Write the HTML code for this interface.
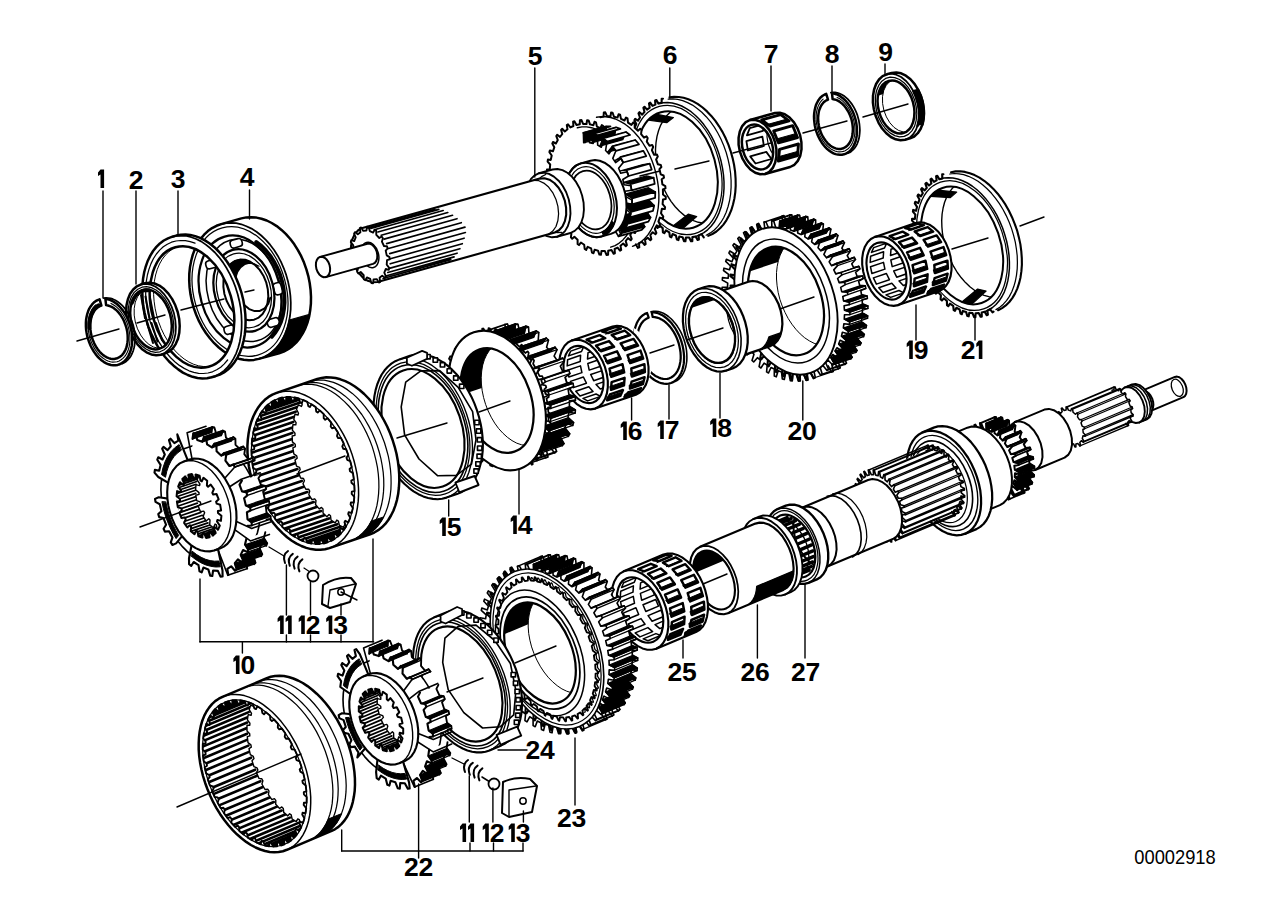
<!DOCTYPE html>
<html><head><meta charset="utf-8"><style>html,body{margin:0;padding:0;background:#fff;}svg{display:block;}</style></head>
<body><svg width="1288" height="910" viewBox="0 0 1288 910" stroke-linejoin="round" stroke-linecap="round">
<defs><clipPath id="c1"><path d="M903.3 133.0L907.4 130.9L910.7 127.2L913.1 122.1L914.3 115.9L914.2 109.2L912.9 102.3L910.4 95.7L907.0 89.9L902.8 85.3L898.2 82.1L893.4 80.7L888.7 81.0L884.6 83.1L881.3 86.8L878.9 91.9L877.7 98.1L877.8 104.8L879.1 111.7L881.6 118.3L885.0 124.1L889.2 128.7L893.8 131.9L898.6 133.3L903.3 133.0Z"/></clipPath><clipPath id="c2"><path d="M763.7 169.1L767.8 166.8L770.9 162.5L772.8 156.8L773.1 150.0L771.9 143.0L769.3 136.3L765.5 130.8L761.0 126.8L756.1 124.7L751.3 124.9L747.2 127.2L744.1 131.5L742.2 137.2L741.9 144.0L743.1 151.0L745.7 157.7L749.5 163.2L754.0 167.2L758.9 169.3L763.7 169.1Z"/></clipPath><clipPath id="c3"><path d="M693.1 227.7L697.4 226.0L701.4 223.6L705.1 220.4L708.4 216.5L711.3 212.0L713.7 206.8L715.5 201.2L716.8 195.1L717.6 188.7L717.8 182.0L717.4 175.1L716.4 168.2L714.9 161.2L712.9 154.5L710.4 147.9L707.3 141.6L703.9 135.8L700.1 130.4L696.0 125.5L691.6 121.3L686.9 117.8L682.2 115.0L677.4 113.0L672.5 111.8L667.8 111.4L663.2 111.8L658.7 113.1L654.5 115.1L650.7 117.9L647.2 121.5L644.1 125.7L641.5 130.5L639.3 135.9L637.8 141.8L636.7 148.1L636.2 154.7L636.3 161.4L637.0 168.4L638.2 175.3L640.0 182.2L642.3 188.9L645.1 195.3L648.3 201.4L652.0 207.0L655.9 212.1L660.2 216.6L664.7 220.5L669.4 223.7L674.2 226.1L679.0 227.7L683.8 228.5L688.6 228.5L693.1 227.7Z"/></clipPath><clipPath id="c4"><path d="M255.3 346.4L259.9 344.7L264.2 342.1L268.2 338.8L271.7 334.8L274.7 330.1L277.2 324.8L279.2 319.1L280.5 312.9L281.2 306.4L281.3 299.6L280.8 292.8L279.7 285.9L277.9 279.1L275.6 272.5L272.8 266.2L269.4 260.2L265.6 254.8L261.4 249.9L256.9 245.6L252.2 242.0L247.2 239.2L242.1 237.1L237.0 235.9L232.0 235.6L227.1 236.0L222.3 237.4L217.9 239.5L213.7 242.4L210.0 246.1L206.7 250.5L204.0 255.5L201.7 261.0L200.1 267.0L199.1 273.3L198.6 280.0L198.8 286.8L199.7 293.7L201.1 300.5L203.1 307.2L205.7 313.7L208.8 319.9L212.4 325.6L216.4 330.8L220.8 335.4L225.4 339.3L230.3 342.5L235.3 344.9L240.4 346.6L245.5 347.4L250.5 347.3L255.3 346.4Z"/></clipPath><clipPath id="c5"><path d="M208.7 366.7L213.0 365.1L217.0 362.7L220.7 359.6L224.1 355.8L227.0 351.4L229.5 346.4L231.5 340.8L232.9 334.9L233.8 328.6L234.2 321.9L234.1 315.1L233.4 308.2L232.1 301.3L230.3 294.5L228.0 287.8L225.3 281.3L222.1 275.2L218.5 269.5L214.6 264.3L210.4 259.7L206.0 255.7L201.3 252.3L196.6 249.7L191.8 247.8L186.9 246.6L182.2 246.3L177.6 246.8L173.1 248.0L169.0 250.0L165.1 252.8L161.5 256.2L158.4 260.3L155.7 265.1L153.5 270.3L151.7 276.1L150.5 282.2L149.9 288.7L149.8 295.4L150.2 302.3L151.2 309.2L152.7 316.1L154.8 322.9L157.3 329.5L160.2 335.8L163.6 341.7L167.4 347.1L171.4 352.0L175.8 356.4L180.3 360.1L185.0 363.1L189.8 365.4L194.7 366.9L199.4 367.6L204.1 367.6L208.7 366.7Z"/></clipPath><clipPath id="c6"><path d="M159.2 348.9L163.4 346.9L166.9 343.4L169.6 338.6L171.2 332.8L171.8 326.2L171.2 319.4L169.6 312.5L166.9 306.0L163.4 300.2L159.3 295.5L154.6 292.0L149.8 290.1L145.1 289.7L140.6 290.9L136.8 293.7L133.7 297.9L131.5 303.2L130.4 309.4L130.4 316.2L131.5 323.1L133.6 329.9L136.7 336.0L140.6 341.3L145.0 345.4L149.8 348.1L154.6 349.3L159.2 348.9Z"/></clipPath><clipPath id="c7"><path d="M981.6 302.9L985.6 301.1L989.4 298.6L992.8 295.3L995.7 291.3L998.2 286.7L1000.2 281.6L1001.7 276.0L1002.7 269.9L1003.1 263.6L1003.0 256.9L1002.3 250.2L1001.0 243.3L999.3 236.5L997.0 229.9L994.2 223.4L991.1 217.2L987.5 211.4L983.6 206.1L979.4 201.3L974.9 197.1L970.3 193.6L965.5 190.7L960.8 188.6L956.0 187.3L951.3 186.8L946.8 187.0L942.4 188.1L938.4 189.9L934.6 192.4L931.2 195.7L928.3 199.7L925.8 204.3L923.8 209.4L922.3 215.0L921.3 221.1L920.9 227.4L921.0 234.1L921.7 240.8L923.0 247.7L924.7 254.5L927.0 261.1L929.8 267.6L932.9 273.8L936.5 279.6L940.4 284.9L944.6 289.7L949.1 293.9L953.7 297.4L958.5 300.3L963.2 302.4L968.0 303.7L972.7 304.2L977.2 304.0L981.6 302.9Z"/></clipPath><clipPath id="c8"><path d="M896.0 298.9L900.0 296.7L903.1 293.0L905.3 287.9L906.4 281.9L906.3 275.3L905.1 268.4L902.8 261.7L899.6 255.5L895.6 250.2L891.1 246.1L886.3 243.5L881.5 242.4L877.0 243.1L873.0 245.3L869.9 249.0L867.7 254.1L866.6 260.1L866.7 266.7L867.9 273.6L870.2 280.3L873.4 286.5L877.4 291.8L881.9 295.9L886.7 298.5L891.5 299.6L896.0 298.9Z"/></clipPath><clipPath id="c9"><path d="M804.0 354.0L808.1 352.2L811.8 349.5L815.1 346.1L817.9 342.0L820.2 337.2L822.0 331.9L823.2 326.0L823.9 319.8L823.9 313.3L823.3 306.6L822.2 299.8L820.5 293.0L818.2 286.3L815.4 279.9L812.2 273.8L808.5 268.1L804.5 263.0L800.2 258.4L795.7 254.6L791.0 251.4L786.3 249.1L781.5 247.5L776.8 246.8L772.3 247.0L768.0 248.0L763.9 249.8L760.2 252.5L756.9 255.9L754.1 260.0L751.8 264.8L750.0 270.1L748.8 276.0L748.1 282.2L748.1 288.7L748.7 295.4L749.8 302.2L751.5 309.0L753.8 315.7L756.6 322.1L759.8 328.2L763.5 333.9L767.5 339.0L771.8 343.6L776.3 347.4L781.0 350.6L785.7 352.9L790.5 354.5L795.2 355.2L799.7 355.0L804.0 354.0Z"/></clipPath><clipPath id="c10"><path d="M723.0 362.2L726.9 360.0L730.3 356.6L732.8 352.0L734.4 346.4L735.0 340.1L734.7 333.4L733.3 326.5L731.0 319.8L727.9 313.5L724.1 307.9L719.7 303.3L715.1 299.9L710.2 297.8L705.5 297.1L701.0 297.8L697.1 300.0L693.7 303.4L691.2 308.0L689.6 313.6L689.0 319.9L689.3 326.6L690.7 333.5L693.0 340.2L696.1 346.5L699.9 352.1L704.3 356.7L708.9 360.1L713.8 362.2L718.5 362.9L723.0 362.2Z"/></clipPath><clipPath id="c11"><path d="M723.0 362.2L726.9 360.0L730.3 356.6L732.8 352.0L734.4 346.4L735.0 340.1L734.7 333.4L733.3 326.5L731.0 319.8L727.9 313.5L724.1 307.9L719.7 303.3L715.1 299.9L710.2 297.8L705.5 297.1L701.0 297.8L697.1 300.0L693.7 303.4L691.2 308.0L689.6 313.6L689.0 319.9L689.3 326.6L690.7 333.5L693.0 340.2L696.1 346.5L699.9 352.1L704.3 356.7L708.9 360.1L713.8 362.2L718.5 362.9L723.0 362.2Z"/></clipPath><clipPath id="c12"><path d="M593.0 402.4L597.0 400.2L600.1 396.5L602.3 391.4L603.4 385.4L603.3 378.8L602.1 371.9L599.8 365.2L596.6 359.0L592.6 353.7L588.1 349.6L583.3 347.0L578.5 345.9L574.0 346.6L570.0 348.8L566.9 352.5L564.7 357.6L563.6 363.6L563.7 370.2L564.9 377.1L567.2 383.8L570.4 390.0L574.4 395.3L578.9 399.4L583.7 402.0L588.5 403.1L593.0 402.4Z"/></clipPath><clipPath id="c13"><path d="M514.4 451.6L518.5 449.8L522.1 447.0L525.4 443.5L528.2 439.3L530.4 434.4L532.1 428.9L533.1 422.9L533.6 416.6L533.4 409.9L532.6 403.1L531.2 396.3L529.2 389.5L526.7 383.0L523.6 376.7L520.1 370.8L516.2 365.4L512.0 360.7L507.5 356.6L502.8 353.3L498.0 350.7L493.2 349.1L488.5 348.3L484.0 348.4L479.6 349.4L475.5 351.2L471.9 354.0L468.6 357.5L465.8 361.7L463.6 366.6L461.9 372.1L460.9 378.1L460.4 384.4L460.6 391.1L461.4 397.9L462.8 404.7L464.8 411.5L467.3 418.0L470.4 424.3L473.9 430.2L477.8 435.6L482.0 440.3L486.5 444.4L491.2 447.7L496.0 450.3L500.8 451.9L505.5 452.7L510.0 452.6L514.4 451.6Z"/></clipPath><clipPath id="c14"><path d="M327.5 542.4L331.6 540.7L335.4 538.4L339.0 535.5L342.2 532.0L345.1 528.0L347.7 523.5L349.9 518.6L351.6 513.3L353.0 507.6L353.9 501.5L354.4 495.3L354.5 488.8L354.1 482.1L353.3 475.3L352.1 468.6L350.4 461.8L348.3 455.1L345.9 448.5L343.1 442.1L339.9 436.0L336.4 430.1L332.7 424.6L328.6 419.5L324.4 414.8L320.0 410.6L315.4 406.9L310.8 403.8L306.0 401.2L301.3 399.2L296.5 397.8L291.8 397.1L287.3 396.9L282.8 397.4L278.5 398.6L274.4 400.3L270.6 402.6L267.0 405.5L263.8 409.0L260.9 413.0L258.3 417.5L256.1 422.4L254.4 427.7L253.0 433.4L252.1 439.5L251.6 445.7L251.5 452.2L251.9 458.9L252.7 465.7L253.9 472.4L255.6 479.2L257.7 485.9L260.1 492.5L262.9 498.9L266.1 505.0L269.6 510.9L273.3 516.4L277.4 521.5L281.6 526.2L286.0 530.4L290.6 534.1L295.2 537.2L300.0 539.8L304.7 541.8L309.5 543.2L314.2 543.9L318.7 544.1L323.2 543.6L327.5 542.4Z"/></clipPath><clipPath id="c15"><path d="M209.6 537.2L213.6 535.1L216.9 531.5L219.4 526.8L220.9 521.1L221.4 514.7L220.8 507.9L219.2 501.0L216.7 494.3L213.3 488.2L209.3 482.9L204.8 478.7L200.0 475.8L195.2 474.3L190.6 474.2L186.3 475.7L182.6 478.5L179.7 482.7L177.7 487.9L176.7 494.0L176.8 500.7L177.9 507.6L179.9 514.4L182.9 520.8L186.6 526.6L190.9 531.3L195.6 534.9L200.4 537.2L205.2 537.9L209.6 537.2Z"/></clipPath><clipPath id="c16"><path d="M805.8 576.4L809.4 574.1L812.3 570.4L814.2 565.6L815.2 559.8L815.1 553.5L814.0 546.7L811.9 540.0L808.9 533.5L805.2 527.6L800.9 522.6L796.3 518.6L791.5 516.0L786.7 514.7L782.3 514.9L778.3 516.6L775.1 519.6L772.6 523.9L771.2 529.2L770.7 535.3L771.3 541.9L772.9 548.7L775.5 555.3L778.8 561.5L782.9 567.0L787.4 571.5L792.1 574.9L796.9 576.8L801.6 577.4L805.8 576.4Z"/></clipPath><clipPath id="c17"><path d="M726.0 608.6L729.6 606.1L732.4 602.3L734.2 597.3L734.9 591.3L734.5 584.7L733.0 577.9L730.4 571.1L727.0 564.9L722.8 559.5L718.2 555.1L713.4 552.2L708.6 550.7L704.1 550.8L700.1 552.5L696.8 555.6L694.5 560.1L693.3 565.6L693.1 572.0L694.1 578.7L696.2 585.5L699.2 592.1L703.0 597.9L707.4 602.8L712.2 606.5L717.0 608.8L721.7 609.5L726.0 608.6Z"/></clipPath><clipPath id="c18"><path d="M653.3 641.7L657.0 639.4L659.9 635.7L662.0 631.0L663.1 625.3L663.2 618.9L662.2 612.2L660.3 605.4L657.5 598.7L654.0 592.6L649.8 587.2L645.2 582.8L640.4 579.6L635.6 577.7L630.9 577.3L626.7 578.3L623.0 580.6L620.1 584.3L618.0 589.0L616.9 594.7L616.8 601.1L617.8 607.8L619.7 614.6L622.5 621.3L626.0 627.4L630.2 632.8L634.8 637.2L639.6 640.4L644.4 642.3L649.1 642.7L653.3 641.7Z"/></clipPath><clipPath id="c19"><path d="M560.5 701.9L564.3 699.8L567.6 696.9L570.4 693.2L572.6 688.8L574.3 683.7L575.4 678.1L575.8 672.1L575.6 665.7L574.7 659.1L573.3 652.3L571.2 645.6L568.6 639.1L565.5 632.7L561.9 626.8L557.9 621.3L553.7 616.3L549.1 612.0L544.4 608.5L539.7 605.7L534.9 603.8L530.2 602.8L525.7 602.7L521.5 603.4L517.5 605.1L514.0 607.6L511.0 610.9L508.4 615.0L506.5 619.7L505.1 625.0L504.4 630.9L504.2 637.1L504.8 643.6L505.9 650.3L507.7 657.0L510.0 663.7L512.9 670.2L516.2 676.3L520.0 682.1L524.2 687.3L528.6 691.9L533.2 695.8L538.0 699.0L542.7 701.3L547.5 702.8L552.1 703.4L556.4 703.1L560.5 701.9Z"/></clipPath><clipPath id="c20"><path d="M393.8 750.4L397.4 748.1L400.3 744.4L402.2 739.6L403.2 733.8L403.1 727.5L402.0 720.7L399.9 714.0L396.9 707.5L393.2 701.6L388.9 696.6L384.3 692.6L379.5 690.0L374.7 688.7L370.3 688.9L366.3 690.6L363.1 693.6L360.6 697.9L359.2 703.2L358.7 709.3L359.3 715.9L360.9 722.7L363.5 729.3L366.8 735.5L370.9 741.0L375.4 745.5L380.1 748.9L384.9 750.8L389.6 751.4L393.8 750.4Z"/></clipPath><clipPath id="c21"><path d="M284.5 844.3L288.3 842.4L291.8 839.9L294.9 836.8L297.8 833.2L300.2 829.2L302.3 824.6L304.0 819.7L305.3 814.3L306.2 808.7L306.6 802.7L306.7 796.5L306.2 790.1L305.4 783.5L304.1 776.9L302.5 770.2L300.4 763.6L298.0 757.0L295.2 750.6L292.0 744.4L288.6 738.4L284.8 732.7L280.9 727.3L276.7 722.3L272.3 717.7L267.8 713.6L263.1 710.0L258.4 706.9L253.7 704.4L249.0 702.4L244.3 701.1L239.7 700.3L235.2 700.1L230.9 700.5L226.8 701.6L223.0 703.2L219.3 705.4L216.0 708.2L213.0 711.5L210.4 715.3L208.1 719.6L206.2 724.4L204.7 729.5L203.6 735.1L202.9 740.9L202.7 747.0L202.9 753.3L203.5 759.8L204.6 766.4L206.0 773.1L207.9 779.7L210.2 786.3L212.8 792.8L215.8 799.1L219.1 805.3L222.7 811.1L226.5 816.7L230.6 821.9L234.9 826.6L239.4 831.0L243.9 834.8L248.6 838.2L253.3 841.0L258.1 843.3L262.8 844.9L267.4 846.0L271.9 846.5L276.3 846.4L280.5 845.6L284.5 844.3Z"/></clipPath></defs>
<rect width="1288" height="910" fill="#fff"/>
<path d="M886.9 74.3L882.6 76.2L879.0 79.5L876.1 84.0L874.1 89.5L873.0 95.8L872.9 102.5L873.9 109.5L875.8 116.3L878.6 122.8L882.1 128.5L886.3 133.3L890.9 137.0L895.7 139.3L900.5 140.3L905.1 139.7L910.0 138.4L914.2 136.5L917.8 133.2L920.7 128.7L922.8 123.2L923.8 116.9L923.9 110.1L922.9 103.2L921.0 96.3L918.2 89.9L914.7 84.1L910.5 79.3L905.9 75.7L901.1 73.3L896.3 72.4L891.7 72.9ZM903.3 133.0L907.4 130.9L910.7 127.2L913.1 122.1L914.3 115.9L914.2 109.2L912.9 102.3L910.4 95.7L907.0 89.9L902.8 85.3L898.2 82.1L893.4 80.7L888.7 81.0L884.6 83.1L881.3 86.8L878.9 91.9L877.7 98.1L877.8 104.8L879.1 111.7L881.6 118.3L885.0 124.1L889.2 128.7L893.8 131.9L898.6 133.3L903.3 133.0Z" fill="#fff" stroke="none" fill-rule="evenodd"/>
<path d="M886.9 74.3L882.6 76.2L879.0 79.5L876.1 84.0L874.1 89.5L873.0 95.8L872.9 102.5L873.9 109.5L875.8 116.3L878.6 122.8L882.1 128.5L886.3 133.3L890.9 137.0L895.7 139.3L900.5 140.3L905.1 139.7L910.0 138.4L914.2 136.5L917.8 133.2L920.7 128.7L922.8 123.2L923.8 116.9L923.9 110.1L922.9 103.2L921.0 96.3L918.2 89.9L914.7 84.1L910.5 79.3L905.9 75.7L901.1 73.3L896.3 72.4L891.7 72.9Z" fill="none" stroke="#000" stroke-width="2.5" />
<path d="M905.1 139.7L909.4 137.8L913.0 134.5L915.9 130.0L917.9 124.5L919.0 118.2L919.1 111.5L918.1 104.5L916.2 97.7L913.4 91.2L909.9 85.5L905.7 80.7L901.1 77.0L896.3 74.7L891.5 73.7L886.9 74.3" fill="none" stroke="#000" stroke-width="1.75" />
<path d="M904.2 136.4L908.4 134.4L911.9 130.9L914.6 126.1L916.2 120.3L916.8 113.7L916.2 106.9L914.6 100.0L911.9 93.5L908.4 87.7L904.3 83.0L899.6 79.5L894.8 77.6L890.1 77.2L885.6 78.4L881.8 81.2L878.7 85.4L876.5 90.7L875.4 96.9L875.4 103.7L876.5 110.6L878.6 117.4L881.7 123.5L885.6 128.8L890.0 132.9L894.8 135.6L899.6 136.8L904.2 136.4" fill="none" stroke="#000" stroke-width="1.25" />
<g clip-path="url(#c1)"><path d="M903.3 133.0L907.4 130.9L910.7 127.2L913.1 122.1L914.3 115.9L914.2 109.2L912.9 102.3L910.4 95.7L907.0 89.9L902.8 85.3L898.2 82.1L893.4 80.7L888.7 81.0L884.6 83.1L881.3 86.8L878.9 91.9L877.7 98.1L877.8 104.8L879.1 111.7L881.6 118.3L885.0 124.1L889.2 128.7L893.8 131.9L898.6 133.3L903.3 133.0ZM908.1 131.7L912.2 129.6L915.6 125.8L917.9 120.7L919.1 114.6L919.0 107.8L917.7 100.9L915.3 94.4L911.8 88.6L907.6 83.9L903.0 80.8L898.2 79.3L893.6 79.7L889.4 81.8L886.1 85.5L883.7 90.6L882.5 96.7L882.6 103.5L883.9 110.4L886.4 116.9L889.8 122.7L894.0 127.4L898.7 130.5L903.5 132.0L908.1 131.7Z" fill="#fff" fill-rule="evenodd"/><path d="M897.2 81.7L892.9 80.6L888.7 81.0L885.0 82.8L881.9 86.0L879.5 90.3L878.1 95.5L882.9 94.2L884.3 88.9L886.7 84.6L889.8 81.5L893.6 79.7L897.7 79.3L902.0 80.3Z" fill="#000"/><path d="M908.1 131.7L912.2 129.6L915.6 125.8L917.9 120.7L919.1 114.6L919.0 107.8L917.7 100.9L915.3 94.4L911.8 88.6L907.6 83.9L903.0 80.8L898.2 79.3L893.6 79.7L889.4 81.8L886.1 85.5L883.7 90.6L882.5 96.7L882.6 103.5L883.9 110.4L886.4 116.9L889.8 122.7L894.0 127.4L898.7 130.5L903.5 132.0L908.1 131.7Z" fill="none" stroke="#000" stroke-width="1.0"/></g>
<ellipse cx="896.0" cy="107.0" rx="17.6" ry="27.0" transform="rotate(-15.6 896.0 107.0)" fill="none" stroke="#000" stroke-width="2.5" />
<path d="M917.5 126.0L918.7 120.7L919.2 114.9L918.8 108.9L917.7 102.8L915.9 96.8L913.4 91.2L918.2 89.9L920.7 95.5L922.6 101.4L923.6 107.5L924.0 113.5L923.5 119.3L922.3 124.6" fill="#000" stroke="#000" stroke-width="2.5" />
<path d="M826.2 93.9L824.4 94.7L822.6 95.8L820.9 97.2L819.4 98.9L818.1 100.8L816.9 103.0L815.9 105.3L815.2 107.9L814.6 110.6L814.2 113.4L814.0 116.4L814.1 119.4L814.4 122.4L814.8 125.5L815.5 128.6L816.4 131.6L817.5 134.6L818.8 137.4L820.2 140.1L821.8 142.7L823.5 145.0L825.3 147.2L827.2 149.1L829.3 150.7L831.4 152.1L833.5 153.3L835.6 154.1L837.8 154.6L839.9 154.8L842.0 154.7L844.0 154.3L845.9 153.6L847.7 152.6L849.4 151.4L851.0 149.8L852.4 148.0L853.6 145.9L854.7 143.6L855.6 141.2L856.2 138.5L856.7 135.7L856.9 132.8L856.9 129.8L856.8 126.8L856.4 123.7L855.8 120.6L855.0 117.6L854.0 114.6L852.8 111.7L851.4 109.0L849.9 106.3L848.2 103.9L846.4 101.7L844.5 99.7L842.5 97.9L840.5 96.4L838.4 95.1L836.2 94.2L834.1 93.6L832.0 93.2L832.6 99.1L834.4 99.4L836.1 99.9L837.8 100.6L839.5 101.6L841.2 102.9L842.8 104.3L844.4 105.9L845.8 107.7L847.1 109.7L848.4 111.8L849.5 114.1L850.4 116.4L851.3 118.8L851.9 121.3L852.4 123.8L852.7 126.3L852.9 128.7L852.8 131.2L852.6 133.5L852.3 135.8L851.7 137.9L851.0 139.9L850.2 141.7L849.2 143.4L848.0 144.9L846.8 146.1L845.4 147.2L843.9 148.0L842.4 148.6L840.7 148.9L839.0 149.0L837.3 148.8L835.6 148.4L833.9 147.7L832.1 146.8L830.5 145.7L828.8 144.3L827.3 142.8L825.8 141.0L824.4 139.1L823.1 137.0L821.9 134.9L820.9 132.6L820.1 130.2L819.3 127.7L818.8 125.2L818.4 122.7L818.2 120.3L818.1 117.8L818.3 115.4L818.6 113.1L819.0 110.9L819.7 108.9L820.5 107.0L821.4 105.2L822.5 103.7L823.7 102.3L825.0 101.2L826.5 100.3L828.0 99.6Z" fill="#fff" stroke="#000" stroke-width="2.5" />
<path d="M847.8 153.2L849.7 152.4L851.5 151.2L853.2 149.7L854.7 148.0L856.0 146.0L857.2 143.8L858.1 141.4L858.9 138.8L859.4 136.0L859.7 133.1L859.9 130.1L859.7 127.0L859.4 123.9L858.9 120.8L858.1 117.7L857.2 114.6L856.0 111.7L854.7 108.9L853.2 106.2L851.5 103.6L849.7 101.3L847.8 99.2L845.8 97.4L843.8 95.8L841.6 94.5L839.5 93.5L837.3 92.8L835.1 92.4L833.0 92.4L830.9 92.6" fill="none" stroke="#000" stroke-width="1.75" />
<path d="M823.1 99.1L821.5 100.7L820.1 102.5L818.9 104.6L817.9 106.9L817.1 109.4L816.5 112.1L816.2 114.9L816.1 117.9L816.2 120.9L816.6 124.0L817.2 127.0L818.0 130.1L819.0 133.0L820.2 135.9L821.6 138.6L823.2 141.1L824.9 143.4L826.8 145.5L828.8 147.3L830.8 148.9L832.9 150.1L835.0 151.0L837.2 151.6L839.3 151.9L841.3 151.8L843.3 151.4L845.2 150.7L847.0 149.6L848.7 148.2L850.2 146.5L851.5 144.6L852.6 142.4L853.5 140.0L854.2 137.4L854.7 134.6L854.9 131.7L854.9 128.7L854.7 125.7L854.2 122.6L853.5 119.6L852.6 116.6L851.5 113.7L850.1 110.9L848.7 108.2L847.0 105.8L845.2 103.6L843.3 101.6L841.3 99.9L839.3 98.5L837.1 97.4" fill="none" stroke="#000" stroke-width="1.12" />
<path d="M750.0 120.0L745.7 122.2L742.2 126.1L739.8 131.4L738.6 137.8L738.6 144.7L740.0 151.9L742.5 158.7L746.1 164.7L750.4 169.5L755.3 172.8L760.2 174.3L765.0 174.0L790.1 167.0L794.4 164.8L797.8 160.9L800.3 155.6L801.5 149.3L801.4 142.3L800.1 135.1L797.5 128.3L794.0 122.3L789.6 117.5L784.8 114.2L779.8 112.7L775.0 113.0ZM763.7 169.1L767.8 166.8L770.9 162.5L772.8 156.8L773.1 150.0L771.9 143.0L769.3 136.3L765.5 130.8L761.0 126.8L756.1 124.7L751.3 124.9L747.2 127.2L744.1 131.5L742.2 137.2L741.9 144.0L743.1 151.0L745.7 157.7L749.5 163.2L754.0 167.2L758.9 169.3L763.7 169.1Z" fill="#fff" stroke="none" fill-rule="evenodd"/>
<path d="M750.0 120.0L745.7 122.2L742.2 126.1L739.8 131.4L738.6 137.8L738.6 144.7L740.0 151.9L742.5 158.7L746.1 164.7L750.4 169.5L755.3 172.8L760.2 174.3L765.0 174.0L790.1 167.0L794.4 164.8L797.8 160.9L800.3 155.6L801.5 149.3L801.4 142.3L800.1 135.1L797.5 128.3L794.0 122.3L789.6 117.5L784.8 114.2L779.8 112.7L775.0 113.0Z" fill="none" stroke="#000" stroke-width="2.5" />
<path d="M765.0 174.0L769.3 171.8L772.8 167.9L775.2 162.6L776.4 156.2L776.4 149.3L775.0 142.1L772.5 135.3L768.9 129.3L764.6 124.5L759.7 121.2L754.8 119.7L750.0 120.0" fill="none" stroke="#000" stroke-width="2.5" />
<path d="M778.4 161.1L797.5 155.7L798.5 144.0L779.5 149.3ZM778.4 142.8L797.5 137.5L792.7 125.7L773.7 131.0ZM770.0 126.1L789.1 120.8L780.7 114.6L761.7 119.9Z" fill="#fff" stroke="#000" stroke-width="2.88" />
<path d="M778.4 161.1L797.5 155.7L797.3 151.5L778.3 156.8ZM778.4 142.8L797.5 137.5L795.4 133.7L776.4 139.0ZM770.0 126.1L789.1 120.8L786.1 119.3L767.0 124.6Z" fill="#000" stroke="#000" stroke-width="1.0" />
<g clip-path="url(#c2)"><path d="M763.7 169.1L767.8 166.8L770.9 162.5L772.8 156.8L773.1 150.0L771.9 143.0L769.3 136.3L765.5 130.8L761.0 126.8L756.1 124.7L751.3 124.9L747.2 127.2L744.1 131.5L742.2 137.2L741.9 144.0L743.1 151.0L745.7 157.7L749.5 163.2L754.0 167.2L758.9 169.3L763.7 169.1ZM788.7 162.1L792.9 159.8L796.0 155.5L797.8 149.8L798.1 143.0L796.9 136.0L794.3 129.4L790.5 123.8L786.0 119.8L781.1 117.7L776.4 117.9L772.2 120.2L769.1 124.5L767.3 130.3L767.0 137.0L768.2 144.0L770.8 150.7L774.5 156.3L779.1 160.3L784.0 162.3L788.7 162.1Z" fill="#fff" fill-rule="evenodd"/><path d="M749.8 128.1L765.8 123.6L762.9 130.8L746.9 135.3ZM746.4 141.2L762.4 136.7L763.9 146.0L747.9 150.5ZM750.2 156.4L766.3 151.9L771.5 159.0L755.5 163.5Z" fill="#fff" stroke="#000" stroke-width="1.8"/><path d="M776.4 117.9L772.2 120.2L769.1 124.5L767.3 130.3L767.0 137.0L768.2 144.0L770.8 150.7L774.5 156.3L779.1 160.3L784.0 162.3L788.7 162.1" fill="none" stroke="#000" stroke-width="1.2"/></g>
<ellipse cx="757.5" cy="147.0" rx="14.9" ry="23.0" transform="rotate(-15.6 757.5 147.0)" fill="none" stroke="#000" stroke-width="2.5" />
<path d="M658.4 103.5L656.4 100.0L655.1 100.4L655.4 104.6L652.5 105.9L650.2 102.7L649.0 103.4L649.7 107.6L647.0 109.6L644.5 106.8L643.4 107.8L644.5 111.9L642.2 114.6L639.5 112.2L638.5 113.5L640.0 117.5L638.0 120.6L635.2 118.8L634.4 120.3L636.3 124.0L634.7 127.7L631.8 126.4L631.2 128.1L633.3 131.5L632.2 135.6L629.3 134.9L628.9 136.7L631.3 139.8L630.6 144.2L627.8 144.1L627.6 146.1L630.2 148.7L630.0 153.4L627.3 153.9L627.3 155.9L630.0 158.1L630.3 162.8L627.8 164.0L628.0 166.0L630.8 167.7L631.6 172.5L629.3 174.2L629.7 176.2L632.6 177.3L633.8 182.1L631.7 184.3L632.3 186.3L635.2 186.8L636.9 191.4L635.1 194.1L635.9 196.0L638.7 195.9L640.8 200.3L639.4 203.4L640.3 205.2L643.0 204.5L645.4 208.6L644.4 212.1L645.5 213.7L648.0 212.4L650.7 216.1L650.1 219.9L651.3 221.3L653.5 219.5L656.5 222.6L656.3 226.6L657.6 227.9L659.6 225.5L662.7 228.1L662.9 232.3L664.3 233.2L666.0 230.4L669.3 232.4L669.9 236.6L671.3 237.3L672.6 234.1L675.9 235.5L676.9 239.6L678.4 240.1L679.3 236.5L682.6 237.2L684.0 241.2L685.4 241.3L685.9 237.5L689.2 237.5L691.0 241.3L692.3 241.2L692.4 237.1L695.6 236.5L706.0 236.7L710.3 235.1L714.4 232.9L718.2 230.0L721.8 226.6L725.0 222.5L727.8 218.0L730.2 212.9L732.2 207.4L733.8 201.6L734.9 195.4L735.5 188.9L735.7 182.2L735.4 175.4L734.6 168.5L733.4 161.6L731.7 154.7L729.6 148.0L727.1 141.4L724.1 135.1L720.9 129.1L717.3 123.5L713.4 118.3L709.2 113.6L704.8 109.4L700.3 105.7L695.6 102.7L690.8 100.2L686.0 98.4L681.2 97.3L676.4 96.8L671.8 97.1L667.3 98.0ZM693.1 227.7L697.4 226.0L701.4 223.6L705.1 220.4L708.4 216.5L711.3 212.0L713.7 206.8L715.5 201.2L716.8 195.1L717.6 188.7L717.8 182.0L717.4 175.1L716.4 168.2L714.9 161.2L712.9 154.5L710.4 147.9L707.3 141.6L703.9 135.8L700.1 130.4L696.0 125.5L691.6 121.3L686.9 117.8L682.2 115.0L677.4 113.0L672.5 111.8L667.8 111.4L663.2 111.8L658.7 113.1L654.5 115.1L650.7 117.9L647.2 121.5L644.1 125.7L641.5 130.5L639.3 135.9L637.8 141.8L636.7 148.1L636.2 154.7L636.3 161.4L637.0 168.4L638.2 175.3L640.0 182.2L642.3 188.9L645.1 195.3L648.3 201.4L652.0 207.0L655.9 212.1L660.2 216.6L664.7 220.5L669.4 223.7L674.2 226.1L679.0 227.7L683.8 228.5L688.6 228.5L693.1 227.7Z" fill="#fff" stroke="none" fill-rule="evenodd"/>
<path d="M658.4 103.5L656.4 100.0L655.1 100.4L655.4 104.6L652.5 105.9L650.2 102.7L649.0 103.4L649.7 107.6L647.0 109.6L644.5 106.8L643.4 107.8L644.5 111.9L642.2 114.6L639.5 112.2L638.5 113.5L640.0 117.5L638.0 120.6L635.2 118.8L634.4 120.3L636.3 124.0L634.7 127.7L631.8 126.4L631.2 128.1L633.3 131.5L632.2 135.6L629.3 134.9L628.9 136.7L631.3 139.8L630.6 144.2L627.8 144.1L627.6 146.1L630.2 148.7L630.0 153.4L627.3 153.9L627.3 155.9L630.0 158.1L630.3 162.8L627.8 164.0L628.0 166.0L630.8 167.7L631.6 172.5L629.3 174.2L629.7 176.2L632.6 177.3L633.8 182.1L631.7 184.3L632.3 186.3L635.2 186.8L636.9 191.4L635.1 194.1L635.9 196.0L638.7 195.9L640.8 200.3L639.4 203.4L640.3 205.2L643.0 204.5L645.4 208.6L644.4 212.1L645.5 213.7L648.0 212.4L650.7 216.1L650.1 219.9L651.3 221.3L653.5 219.5L656.5 222.6L656.3 226.6L657.6 227.9L659.6 225.5L662.7 228.1L662.9 232.3L664.3 233.2L666.0 230.4L669.3 232.4L669.9 236.6L671.3 237.3L672.6 234.1L675.9 235.5L676.9 239.6L678.4 240.1L679.3 236.5L682.6 237.2L684.0 241.2L685.4 241.3L685.9 237.5L689.2 237.5L691.0 241.3L692.3 241.2L692.4 237.1L695.6 236.5L706.0 236.7L710.3 235.1L714.4 232.9L718.2 230.0L721.8 226.6L725.0 222.5L727.8 218.0L730.2 212.9L732.2 207.4L733.8 201.6L734.9 195.4L735.5 188.9L735.7 182.2L735.4 175.4L734.6 168.5L733.4 161.6L731.7 154.7L729.6 148.0L727.1 141.4L724.1 135.1L720.9 129.1L717.3 123.5L713.4 118.3L709.2 113.6L704.8 109.4L700.3 105.7L695.6 102.7L690.8 100.2L686.0 98.4L681.2 97.3L676.4 96.8L671.8 97.1L667.3 98.0Z" fill="none" stroke="none" />
<path d="M663.0 98.7L661.7 98.8L661.6 102.9L658.4 103.5L656.4 100.0L655.1 100.4L655.4 104.6L652.5 105.9L650.2 102.7L649.0 103.4L649.7 107.6L647.0 109.6L644.5 106.8L643.4 107.8L644.5 111.9L642.2 114.6L639.5 112.2L638.5 113.5L640.0 117.5L638.0 120.6L635.2 118.8L634.4 120.3L636.3 124.0L634.7 127.7L631.8 126.4L631.2 128.1L633.3 131.5L632.2 135.6L629.3 134.9L628.9 136.7L631.3 139.8L630.6 144.2L627.8 144.1L627.6 146.1L630.2 148.7L630.0 153.4L627.3 153.9L627.3 155.9L630.0 158.1L630.3 162.8L627.8 164.0L628.0 166.0L630.8 167.7L631.6 172.5L629.3 174.2L629.7 176.2L632.6 177.3L633.8 182.1L631.7 184.3L632.3 186.3L635.2 186.8L636.9 191.4L635.1 194.1L635.9 196.0L638.7 195.9L640.8 200.3L639.4 203.4L640.3 205.2L643.0 204.5L645.4 208.6L644.4 212.1L645.5 213.7L648.0 212.4L650.7 216.1L650.1 219.9L651.3 221.3L653.5 219.5L656.5 222.6L656.3 226.6L657.6 227.9L659.6 225.5L662.7 228.1L662.9 232.3L664.3 233.2L666.0 230.4L669.3 232.4L669.9 236.6L671.3 237.3L672.6 234.1L675.9 235.5L676.9 239.6L678.4 240.1L679.3 236.5L682.6 237.2L684.0 241.2L685.4 241.3L685.9 237.5L689.2 237.5L691.0 241.3L692.3 241.2L692.4 237.1L695.6 236.5L697.6 240.0L698.9 239.6L698.6 235.4L701.5 234.1L703.8 237.3" fill="none" stroke="#000" stroke-width="2.12" />
<path d="M708.2 235.9L712.4 234.0L716.4 231.5L720.1 228.3L723.4 224.6L726.4 220.3L729.0 215.5L731.3 210.2L733.0 204.5L734.4 198.5L735.3 192.1L735.7 185.6L735.6 178.8L735.1 171.9L734.1 165.0L732.6 158.1L730.7 151.3L728.4 144.7L725.7 138.3L722.6 132.1L719.1 126.3L715.4 120.9L711.3 115.9L707.0 111.4L702.6 107.5L698.0 104.1L693.2 101.4L688.4 99.3L683.6 97.8L678.8 97.0L674.1 96.9L669.5 97.4" fill="none" stroke="#000" stroke-width="2.12" />
<path d="M706.2 235.2L710.4 232.9L714.3 230.0L717.8 226.4L721.0 222.2L723.8 217.5L726.2 212.2L728.1 206.5L729.6 200.5L730.6 194.1L731.1 187.4L731.1 180.5L730.6 173.5L729.6 166.5L728.1 159.5L726.2 152.5L723.8 145.8L721.0 139.2L717.8 133.0L714.3 127.1L710.4 121.7L706.2 116.7L701.8 112.2L697.2 108.4L692.5 105.1L687.6 102.6L682.7 100.6L677.8 99.4L673.0 98.9L668.2 99.1" fill="none" stroke="#000" stroke-width="1.25" />
<path d="M695.6 236.5L699.8 234.9L703.9 232.7L707.6 229.8L711.1 226.3L714.2 222.3L716.9 217.7L719.2 212.6L721.1 207.0L722.5 201.1L723.5 194.9L724.0 188.4L724.0 181.8L723.5 175.0L722.5 168.1L721.1 161.3L719.2 154.6L716.9 148.0L714.2 141.7L711.1 135.6L707.6 129.9L703.8 124.6L699.8 119.8L695.5 115.5L691.1 111.7L686.4 108.6L681.7 106.0L677.0 104.2L672.2 103.0L667.5 102.5L662.9 102.7L658.4 103.5" fill="none" stroke="#000" stroke-width="1.5" />
<ellipse cx="677.0" cy="170.0" rx="42.9" ry="66.0" transform="rotate(-15.6 677.0 170.0)" fill="none" stroke="#000" stroke-width="1.25" />
<g clip-path="url(#c3)"><path d="M693.1 227.7L697.4 226.0L701.4 223.6L705.1 220.4L708.4 216.5L711.3 212.0L713.7 206.8L715.5 201.2L716.8 195.1L717.6 188.7L717.8 182.0L717.4 175.1L716.4 168.2L714.9 161.2L712.9 154.5L710.4 147.9L707.3 141.6L703.9 135.8L700.1 130.4L696.0 125.5L691.6 121.3L686.9 117.8L682.2 115.0L677.4 113.0L672.5 111.8L667.8 111.4L663.2 111.8L658.7 113.1L654.5 115.1L650.7 117.9L647.2 121.5L644.1 125.7L641.5 130.5L639.3 135.9L637.8 141.8L636.7 148.1L636.2 154.7L636.3 161.4L637.0 168.4L638.2 175.3L640.0 182.2L642.3 188.9L645.1 195.3L648.3 201.4L652.0 207.0L655.9 212.1L660.2 216.6L664.7 220.5L669.4 223.7L674.2 226.1L679.0 227.7L683.8 228.5L688.6 228.5L693.1 227.7ZM712.4 222.3L716.7 220.6L720.7 218.2L724.4 215.0L727.7 211.1L730.6 206.6L732.9 201.5L734.8 195.8L736.1 189.7L736.9 183.3L737.0 176.6L736.7 169.7L735.7 162.8L734.2 155.9L732.2 149.1L729.6 142.5L726.6 136.2L723.2 130.4L719.4 125.0L715.2 120.2L710.8 116.0L706.2 112.4L701.5 109.7L696.6 107.6L691.8 106.4L687.0 106.0L682.4 106.4L678.0 107.7L673.8 109.7L669.9 112.5L666.4 116.1L663.3 120.3L660.7 125.1L658.6 130.5L657.0 136.4L656.0 142.7L655.5 149.3L655.6 156.1L656.3 163.0L657.5 169.9L659.3 176.8L661.6 183.5L664.4 189.9L667.6 196.0L671.2 201.6L675.2 206.7L679.5 211.3L684.0 215.1L688.7 218.3L693.5 220.7L698.3 222.3L703.1 223.1L707.8 223.1L712.4 222.3Z" fill="#fff" fill-rule="evenodd"/><path d="M712.4 222.3L716.7 220.6L720.7 218.2L724.4 215.0L727.7 211.1L730.6 206.6L732.9 201.5L734.8 195.8L736.1 189.7L736.9 183.3L737.0 176.6L736.7 169.7L735.7 162.8L734.2 155.9L732.2 149.1L729.6 142.5L726.6 136.2L723.2 130.4L719.4 125.0L715.2 120.2L710.8 116.0L706.2 112.4L701.5 109.7L696.6 107.6L691.8 106.4L687.0 106.0L682.4 106.4L678.0 107.7L673.8 109.7L669.9 112.5L666.4 116.1L663.3 120.3L660.7 125.1L658.6 130.5L657.0 136.4L656.0 142.7L655.5 149.3L655.6 156.1L656.3 163.0L657.5 169.9L659.3 176.8L661.6 183.5L664.4 189.9L667.6 196.0L671.2 201.6L675.2 206.7L679.5 211.3L684.0 215.1L688.7 218.3L693.5 220.7L698.3 222.3L703.1 223.1L707.8 223.1L712.4 222.3Z" fill="none" stroke="#000" stroke-width="1.4"/></g>
<ellipse cx="677.0" cy="170.0" rx="38.9" ry="59.9" transform="rotate(-15.6 677.0 170.0)" fill="none" stroke="#000" stroke-width="2.0" />
<path d="M656.1 114.2L648.4 120.1L666.7 122.7L673.4 117.6Z" fill="#000" stroke="#000" stroke-width="1.25" />
<path d="M673.3 225.7L683.0 228.4L696.7 216.6L688.2 214.2Z" fill="#000" stroke="#000" stroke-width="1.25" />
<path d="M576.5 124.9L574.4 121.3L573.1 121.8L573.4 126.0L570.4 127.4L568.0 124.3L566.8 125.1L567.5 129.3L564.8 131.5L562.2 128.8L561.1 129.9L562.3 134.0L560.0 136.9L557.2 134.7L556.3 136.1L557.8 140.1L555.9 143.5L553.0 142.0L552.3 143.6L554.3 147.3L552.9 151.3L549.9 150.4L549.4 152.1L551.7 155.5L550.8 159.9L547.9 159.6L547.6 161.6L550.2 164.5L549.8 169.2L547.0 169.6L547.0 171.7L549.7 174.0L549.9 179.0L547.3 180.0L547.5 182.1L550.4 183.9L551.1 188.9L548.7 190.6L549.1 192.7L552.1 193.9L553.3 198.9L551.3 201.1L551.9 203.2L554.8 203.7L556.5 208.5L554.8 211.3L555.7 213.3L558.5 213.2L560.7 217.7L559.4 220.9L560.4 222.7L563.1 222.0L565.7 226.0L564.8 229.7L566.0 231.3L568.4 229.9L571.4 233.5L570.9 237.4L572.2 238.8L574.4 236.8L577.6 239.8L577.6 243.9L579.0 245.1L580.9 242.5L584.2 244.8L584.7 249.0L586.2 249.9L587.6 246.8L591.1 248.4L592.0 252.6L593.5 253.2L594.6 249.7L598.0 250.6L599.4 254.6L600.9 254.8L601.5 251.0L604.9 251.1L606.6 255.0L608.1 254.8L608.2 250.8L611.5 250.1L635.8 244.3L637.9 247.9L639.3 247.4L639.0 243.2L642.1 241.8L644.5 244.9L645.7 244.1L645.0 239.9L647.7 237.7L650.4 240.3L651.4 239.2L650.3 235.1L652.7 232.2L655.5 234.3L656.4 232.9L654.8 229.0L656.7 225.4L659.6 226.9L660.3 225.3L658.4 221.6L659.8 217.6L662.8 218.5L663.3 216.6L661.0 213.3L661.9 208.8L664.8 209.0L665.1 207.1L662.6 204.2L663.0 199.4L665.7 198.9L665.8 196.8L663.0 194.4L662.9 189.4L665.5 188.4L665.3 186.2L662.4 184.4L661.7 179.3L664.0 177.6L663.6 175.5L660.7 174.3L659.4 169.2L661.4 167.0L660.8 164.9L657.9 164.3L656.1 159.4L657.8 156.6L657.0 154.6L654.1 154.7L651.9 150.2L653.2 146.9L652.2 145.0L649.5 145.8L646.8 141.6L647.7 138.0L646.5 136.3L644.0 137.7L641.1 134.1L641.5 130.1L640.2 128.7L638.0 130.7L634.7 127.7L634.7 123.5L633.3 122.4L631.4 124.9L628.0 122.6L627.5 118.4L626.0 117.5L624.5 120.5L621.0 118.9L620.1 114.7L618.6 114.2L617.5 117.6L614.0 116.8L612.6 112.7L611.1 112.5L610.5 116.3L607.0 116.2L605.3 112.3L603.8 112.5L603.6 116.5L600.3 117.2Z" fill="#fff" stroke="none" />
<path d="M635.8 244.3L637.9 247.9L639.3 247.4L639.0 243.2L642.1 241.8L644.5 244.9L645.7 244.1L645.0 239.9L647.7 237.7L650.4 240.3L651.4 239.2L650.3 235.1L652.7 232.2L655.5 234.3L656.4 232.9L654.8 229.0L656.7 225.4L659.6 226.9L660.3 225.3L658.4 221.6L659.8 217.6L662.8 218.5L663.3 216.6L661.0 213.3L661.9 208.8L664.8 209.0L665.1 207.1L662.6 204.2L663.0 199.4L665.7 198.9L665.8 196.8L663.0 194.4L662.9 189.4L665.5 188.4L665.3 186.2L662.4 184.4L661.7 179.3L664.0 177.6L663.6 175.5L660.7 174.3L659.4 169.2L661.4 167.0L660.8 164.9L657.9 164.3L656.1 159.4L657.8 156.6L657.0 154.6L654.1 154.7L651.9 150.2L653.2 146.9L652.2 145.0L649.5 145.8L646.8 141.6L647.7 138.0L646.5 136.3L644.0 137.7L641.1 134.1L641.5 130.1L640.2 128.7L638.0 130.7L634.7 127.7L634.7 123.5L633.3 122.4L631.4 124.9L628.0 122.6L627.5 118.4L626.0 117.5L624.5 120.5L621.0 118.9L620.1 114.7L618.6 114.2L617.5 117.6L614.0 116.8L612.6 112.7L611.1 112.5L610.5 116.3L607.0 116.2L605.3 112.3L603.8 112.5L603.6 116.5L600.3 117.2" fill="none" stroke="#000" stroke-width="2.0" />
<path d="M632.5 246.3L636.8 244.5L640.8 242.0L644.5 238.8L647.9 234.9L650.8 230.5L653.4 225.5L655.5 220.1L657.1 214.2L658.2 208.0L658.8 201.4L658.9 194.7L658.5 187.8L657.5 180.8L656.1 173.9L654.2 167.0L651.8 160.3L649.0 153.9L645.8 147.8L642.2 142.0L638.3 136.7L634.1 132.0L629.7 127.8L625.1 124.2L620.3 121.3L615.5 119.0L610.7 117.5L605.8 116.7L601.1 116.6L596.5 117.3" fill="none" stroke="#000" stroke-width="1.38" />
<path d="M611.5 250.1L613.6 253.7L614.9 253.2L614.6 249.0L617.6 247.6L620.0 250.7L621.2 249.9L620.5 245.7L623.2 243.5L625.8 246.2L626.9 245.1L625.7 241.0L628.0 238.1L630.8 240.3L631.7 238.9L630.2 234.9L632.1 231.5L635.0 233.0L635.7 231.4L633.7 227.7L635.1 223.7L638.1 224.6L638.6 222.9L636.3 219.5L637.2 215.1L640.1 215.4L640.4 213.4L637.8 210.5L638.2 205.8L641.0 205.4L641.0 203.3L638.3 201.0L638.1 196.0L640.7 195.0L640.5 192.9L637.6 191.1L636.9 186.1L639.3 184.4L638.9 182.3L635.9 181.1L634.7 176.1L636.7 173.9L636.1 171.8L633.2 171.3L631.5 166.5L633.2 163.7L632.3 161.7L629.5 161.8L627.3 157.3L628.6 154.1L627.6 152.3L624.9 153.0L622.3 149.0L623.2 145.3L622.0 143.7L619.6 145.1L616.6 141.5L617.1 137.6L615.8 136.2L613.6 138.2L610.4 135.2L610.4 131.1L609.0 129.9L607.1 132.5L603.8 130.2L603.3 126.0L601.8 125.1L600.4 128.2L596.9 126.6L596.0 122.4L594.5 121.8L593.4 125.3L590.0 124.4L588.6 120.4L587.1 120.2L586.5 124.0L583.1 123.9L581.4 120.0L579.9 120.2L579.8 124.2L576.5 124.9L574.4 121.3L573.1 121.8L573.4 126.0L570.4 127.4L568.0 124.3L566.8 125.1L567.5 129.3L564.8 131.5L562.2 128.8L561.1 129.9L562.3 134.0L560.0 136.9L557.2 134.7L556.3 136.1L557.8 140.1L555.9 143.5L553.0 142.0L552.3 143.6L554.3 147.3L552.9 151.3L549.9 150.4L549.4 152.1L551.7 155.5L550.8 159.9L547.9 159.6L547.6 161.6L550.2 164.5L549.8 169.2L547.0 169.6L547.0 171.7L549.7 174.0L549.9 179.0L547.3 180.0L547.5 182.1L550.4 183.9L551.1 188.9L548.7 190.6L549.1 192.7L552.1 193.9L553.3 198.9L551.3 201.1L551.9 203.2L554.8 203.7L556.5 208.5L554.8 211.3L555.7 213.3L558.5 213.2L560.7 217.7L559.4 220.9L560.4 222.7L563.1 222.0L565.7 226.0L564.8 229.7L566.0 231.3L568.4 229.9L571.4 233.5L570.9 237.4L572.2 238.8L574.4 236.8L577.6 239.8L577.6 243.9L579.0 245.1L580.9 242.5L584.2 244.8L584.7 249.0L586.2 249.9L587.6 246.8L591.1 248.4L592.0 252.6L593.5 253.2L594.6 249.7L598.0 250.6L599.4 254.6L600.9 254.8L601.5 251.0L604.9 251.1L606.6 255.0L608.1 254.8L608.2 250.8L611.5 250.1Z" fill="#fff" stroke="#000" stroke-width="2.0" />
<path d="M610.7 247.2L615.1 245.6L619.2 243.1L622.9 239.9L626.3 236.0L629.3 231.4L631.7 226.3L633.7 220.6L635.1 214.5L636.0 208.0L636.2 201.2L636.0 194.2L635.1 187.2L633.7 180.2L631.8 173.2L629.3 166.5L626.4 160.0L623.0 153.9L619.3 148.3L615.2 143.1L610.8 138.6L606.2 134.8L601.4 131.7L596.5 129.3L591.6 127.7L586.7 126.9L581.9 126.9L577.3 127.8" fill="none" stroke="#000" stroke-width="1.38" />
<path d="M611.8 242.6L616.0 240.6L619.8 237.7L623.3 234.1L626.3 229.8L628.8 224.9L630.8 219.4L632.3 213.5L633.2 207.1L633.5 200.5L633.3 193.7L632.4 186.8L631.0 179.9L629.0 173.1L626.5 166.5L623.5 160.3L620.1 154.4L616.3 149.1L612.2 144.3L607.8 140.1L603.2 136.7L598.5 134.0L593.7 132.1L588.9 131.0L584.1 130.7L579.6 131.3L606.7 140.4L611.3 139.9L616.1 140.7L620.9 142.6L625.7 145.6L630.1 149.6L634.2 154.5L637.9 160.1L640.9 166.4L643.2 173.1L644.8 180.0L645.6 186.9L645.6 193.7L644.8 200.1L643.2 206.0L640.8 211.1L637.8 215.4L634.2 218.7L630.0 221.0Z" fill="#fff" stroke="none" />
<path d="M621.7 233.2L644.8 226.7L640.9 217.2L617.8 223.7ZM627.5 223.8L650.6 217.3L645.4 209.1L622.3 215.5ZM631.1 211.9L654.2 205.5L647.9 199.0L624.8 205.4ZM632.1 198.4L655.3 191.9L648.4 187.7L625.2 194.1ZM630.6 184.1L653.7 177.7L646.7 175.9L623.5 182.4ZM626.5 170.1L649.7 163.6L642.9 164.5L619.8 171.0ZM620.3 157.2L643.4 150.8L637.5 154.2L614.4 160.7ZM612.2 146.4L635.3 140.0L630.6 145.8L607.5 152.2ZM602.9 138.4L626.0 132.0L622.8 139.7L599.7 146.2ZM593.0 133.8L616.1 127.3L614.7 136.5L591.5 143.0ZM583.2 132.8L606.3 126.3L606.7 136.3L583.5 142.8Z" fill="#000" stroke="#000" stroke-width="1.25" />
<path d="M618.5 236.3L641.7 229.9L644.8 226.7L621.7 233.2ZM625.3 228.2L648.4 221.7L650.6 217.3L627.5 223.8ZM629.9 217.3L653.0 210.8L654.2 205.5L631.1 211.9ZM632.0 204.4L655.1 197.9L655.3 191.9L632.1 198.4ZM631.6 190.3L654.7 183.8L653.7 177.7L630.6 184.1ZM628.6 176.0L651.7 169.6L649.7 163.6L626.5 170.1ZM623.2 162.5L646.3 156.1L643.4 150.8L620.3 157.2ZM615.9 150.8L639.0 144.3L635.3 140.0L612.2 146.4ZM607.0 141.5L630.1 135.0L626.0 132.0L602.9 138.4ZM597.3 135.3L620.4 128.9L616.1 127.3L593.0 133.8ZM587.3 132.8L610.5 126.3L606.3 126.3L583.2 132.8Z" fill="#fff" stroke="#000" stroke-width="1.75" />
<path d="M610.4 230.2L613.4 228.2L618.5 236.3L620.8 234.1L616.7 225.0L619.1 221.8L625.3 228.2L626.9 225.1L621.5 217.3L623.1 213.1L629.9 217.3L630.8 213.5L624.5 207.6L625.1 202.7L632.0 204.4L632.2 200.1L625.3 196.4L625.0 191.2L631.6 190.3L630.9 185.8L624.1 184.7L622.8 179.5L628.6 176.0L627.1 171.7L620.7 173.2L618.6 168.3L623.2 162.5L621.1 158.7L615.6 162.6L612.8 158.4L615.9 150.8L613.3 147.6L609.0 153.8L605.6 150.5L607.0 141.5L604.1 139.2L601.3 147.2L597.7 145.1L597.3 135.3L594.2 134.1L593.2 143.4L589.5 142.6L587.3 132.8L584.3 132.7L585.1 142.6" fill="none" stroke="#000" stroke-width="1.62" />
<path d="M580.8 163.4L576.6 165.2L572.9 168.3L569.8 172.4L567.4 177.4L565.9 183.2L565.1 189.6L565.3 196.4L566.4 203.2L568.3 210.0L570.9 216.4L574.3 222.3L578.2 227.4L582.5 231.5L587.2 234.6L591.9 236.5L596.7 237.2L601.2 236.6L610.9 233.9L615.0 232.1L618.8 229.0L621.8 224.9L624.2 219.9L625.8 214.1L626.5 207.7L626.3 200.9L625.3 194.1L623.4 187.3L620.7 180.9L617.4 175.1L613.5 170.0L609.1 165.8L604.5 162.7L599.7 160.8L595.0 160.1L590.4 160.7Z" fill="#fff" stroke="#000" stroke-width="2.0" />
<ellipse cx="591.0" cy="200.0" rx="24.7" ry="38.0" transform="rotate(-15.6 591.0 200.0)" fill="none" stroke="#000" stroke-width="2.0" />
<ellipse cx="591.0" cy="200.0" rx="22.1" ry="34.0" transform="rotate(-15.6 591.0 200.0)" fill="none" stroke="#000" stroke-width="1.25" />
<ellipse cx="591.0" cy="200.0" rx="19.5" ry="30.0" transform="rotate(-15.6 591.0 200.0)" fill="none" stroke="#000" stroke-width="1.75" />
<path d="M603.5 235.8L605.7 234.6L607.8 233.0L609.7 231.1L611.4 228.9L612.9 226.5L614.1 223.7L611.7 221.2L610.6 223.7L609.2 225.9L607.7 227.8L606.0 229.5L604.2 230.9L602.2 232.0Z" fill="#000" stroke="#000" stroke-width="1.25" />
<path d="M539.1 173.2L534.8 175.3L531.0 178.9L528.2 183.7L526.3 189.7L525.5 196.4L525.9 203.6L527.3 210.8L529.8 217.7L533.2 224.0L537.4 229.3L542.1 233.4L547.0 236.1L552.1 237.3L556.9 236.8L570.4 233.0L574.7 230.9L578.4 227.4L581.3 222.5L583.2 216.5L583.9 209.8L583.6 202.7L582.1 195.5L579.7 188.5L576.2 182.2L572.1 176.9L567.4 172.8L562.5 170.1L557.4 169.0L552.6 169.5Z" fill="#fff" stroke="#000" stroke-width="1.88" />
<path d="M556.9 236.8L561.2 234.7L565.0 231.1L567.8 226.3L569.7 220.3L570.5 213.6L570.1 206.4L568.7 199.2L566.2 192.3L562.8 186.0L558.6 180.7L553.9 176.6L549.0 173.9L543.9 172.7L539.1 173.2" fill="none" stroke="#000" stroke-width="1.88" />
<path d="M545.7 174.5L541.5 176.6L537.9 180.2L535.3 185.2L533.7 191.3L533.4 198.0L534.2 205.1L536.1 212.1L539.1 218.5L542.9 224.1L547.4 228.5L552.2 231.4L557.1 232.7L561.8 232.3" fill="none" stroke="#000" stroke-width="1.25" />
<path d="M362.5 228.0L358.2 230.2L354.7 234.1L352.3 239.4L351.1 245.8L351.1 252.7L352.5 259.9L355.0 266.7L358.6 272.7L362.9 277.5L367.8 280.8L372.7 282.3L377.5 282.0L554.8 232.5L559.0 230.3L562.5 226.4L564.9 221.1L566.2 214.8L566.1 207.8L564.8 200.6L562.2 193.8L558.6 187.8L554.3 183.0L549.5 179.7L544.5 178.2L539.7 178.6Z" fill="#fff" stroke="#000" stroke-width="2.12" />
<path d="M548.8 234.0L552.8 231.1L556.0 226.5L557.9 220.5L558.6 213.7L557.9 206.4L555.9 199.2L552.7 192.6L548.6 187.1L543.8 183.1L538.8 180.7L533.8 180.3" fill="none" stroke="#000" stroke-width="1.25" />
<path d="M376.7 279.1L378.9 282.6L380.2 282.0L379.6 277.8L382.2 275.6L384.9 277.9L385.9 276.5L384.3 272.6L385.8 268.9L388.8 269.8L389.2 267.8L386.7 264.7L387.0 260.2L389.7 259.4L389.5 257.1L386.7 255.4L385.7 250.6L387.7 248.3L386.9 246.2L384.0 246.0L381.9 241.7L382.9 238.2L381.7 236.5L379.3 238.0L376.3 234.9L376.2 230.8L374.7 229.7L373.1 232.6L369.8 231.1L368.6 226.9L367.0 226.7L366.5 230.5L363.3 230.9L361.1 227.4L359.8 228.0L360.4 232.2L357.8 234.4L355.1 232.1L354.1 233.5L355.7 237.4L354.2 241.1L351.2 240.2L350.8 242.2L353.3 245.3L353.0 249.8L350.3 250.6L350.5 252.9L353.3 254.6L354.3 259.4L352.3 261.7L353.1 263.8L356.0 264.0L358.1 268.3L357.1 271.8L358.3 273.5L360.7 272.0L363.7 275.1L363.8 279.2L365.3 280.3L366.9 277.4L370.2 278.9L371.4 283.1L373.0 283.3L373.5 279.5L376.7 279.1Z" fill="#fff" stroke="#000" stroke-width="1.88" />
<ellipse cx="370.0" cy="255.0" rx="8.5" ry="13.0" transform="rotate(-15.6 370.0 255.0)" fill="#fff" stroke="#000" stroke-width="1.5" />
<path d="M383.1 278.5L450.8 259.6M385.7 276.0L454.1 256.9M387.8 272.5L457.1 253.2M389.3 268.4L459.9 248.7M390.2 263.8L462.3 243.7M390.3 258.8L464.1 238.2M389.7 253.6L465.4 232.5M388.5 248.5L465.0 227.1M386.6 243.6L461.3 222.7M384.1 239.1L457.0 218.7M381.2 235.2L452.5 215.3M377.9 232.0L447.8 212.5M374.4 229.7L443.2 210.5M370.8 228.4L438.8 209.4M367.2 228.0L434.7 209.2" fill="none" stroke="#000" stroke-width="1.62" />
<path d="M320.2 256.9L318.3 257.9L316.9 259.9L316.0 262.5L315.9 265.6L316.4 268.8L317.6 271.9L319.3 274.4L321.4 276.3L323.7 277.2L325.8 277.1L373.0 263.9L374.9 262.9L376.3 260.9L377.2 258.3L377.3 255.2L376.8 252.0L375.6 249.0L373.9 246.4L371.8 244.6L369.5 243.6L367.4 243.7Z" fill="#fff" stroke="#000" stroke-width="2.0" />
<path d="M325.8 277.1L327.7 276.1L329.1 274.1L330.0 271.5L330.1 268.4L329.6 265.2L328.4 262.1L326.7 259.6L324.6 257.7L322.3 256.8L320.2 256.9" fill="none" stroke="#000" stroke-width="2.0" />
<path d="M221.2 224.1L216.5 225.8L212.1 228.1L207.9 231.1L204.1 234.7L200.6 238.9L197.6 243.7L195.0 248.9L192.8 254.6L191.2 260.7L190.0 267.0L189.3 273.6L189.2 280.4L189.6 287.4L190.5 294.3L191.9 301.2L193.8 308.1L196.2 314.7L199.0 321.2L202.3 327.3L205.9 333.0L209.9 338.3L214.2 343.2L218.8 347.5L223.5 351.2L228.5 354.4L233.6 356.8L238.7 358.7L243.8 359.8L248.9 360.2L254.0 359.9L258.8 358.9L279.1 353.3L283.7 351.6L288.2 349.2L292.3 346.2L296.1 342.6L299.6 338.4L302.6 333.7L305.3 328.4L307.4 322.8L309.1 316.7L310.2 310.3L310.9 303.7L311.0 296.9L310.6 290.0L309.7 283.0L308.3 276.1L306.4 269.3L304.0 262.6L301.2 256.2L297.9 250.1L294.3 244.3L290.3 239.0L286.0 234.2L281.5 229.9L276.7 226.1L271.7 223.0L266.7 220.5L261.5 218.7L256.4 217.6L251.3 217.2L246.3 217.4L241.4 218.4ZM255.3 346.4L259.9 344.7L264.2 342.1L268.2 338.8L271.7 334.8L274.7 330.1L277.2 324.8L279.2 319.1L280.5 312.9L281.2 306.4L281.3 299.6L280.8 292.8L279.7 285.9L277.9 279.1L275.6 272.5L272.8 266.2L269.4 260.2L265.6 254.8L261.4 249.9L256.9 245.6L252.2 242.0L247.2 239.2L242.1 237.1L237.0 235.9L232.0 235.6L227.1 236.0L222.3 237.4L217.9 239.5L213.7 242.4L210.0 246.1L206.7 250.5L204.0 255.5L201.7 261.0L200.1 267.0L199.1 273.3L198.6 280.0L198.8 286.8L199.7 293.7L201.1 300.5L203.1 307.2L205.7 313.7L208.8 319.9L212.4 325.6L216.4 330.8L220.8 335.4L225.4 339.3L230.3 342.5L235.3 344.9L240.4 346.6L245.5 347.4L250.5 347.3L255.3 346.4Z" fill="#fff" stroke="none" fill-rule="evenodd"/>
<path d="M221.2 224.1L216.5 225.8L212.1 228.1L207.9 231.1L204.1 234.7L200.6 238.9L197.6 243.7L195.0 248.9L192.8 254.6L191.2 260.7L190.0 267.0L189.3 273.6L189.2 280.4L189.6 287.4L190.5 294.3L191.9 301.2L193.8 308.1L196.2 314.7L199.0 321.2L202.3 327.3L205.9 333.0L209.9 338.3L214.2 343.2L218.8 347.5L223.5 351.2L228.5 354.4L233.6 356.8L238.7 358.7L243.8 359.8L248.9 360.2L254.0 359.9L258.8 358.9L279.1 353.3L283.7 351.6L288.2 349.2L292.3 346.2L296.1 342.6L299.6 338.4L302.6 333.7L305.3 328.4L307.4 322.8L309.1 316.7L310.2 310.3L310.9 303.7L311.0 296.9L310.6 290.0L309.7 283.0L308.3 276.1L306.4 269.3L304.0 262.6L301.2 256.2L297.9 250.1L294.3 244.3L290.3 239.0L286.0 234.2L281.5 229.9L276.7 226.1L271.7 223.0L266.7 220.5L261.5 218.7L256.4 217.6L251.3 217.2L246.3 217.4L241.4 218.4Z" fill="none" stroke="#000" stroke-width="2.5" />
<path d="M258.8 358.9L263.5 357.2L267.9 354.9L272.1 351.9L275.9 348.3L279.4 344.1L282.4 339.3L285.0 334.1L287.2 328.4L288.8 322.3L290.0 316.0L290.7 309.4L290.8 302.6L290.4 295.6L289.5 288.7L288.1 281.8L286.2 274.9L283.8 268.3L281.0 261.8L277.7 255.7L274.1 250.0L270.1 244.7L265.8 239.8L261.2 235.5L256.5 231.8L251.5 228.6L246.4 226.2L241.3 224.3L236.2 223.2L231.1 222.8L226.0 223.1L221.2 224.1" fill="none" stroke="#000" stroke-width="1.75" />
<path d="M265.7 356.2L269.9 353.6L273.9 350.3L277.5 346.5L280.7 342.1L283.5 337.2L285.9 331.8L287.9 326.1L289.3 320.0L309.6 314.4L308.1 320.4L306.2 326.2L303.8 331.6L300.9 336.4L297.7 340.8L294.1 344.7L290.1 347.9L285.9 350.5Z" fill="#000" stroke="#000" stroke-width="1.25" />
<ellipse cx="240.0" cy="291.5" rx="46.2" ry="66.0" transform="rotate(-15.6 240.0 291.5)" fill="none" stroke="#000" stroke-width="1.25" />
<g clip-path="url(#c4)"><path d="M255.3 346.4L259.9 344.7L264.2 342.1L268.2 338.8L271.7 334.8L274.7 330.1L277.2 324.8L279.2 319.1L280.5 312.9L281.2 306.4L281.3 299.6L280.8 292.8L279.7 285.9L277.9 279.1L275.6 272.5L272.8 266.2L269.4 260.2L265.6 254.8L261.4 249.9L256.9 245.6L252.2 242.0L247.2 239.2L242.1 237.1L237.0 235.9L232.0 235.6L227.1 236.0L222.3 237.4L217.9 239.5L213.7 242.4L210.0 246.1L206.7 250.5L204.0 255.5L201.7 261.0L200.1 267.0L199.1 273.3L198.6 280.0L198.8 286.8L199.7 293.7L201.1 300.5L203.1 307.2L205.7 313.7L208.8 319.9L212.4 325.6L216.4 330.8L220.8 335.4L225.4 339.3L230.3 342.5L235.3 344.9L240.4 346.6L245.5 347.4L250.5 347.3L255.3 346.4ZM265.0 343.7L269.6 342.0L273.9 339.4L277.8 336.1L281.3 332.1L284.3 327.4L286.8 322.2L288.8 316.4L290.1 310.2L290.9 303.7L291.0 296.9L290.5 290.1L289.3 283.2L287.6 276.4L285.3 269.8L282.4 263.5L279.0 257.5L275.2 252.1L271.1 247.2L266.6 242.9L261.8 239.3L256.8 236.5L251.8 234.5L246.7 233.2L241.6 232.9L236.7 233.4L232.0 234.7L227.5 236.8L223.4 239.7L219.6 243.4L216.4 247.8L213.6 252.8L211.4 258.3L209.7 264.3L208.7 270.7L208.3 277.3L208.5 284.1L209.3 291.0L210.7 297.8L212.8 304.6L215.4 311.0L218.5 317.2L222.1 322.9L226.1 328.1L230.4 332.7L235.1 336.6L239.9 339.8L245.0 342.3L250.0 343.9L255.1 344.7L260.1 344.6L265.0 343.7Z" fill="#fff" fill-rule="evenodd"/></g>
<ellipse cx="240.0" cy="291.5" rx="39.9" ry="57.0" transform="rotate(-15.6 240.0 291.5)" fill="none" stroke="#000" stroke-width="2.25" />
<ellipse cx="243.9" cy="290.4" rx="36.4" ry="52.0" transform="rotate(-15.6 243.9 290.4)" fill="none" stroke="#000" stroke-width="1.5" />
<rect x="230.2" y="239.3" width="12" height="8" rx="3" transform="rotate(-15.6 236.2 243.3)" fill="#fff" stroke="#000" stroke-width="1.6"/>
<rect x="205.8" y="260.1" width="12" height="8" rx="3" transform="rotate(-15.6 211.8 264.1)" fill="#fff" stroke="#000" stroke-width="1.6"/>
<rect x="267.3" y="318.5" width="12" height="8" rx="3" transform="rotate(-15.6 273.3 322.5)" fill="#fff" stroke="#000" stroke-width="1.6"/>
<rect x="271.8" y="284.7" width="12" height="8" rx="3" transform="rotate(74.4 277.8 288.7)" fill="#fff" stroke="#000" stroke-width="1.6"/>
<rect x="224.1" y="325.5" width="12" height="8" rx="3" transform="rotate(-15.6 230.1 329.5)" fill="#fff" stroke="#000" stroke-width="1.6"/>
<ellipse cx="243.9" cy="290.4" rx="29.4" ry="42.0" transform="rotate(-15.6 243.9 290.4)" fill="#fff" stroke="#000" stroke-width="2.25" />
<ellipse cx="243.9" cy="290.4" rx="26.6" ry="38.0" transform="rotate(-15.6 243.9 290.4)" fill="none" stroke="#000" stroke-width="1.25" />
<path d="M254.1 319.7L258.7 317.6L262.6 313.9L265.6 309.0L267.5 303.0L268.3 296.4L267.8 289.3L266.2 282.3L263.4 275.7L259.7 269.9L255.3 265.2L250.3 261.7L245.1 259.8L239.9 259.6L235.1 260.9L230.8 263.8L227.3 268.1L224.9 273.6L223.5 280.0L223.4 286.9L224.4 294.0L226.6 300.8L229.9 307.1L234.0 312.4L238.7 316.5L243.8 319.2L249.1 320.3L254.1 319.7Z" fill="#fff" stroke="#000" stroke-width="2.0" />
<path d="M252.7 263.2L247.5 260.5L242.3 259.5L237.3 260.1L232.7 262.3L228.8 266.0L225.8 271.0L224.0 277.1L235.9 277.4L237.7 271.8L240.8 267.4L244.7 264.4L249.3 263.2L254.2 263.8L259.0 266.2Z" fill="#000" stroke="#000" stroke-width="1.25" />
<path d="M240.1 299.2L244.2 305.0L249.2 309.1L254.6 311.1L259.9 310.9L264.6 308.3L268.2 303.8L270.4 297.7" fill="none" stroke="#000" stroke-width="2.0" />
<path d="M271.8 336.7L275.3 332.5L278.4 327.5L280.9 322.0L282.7 315.9L283.9 309.4L284.5 302.6L284.3 295.6L283.5 288.5L282.0 281.4L279.9 274.4L277.1 267.8L273.8 261.5L270.1 255.7L265.8 250.5L261.2 245.9L256.3 242.1" fill="none" stroke="#000" stroke-width="4.0" />
<path d="M172.4 236.7L168.0 238.3L163.8 240.5L159.9 243.4L156.4 246.9L153.1 251.0L150.3 255.6L147.8 260.7L145.8 266.3L144.2 272.3L143.1 278.5L142.4 285.1L142.3 291.9L142.6 298.8L143.3 305.8L144.6 312.8L146.3 319.8L148.4 326.6L151.0 333.2L154.0 339.6L157.3 345.7L160.9 351.4L164.9 356.7L169.1 361.5L173.6 365.7L178.2 369.4L182.9 372.6L187.8 375.0L192.6 376.8L197.5 378.0L202.3 378.4L207.1 378.2L211.6 377.3L215.5 376.2L219.9 374.6L224.0 372.4L227.9 369.5L231.5 366.0L234.7 361.9L237.6 357.3L240.0 352.2L242.1 346.6L243.6 340.7L244.8 334.4L245.4 327.8L245.6 321.0L245.3 314.1L244.5 307.1L243.3 300.1L241.6 293.2L239.4 286.3L236.8 279.7L233.9 273.3L230.6 267.2L226.9 261.5L222.9 256.3L218.7 251.5L214.3 247.2L209.7 243.5L204.9 240.4L200.1 237.9L195.2 236.1L190.3 234.9L185.5 234.5L180.8 234.7L176.2 235.6ZM208.7 366.7L213.0 365.1L217.0 362.7L220.7 359.6L224.1 355.8L227.0 351.4L229.5 346.4L231.5 340.8L232.9 334.9L233.8 328.6L234.2 321.9L234.1 315.1L233.4 308.2L232.1 301.3L230.3 294.5L228.0 287.8L225.3 281.3L222.1 275.2L218.5 269.5L214.6 264.3L210.4 259.7L206.0 255.7L201.3 252.3L196.6 249.7L191.8 247.8L186.9 246.6L182.2 246.3L177.6 246.8L173.1 248.0L169.0 250.0L165.1 252.8L161.5 256.2L158.4 260.3L155.7 265.1L153.5 270.3L151.7 276.1L150.5 282.2L149.9 288.7L149.8 295.4L150.2 302.3L151.2 309.2L152.7 316.1L154.8 322.9L157.3 329.5L160.2 335.8L163.6 341.7L167.4 347.1L171.4 352.0L175.8 356.4L180.3 360.1L185.0 363.1L189.8 365.4L194.7 366.9L199.4 367.6L204.1 367.6L208.7 366.7Z" fill="#fff" stroke="none" fill-rule="evenodd"/>
<path d="M172.4 236.7L168.0 238.3L163.8 240.5L159.9 243.4L156.4 246.9L153.1 251.0L150.3 255.6L147.8 260.7L145.8 266.3L144.2 272.3L143.1 278.5L142.4 285.1L142.3 291.9L142.6 298.8L143.3 305.8L144.6 312.8L146.3 319.8L148.4 326.6L151.0 333.2L154.0 339.6L157.3 345.7L160.9 351.4L164.9 356.7L169.1 361.5L173.6 365.7L178.2 369.4L182.9 372.6L187.8 375.0L192.6 376.8L197.5 378.0L202.3 378.4L207.1 378.2L211.6 377.3L215.5 376.2L219.9 374.6L224.0 372.4L227.9 369.5L231.5 366.0L234.7 361.9L237.6 357.3L240.0 352.2L242.1 346.6L243.6 340.7L244.8 334.4L245.4 327.8L245.6 321.0L245.3 314.1L244.5 307.1L243.3 300.1L241.6 293.2L239.4 286.3L236.8 279.7L233.9 273.3L230.6 267.2L226.9 261.5L222.9 256.3L218.7 251.5L214.3 247.2L209.7 243.5L204.9 240.4L200.1 237.9L195.2 236.1L190.3 234.9L185.5 234.5L180.8 234.7L176.2 235.6Z" fill="none" stroke="#000" stroke-width="2.5" />
<path d="M211.6 377.3L216.0 375.7L220.2 373.5L224.1 370.6L227.6 367.1L230.9 363.0L233.7 358.4L236.2 353.3L238.2 347.7L239.8 341.7L240.9 335.5L241.6 328.9L241.7 322.1L241.4 315.2L240.7 308.2L239.4 301.2L237.7 294.2L235.6 287.4L233.0 280.8L230.0 274.4L226.7 268.3L223.1 262.6L219.1 257.3L214.9 252.5L210.4 248.3L205.8 244.6L201.1 241.4L196.2 239.0L191.4 237.2L186.5 236.0L181.7 235.6L176.9 235.8L172.4 236.7" fill="none" stroke="#000" stroke-width="1.75" />
<path d="M195.0 243.2L190.2 241.6L185.4 240.7L180.6 240.5L176.0 241.0L171.5 242.2L167.3 244.2L163.3 246.8L159.7 250.1L156.4 254.0L153.5 258.5L151.0 263.6L149.0 269.1L147.4 275.0L146.3 281.3L145.8 287.9L145.7 294.6L146.1 301.5L147.1 308.5L148.5 315.4L150.4 322.3L152.8 329.0L155.6 335.4L158.8 341.6L162.4 347.3L166.3 352.6L170.4 357.5L174.8 361.7L179.4 365.4L184.2 368.4L189.0 370.8L193.8 372.4L198.6 373.3L203.4 373.5L208.0 373.0L212.5 371.8L216.7 369.8L220.7 367.2L224.3 363.9L227.6 360.0" fill="none" stroke="#000" stroke-width="1.25" />
<g clip-path="url(#c5)"><path d="M208.7 366.7L213.0 365.1L217.0 362.7L220.7 359.6L224.1 355.8L227.0 351.4L229.5 346.4L231.5 340.8L232.9 334.9L233.8 328.6L234.2 321.9L234.1 315.1L233.4 308.2L232.1 301.3L230.3 294.5L228.0 287.8L225.3 281.3L222.1 275.2L218.5 269.5L214.6 264.3L210.4 259.7L206.0 255.7L201.3 252.3L196.6 249.7L191.8 247.8L186.9 246.6L182.2 246.3L177.6 246.8L173.1 248.0L169.0 250.0L165.1 252.8L161.5 256.2L158.4 260.3L155.7 265.1L153.5 270.3L151.7 276.1L150.5 282.2L149.9 288.7L149.8 295.4L150.2 302.3L151.2 309.2L152.7 316.1L154.8 322.9L157.3 329.5L160.2 335.8L163.6 341.7L167.4 347.1L171.4 352.0L175.8 356.4L180.3 360.1L185.0 363.1L189.8 365.4L194.7 366.9L199.4 367.6L204.1 367.6L208.7 366.7ZM212.5 365.6L216.8 364.0L220.9 361.6L224.6 358.5L227.9 354.7L230.9 350.3L233.3 345.3L235.3 339.8L236.8 333.8L237.7 327.5L238.1 320.9L237.9 314.1L237.2 307.2L236.0 300.2L234.2 293.4L231.9 286.7L229.2 280.3L226.0 274.2L222.4 268.5L218.5 263.3L214.3 258.6L209.8 254.6L205.2 251.2L200.4 248.6L195.6 246.7L190.8 245.6L186.0 245.2L181.4 245.7L177.0 246.9L172.8 248.9L168.9 251.7L165.4 255.1L162.2 259.3L159.5 264.0L157.3 269.3L155.6 275.0L154.4 281.2L153.7 287.6L153.6 294.4L154.1 301.2L155.1 308.2L156.6 315.1L158.6 321.8L161.1 328.4L164.1 334.7L167.5 340.6L171.2 346.0L175.3 351.0L179.6 355.3L184.2 359.0L188.9 362.0L193.7 364.3L198.5 365.8L203.3 366.5L208.0 366.5L212.5 365.6Z" fill="#fff" fill-rule="evenodd"/><path d="M212.5 365.6L216.8 364.0L220.9 361.6L224.6 358.5L227.9 354.7L230.9 350.3L233.3 345.3L235.3 339.8L236.8 333.8L237.7 327.5L238.1 320.9L237.9 314.1L237.2 307.2L236.0 300.2L234.2 293.4L231.9 286.7L229.2 280.3L226.0 274.2L222.4 268.5L218.5 263.3L214.3 258.6L209.8 254.6L205.2 251.2L200.4 248.6L195.6 246.7L190.8 245.6L186.0 245.2L181.4 245.7L177.0 246.9L172.8 248.9L168.9 251.7L165.4 255.1L162.2 259.3L159.5 264.0L157.3 269.3L155.6 275.0L154.4 281.2L153.7 287.6L153.6 294.4L154.1 301.2L155.1 308.2L156.6 315.1L158.6 321.8L161.1 328.4L164.1 334.7L167.5 340.6L171.2 346.0L175.3 351.0L179.6 355.3L184.2 359.0L188.9 362.0L193.7 364.3L198.5 365.8L203.3 366.5L208.0 366.5L212.5 365.6Z" fill="none" stroke="#000" stroke-width="1.0"/></g>
<ellipse cx="192.0" cy="307.0" rx="40.3" ry="62.0" transform="rotate(-15.6 192.0 307.0)" fill="none" stroke="#000" stroke-width="2.5" />
<path d="M141.2 284.3L136.9 286.3L133.2 289.5L130.1 293.8L127.9 299.2L126.5 305.3L126.1 311.9L126.7 318.9L128.1 325.9L130.5 332.6L133.6 338.8L137.5 344.3L141.8 348.9L146.5 352.3L151.3 354.4L156.2 355.2L160.8 354.7L164.7 353.6L168.9 351.7L172.7 348.5L175.7 344.1L178.0 338.8L179.3 332.7L179.7 326.0L179.2 319.0L177.7 312.0L175.3 305.3L172.2 299.1L168.4 293.6L164.1 289.1L159.4 285.6L154.5 283.5L149.7 282.7L145.0 283.3ZM159.2 348.9L163.4 346.9L166.9 343.4L169.6 338.6L171.2 332.8L171.8 326.2L171.2 319.4L169.6 312.5L166.9 306.0L163.4 300.2L159.3 295.5L154.6 292.0L149.8 290.1L145.1 289.7L140.6 290.9L136.8 293.7L133.7 297.9L131.5 303.2L130.4 309.4L130.4 316.2L131.5 323.1L133.6 329.9L136.7 336.0L140.6 341.3L145.0 345.4L149.8 348.1L154.6 349.3L159.2 348.9Z" fill="#fff" stroke="none" fill-rule="evenodd"/>
<path d="M141.2 284.3L136.9 286.3L133.2 289.5L130.1 293.8L127.9 299.2L126.5 305.3L126.1 311.9L126.7 318.9L128.1 325.9L130.5 332.6L133.6 338.8L137.5 344.3L141.8 348.9L146.5 352.3L151.3 354.4L156.2 355.2L160.8 354.7L164.7 353.6L168.9 351.7L172.7 348.5L175.7 344.1L178.0 338.8L179.3 332.7L179.7 326.0L179.2 319.0L177.7 312.0L175.3 305.3L172.2 299.1L168.4 293.6L164.1 289.1L159.4 285.6L154.5 283.5L149.7 282.7L145.0 283.3Z" fill="none" stroke="#000" stroke-width="2.5" />
<path d="M160.8 354.7L165.1 352.7L168.8 349.5L171.9 345.2L174.1 339.8L175.5 333.7L175.9 327.1L175.3 320.1L173.9 313.1L171.5 306.4L168.4 300.2L164.5 294.7L160.2 290.1L155.5 286.7L150.7 284.6L145.8 283.8L141.2 284.3" fill="none" stroke="#000" stroke-width="1.75" />
<path d="M160.0 351.8L164.2 349.8L167.8 346.6L170.6 342.2L172.6 336.7L173.7 330.6L173.7 323.9L172.8 317.0L170.9 310.3L168.2 304.0L164.7 298.3L160.6 293.6L156.0 290.0L151.3 287.6L146.5 286.7L142.0 287.2L137.8 289.2L134.2 292.4L131.4 296.8L129.4 302.3L128.3 308.4L128.3 315.1L129.2 322.0L131.1 328.7L133.8 335.0L137.3 340.7L141.4 345.4L146.0 349.0L150.7 351.4L155.5 352.3L160.0 351.8" fill="none" stroke="#000" stroke-width="1.25" />
<g clip-path="url(#c6)"><path d="M159.2 348.9L163.4 346.9L166.9 343.4L169.6 338.6L171.2 332.8L171.8 326.2L171.2 319.4L169.6 312.5L166.9 306.0L163.4 300.2L159.3 295.5L154.6 292.0L149.8 290.1L145.1 289.7L140.6 290.9L136.8 293.7L133.7 297.9L131.5 303.2L130.4 309.4L130.4 316.2L131.5 323.1L133.6 329.9L136.7 336.0L140.6 341.3L145.0 345.4L149.8 348.1L154.6 349.3L159.2 348.9ZM163.1 347.8L167.2 345.8L170.8 342.3L173.4 337.5L175.1 331.7L175.6 325.2L175.1 318.3L173.4 311.4L170.8 304.9L167.3 299.1L163.1 294.4L158.5 291.0L153.7 289.0L148.9 288.6L144.5 289.9L140.6 292.6L137.5 296.8L135.3 302.1L134.2 308.4L134.2 315.1L135.3 322.0L137.5 328.8L140.6 335.0L144.4 340.2L148.9 344.4L153.6 347.1L158.4 348.2L163.1 347.8Z" fill="#fff" fill-rule="evenodd"/><path d="M163.1 347.8L167.2 345.8L170.8 342.3L173.4 337.5L175.1 331.7L175.6 325.2L175.1 318.3L173.4 311.4L170.8 304.9L167.3 299.1L163.1 294.4L158.5 291.0L153.7 289.0L148.9 288.6L144.5 289.9L140.6 292.6L137.5 296.8L135.3 302.1L134.2 308.4L134.2 315.1L135.3 322.0L137.5 328.8L140.6 335.0L144.4 340.2L148.9 344.4L153.6 347.1L158.4 348.2L163.1 347.8Z" fill="none" stroke="#000" stroke-width="1.0"/></g>
<ellipse cx="151.0" cy="319.5" rx="19.8" ry="30.5" transform="rotate(-15.6 151.0 319.5)" fill="none" stroke="#000" stroke-width="2.5" />
<path d="M141.0 295.0L145.0 318.0M147.0 323.0L153.0 343.0M145.5 296.5L149.5 318.0M151.5 323.0L157.5 341.5M150.0 298.0L154.0 318.0M156.0 323.0L162.0 340.0" fill="none" stroke="#000" stroke-width="2.0" />
<path d="M149.1 290.4L145.5 290.2L142.0 290.9L138.8 292.6L136.0 295.2L133.7 298.7L132.0 302.8" fill="none" stroke="#000" stroke-width="3.75" />
<path d="M99.6 299.3L97.6 300.1L95.6 301.2L93.8 302.6L92.1 304.4L90.6 306.4L89.3 308.6L88.2 311.1L87.3 313.8L86.6 316.7L86.1 319.7L85.9 322.9L85.9 326.2L86.1 329.5L86.6 332.8L87.2 336.1L88.2 339.4L89.3 342.6L90.6 345.7L92.1 348.7L93.8 351.5L95.6 354.1L97.5 356.5L99.6 358.6L101.8 360.5L104.0 362.1L106.3 363.4L108.6 364.3L111.0 365.0L113.3 365.3L115.5 365.2L117.7 364.9L119.8 364.2L121.8 363.1L123.7 361.8L125.4 360.2L127.0 358.3L128.3 356.1L129.5 353.6L130.5 351.0L131.3 348.2L131.8 345.2L132.1 342.0L132.2 338.8L132.0 335.5L131.6 332.2L131.0 328.8L130.1 325.5L129.1 322.3L127.8 319.2L126.4 316.1L124.8 313.3L123.0 310.6L121.0 308.2L119.0 306.0L116.9 304.0L114.6 302.4L112.4 301.0L110.0 299.9L107.7 299.2L105.4 298.8L106.1 305.1L108.0 305.5L109.8 306.1L111.7 306.9L113.6 308.0L115.4 309.4L117.1 310.9L118.7 312.7L120.3 314.7L121.7 316.9L123.1 319.2L124.2 321.6L125.2 324.2L126.1 326.8L126.8 329.4L127.3 332.1L127.6 334.8L127.7 337.5L127.7 340.1L127.4 342.7L127.0 345.1L126.4 347.4L125.6 349.5L124.6 351.5L123.5 353.2L122.3 354.8L120.9 356.1L119.4 357.2L117.8 358.0L116.1 358.6L114.3 358.9L112.5 358.9L110.6 358.7L108.7 358.1L106.8 357.4L105.0 356.3L103.2 355.1L101.4 353.5L99.7 351.8L98.1 349.9L96.7 347.8L95.3 345.5L94.1 343.1L93.0 340.6L92.1 338.0L91.4 335.3L90.8 332.6L90.5 329.9L90.3 327.3L90.3 324.6L90.5 322.1L90.9 319.6L91.4 317.3L92.1 315.1L93.1 313.1L94.1 311.3L95.3 309.6L96.7 308.3L98.2 307.1L99.8 306.2L101.4 305.6Z" fill="#fff" stroke="#000" stroke-width="2.5" />
<path d="M122.1 363.6L124.1 362.7L126.1 361.4L127.8 359.8L129.5 358.0L130.9 355.9L132.1 353.5L133.2 350.8L134.0 348.0L134.6 345.0L134.9 341.9L135.1 338.7L134.9 335.3L134.6 332.0L134.0 328.6L133.2 325.3L132.1 322.0L130.9 318.8L129.5 315.7L127.8 312.8L126.1 310.1L124.1 307.6L122.1 305.3L119.9 303.4L117.7 301.7L115.4 300.3L113.0 299.2L110.7 298.4L108.4 298.0L106.1 297.9L103.8 298.2" fill="none" stroke="#000" stroke-width="1.75" />
<path d="M96.1 304.8L94.3 306.3L92.8 308.2L91.4 310.4L90.3 312.9L89.3 315.5L88.7 318.4L88.2 321.5L88.1 324.6L88.1 327.9L88.5 331.2L89.0 334.5L89.9 337.8L90.9 341.0L92.2 344.1L93.7 347.1L95.4 349.9L97.2 352.4L99.2 354.8L101.3 356.8L103.5 358.5L105.7 359.9L108.0 361.0L110.4 361.7L112.7 362.1L114.9 362.0L117.1 361.7L119.2 360.9L121.1 359.8L122.9 358.4L124.6 356.6L126.0 354.6L127.3 352.3L128.3 349.7L129.1 346.9L129.6 343.9L129.9 340.8L129.9 337.6L129.7 334.3L129.2 330.9L128.5 327.6L127.6 324.4L126.4 321.2L125.0 318.2L123.4 315.3L121.6 312.7L119.7 310.2L117.7 308.1L115.5 306.2L113.3 304.7L111.0 303.4" fill="none" stroke="#000" stroke-width="1.12" />
<path d="M98.5 305.2L95.6 307.4L93.2 310.3L91.3 314.1L90.0 318.4L89.3 323.1L89.3 328.2" fill="none" stroke="#000" stroke-width="3.75" />
<path d="M77.0 341.0L119.0 329.0" stroke="#000" stroke-width="1.4"/>
<path d="M137.0 323.0L165.0 315.0" stroke="#000" stroke-width="1.4"/>
<path d="M181.0 310.0L224.0 299.0" stroke="#000" stroke-width="1.4"/>
<path d="M245.0 292.0L254.0 290.0" stroke="#000" stroke-width="1.4"/>
<path d="M640.0 176.0L660.0 171.0" stroke="#000" stroke-width="1.4"/>
<path d="M675.0 169.0L709.0 161.0" stroke="#000" stroke-width="1.4"/>
<path d="M733.0 153.0L771.0 143.0" stroke="#000" stroke-width="1.4"/>
<path d="M803.0 133.0L847.0 121.0" stroke="#000" stroke-width="1.4"/>
<path d="M863.0 117.0L908.0 104.0" stroke="#000" stroke-width="1.4"/>
<path d="M100.5 169.6h3.6v18.4h-3.6v-13.6l-2.5 1.5v-3.3Z" fill="#000"/>
<text x="128.8" y="189.0" font-family="Liberation Sans, sans-serif" font-weight="bold" font-size="26.5">2</text>
<text x="170.8" y="188.0" font-family="Liberation Sans, sans-serif" font-weight="bold" font-size="26.5">3</text>
<text x="239.8" y="186.0" font-family="Liberation Sans, sans-serif" font-weight="bold" font-size="26.5">4</text>
<text x="527.8" y="65.0" font-family="Liberation Sans, sans-serif" font-weight="bold" font-size="26.5">5</text>
<text x="662.8" y="64.0" font-family="Liberation Sans, sans-serif" font-weight="bold" font-size="26.5">6</text>
<text x="763.8" y="62.5" font-family="Liberation Sans, sans-serif" font-weight="bold" font-size="26.5">7</text>
<text x="824.8" y="62.5" font-family="Liberation Sans, sans-serif" font-weight="bold" font-size="26.5">8</text>
<text x="878.3" y="61.0" font-family="Liberation Sans, sans-serif" font-weight="bold" font-size="26.5">9</text>
<path d="M103.0 191.0L103.0 298.0" stroke="#000" stroke-width="1.4"/>
<path d="M136.0 191.0L136.0 284.0" stroke="#000" stroke-width="1.4"/>
<path d="M178.0 191.0L178.0 235.0" stroke="#000" stroke-width="1.4"/>
<path d="M249.5 190.0L249.5 219.0" stroke="#000" stroke-width="1.4"/>
<path d="M534.8 68.0L534.8 177.0" stroke="#000" stroke-width="1.4"/>
<path d="M669.8 68.0L669.8 98.0" stroke="#000" stroke-width="1.4"/>
<path d="M771.0 66.0L771.0 111.0" stroke="#000" stroke-width="1.4"/>
<path d="M832.0 66.0L832.0 93.0" stroke="#000" stroke-width="1.4"/>
<path d="M885.0 64.0L885.0 75.0" stroke="#000" stroke-width="1.4"/>
<path d="M939.4 179.2L937.3 175.8L936.1 176.2L936.6 180.4L934.0 181.8L931.5 178.7L930.5 179.4L931.4 183.5L929.0 185.5L926.4 182.8L925.4 183.8L926.8 187.8L924.7 190.4L921.9 188.1L921.1 189.3L922.8 193.2L921.0 196.3L918.2 194.5L917.5 195.9L919.5 199.6L918.2 203.1L915.3 201.8L914.8 203.4L917.0 206.8L916.1 210.7L913.2 209.9L912.9 211.6L915.4 214.7L914.9 218.9L912.1 218.7L912.0 220.6L914.6 223.2L914.6 227.6L911.9 228.0L911.9 229.9L914.7 232.1L915.1 236.7L912.6 237.7L912.9 239.6L915.7 241.3L916.5 245.9L914.2 247.4L914.7 249.4L917.6 250.6L918.8 255.2L916.8 257.2L917.4 259.1L920.3 259.7L921.9 264.2L920.2 266.7L920.9 268.5L923.7 268.6L925.7 272.9L924.3 275.8L925.2 277.6L927.9 277.1L930.2 281.1L929.2 284.4L930.2 286.0L932.7 284.9L935.3 288.6L934.6 292.2L935.8 293.7L938.1 292.1L940.9 295.3L940.6 299.2L941.9 300.4L943.9 298.3L946.9 301.1L947.0 305.1L948.3 306.2L950.0 303.6L953.2 305.9L953.7 310.0L955.0 310.8L956.4 307.8L959.6 309.5L960.5 313.6L961.8 314.2L962.8 310.9L966.1 311.9L967.3 316.0L968.7 316.3L969.3 312.7L972.5 313.1L974.1 317.1L975.4 317.1L975.6 313.3L978.7 313.1L980.6 316.8L981.8 316.6L981.7 312.6L984.6 311.8L995.9 311.1L1000.1 309.3L1004.0 306.8L1007.6 303.8L1010.8 300.1L1013.7 295.9L1016.2 291.2L1018.2 286.0L1019.8 280.3L1021.0 274.3L1021.7 268.0L1021.9 261.5L1021.6 254.7L1020.9 247.8L1019.7 240.9L1018.0 234.0L1015.9 227.1L1013.4 220.4L1010.5 213.9L1007.2 207.7L1003.6 201.8L999.7 196.3L995.5 191.2L991.1 186.7L986.6 182.6L981.8 179.1L977.0 176.3L972.2 174.0L967.3 172.4L962.5 171.5L957.8 171.3L953.3 171.7L948.9 172.8ZM981.6 302.9L985.6 301.1L989.4 298.6L992.8 295.3L995.7 291.3L998.2 286.7L1000.2 281.6L1001.7 276.0L1002.7 269.9L1003.1 263.6L1003.0 256.9L1002.3 250.2L1001.0 243.3L999.3 236.5L997.0 229.9L994.2 223.4L991.1 217.2L987.5 211.4L983.6 206.1L979.4 201.3L974.9 197.1L970.3 193.6L965.5 190.7L960.8 188.6L956.0 187.3L951.3 186.8L946.8 187.0L942.4 188.1L938.4 189.9L934.6 192.4L931.2 195.7L928.3 199.7L925.8 204.3L923.8 209.4L922.3 215.0L921.3 221.1L920.9 227.4L921.0 234.1L921.7 240.8L923.0 247.7L924.7 254.5L927.0 261.1L929.8 267.6L932.9 273.8L936.5 279.6L940.4 284.9L944.6 289.7L949.1 293.9L953.7 297.4L958.5 300.3L963.2 302.4L968.0 303.7L972.7 304.2L977.2 304.0L981.6 302.9Z" fill="#fff" stroke="none" fill-rule="evenodd"/>
<path d="M939.4 179.2L937.3 175.8L936.1 176.2L936.6 180.4L934.0 181.8L931.5 178.7L930.5 179.4L931.4 183.5L929.0 185.5L926.4 182.8L925.4 183.8L926.8 187.8L924.7 190.4L921.9 188.1L921.1 189.3L922.8 193.2L921.0 196.3L918.2 194.5L917.5 195.9L919.5 199.6L918.2 203.1L915.3 201.8L914.8 203.4L917.0 206.8L916.1 210.7L913.2 209.9L912.9 211.6L915.4 214.7L914.9 218.9L912.1 218.7L912.0 220.6L914.6 223.2L914.6 227.6L911.9 228.0L911.9 229.9L914.7 232.1L915.1 236.7L912.6 237.7L912.9 239.6L915.7 241.3L916.5 245.9L914.2 247.4L914.7 249.4L917.6 250.6L918.8 255.2L916.8 257.2L917.4 259.1L920.3 259.7L921.9 264.2L920.2 266.7L920.9 268.5L923.7 268.6L925.7 272.9L924.3 275.8L925.2 277.6L927.9 277.1L930.2 281.1L929.2 284.4L930.2 286.0L932.7 284.9L935.3 288.6L934.6 292.2L935.8 293.7L938.1 292.1L940.9 295.3L940.6 299.2L941.9 300.4L943.9 298.3L946.9 301.1L947.0 305.1L948.3 306.2L950.0 303.6L953.2 305.9L953.7 310.0L955.0 310.8L956.4 307.8L959.6 309.5L960.5 313.6L961.8 314.2L962.8 310.9L966.1 311.9L967.3 316.0L968.7 316.3L969.3 312.7L972.5 313.1L974.1 317.1L975.4 317.1L975.6 313.3L978.7 313.1L980.6 316.8L981.8 316.6L981.7 312.6L984.6 311.8L995.9 311.1L1000.1 309.3L1004.0 306.8L1007.6 303.8L1010.8 300.1L1013.7 295.9L1016.2 291.2L1018.2 286.0L1019.8 280.3L1021.0 274.3L1021.7 268.0L1021.9 261.5L1021.6 254.7L1020.9 247.8L1019.7 240.9L1018.0 234.0L1015.9 227.1L1013.4 220.4L1010.5 213.9L1007.2 207.7L1003.6 201.8L999.7 196.3L995.5 191.2L991.1 186.7L986.6 182.6L981.8 179.1L977.0 176.3L972.2 174.0L967.3 172.4L962.5 171.5L957.8 171.3L953.3 171.7L948.9 172.8Z" fill="none" stroke="none" />
<path d="M943.4 174.2L942.2 174.4L942.3 178.4L939.4 179.2L937.3 175.8L936.1 176.2L936.6 180.4L934.0 181.8L931.5 178.7L930.5 179.4L931.4 183.5L929.0 185.5L926.4 182.8L925.4 183.8L926.8 187.8L924.7 190.4L921.9 188.1L921.1 189.3L922.8 193.2L921.0 196.3L918.2 194.5L917.5 195.9L919.5 199.6L918.2 203.1L915.3 201.8L914.8 203.4L917.0 206.8L916.1 210.7L913.2 209.9L912.9 211.6L915.4 214.7L914.9 218.9L912.1 218.7L912.0 220.6L914.6 223.2L914.6 227.6L911.9 228.0L911.9 229.9L914.7 232.1L915.1 236.7L912.6 237.7L912.9 239.6L915.7 241.3L916.5 245.9L914.2 247.4L914.7 249.4L917.6 250.6L918.8 255.2L916.8 257.2L917.4 259.1L920.3 259.7L921.9 264.2L920.2 266.7L920.9 268.5L923.7 268.6L925.7 272.9L924.3 275.8L925.2 277.6L927.9 277.1L930.2 281.1L929.2 284.4L930.2 286.0L932.7 284.9L935.3 288.6L934.6 292.2L935.8 293.7L938.1 292.1L940.9 295.3L940.6 299.2L941.9 300.4L943.9 298.3L946.9 301.1L947.0 305.1L948.3 306.2L950.0 303.6L953.2 305.9L953.7 310.0L955.0 310.8L956.4 307.8L959.6 309.5L960.5 313.6L961.8 314.2L962.8 310.9L966.1 311.9L967.3 316.0L968.7 316.3L969.3 312.7L972.5 313.1L974.1 317.1L975.4 317.1L975.6 313.3L978.7 313.1L980.6 316.8L981.8 316.6L981.7 312.6L984.6 311.8L986.7 315.2L987.9 314.8L987.4 310.6L990.0 309.2L992.5 312.3L993.5 311.6" fill="none" stroke="#000" stroke-width="2.12" />
<path d="M998.1 310.2L1002.1 308.1L1005.8 305.4L1009.3 302.0L1012.3 298.1L1015.0 293.6L1017.3 288.6L1019.1 283.2L1020.5 277.4L1021.4 271.2L1021.9 264.7L1021.8 258.1L1021.3 251.3L1020.4 244.4L1018.9 237.4L1017.1 230.5L1014.7 223.8L1012.0 217.2L1008.9 210.8L1005.5 204.7L1001.7 199.0L997.7 193.7L993.4 188.9L988.9 184.6L984.2 180.8L979.5 177.6L974.6 175.1L969.8 173.2L965.0 171.9L960.2 171.3L955.6 171.4L951.1 172.2" fill="none" stroke="#000" stroke-width="2.12" />
<path d="M996.0 309.6L999.8 307.2L1003.3 304.2L1006.5 300.6L1009.4 296.4L1011.8 291.7L1013.8 286.6L1015.4 281.0L1016.5 275.1L1017.2 268.9L1017.4 262.4L1017.2 255.8L1016.4 249.0L1015.3 242.2L1013.6 235.4L1011.6 228.6L1009.1 222.0L1006.2 215.6L1003.0 209.5L999.4 203.7L995.6 198.3L991.5 193.3L987.1 188.7L982.6 184.7L978.0 181.3L973.2 178.5L968.5 176.3L963.7 174.7L959.0 173.8L954.3 173.5L949.8 174.0" fill="none" stroke="#000" stroke-width="1.25" />
<path d="M984.6 311.8L988.7 310.0L992.5 307.5L996.0 304.5L999.2 300.8L1002.0 296.5L1004.4 291.8L1006.3 286.5L1007.8 280.9L1008.8 274.8L1009.4 268.5L1009.4 261.9L1009.0 255.2L1008.1 248.4L1006.7 241.5L1004.8 234.7L1002.6 228.0L999.8 221.4L996.8 215.1L993.3 209.2L989.5 203.6L985.5 198.4L981.2 193.7L976.7 189.5L972.1 186.0L967.3 183.0L962.5 180.7L957.7 179.0L953.0 178.0L948.3 177.7L943.8 178.1L939.4 179.2" fill="none" stroke="#000" stroke-width="1.5" />
<ellipse cx="962.0" cy="245.5" rx="42.2" ry="67.0" transform="rotate(-18.8 962.0 245.5)" fill="none" stroke="#000" stroke-width="1.25" />
<g clip-path="url(#c7)"><path d="M981.6 302.9L985.6 301.1L989.4 298.6L992.8 295.3L995.7 291.3L998.2 286.7L1000.2 281.6L1001.7 276.0L1002.7 269.9L1003.1 263.6L1003.0 256.9L1002.3 250.2L1001.0 243.3L999.3 236.5L997.0 229.9L994.2 223.4L991.1 217.2L987.5 211.4L983.6 206.1L979.4 201.3L974.9 197.1L970.3 193.6L965.5 190.7L960.8 188.6L956.0 187.3L951.3 186.8L946.8 187.0L942.4 188.1L938.4 189.9L934.6 192.4L931.2 195.7L928.3 199.7L925.8 204.3L923.8 209.4L922.3 215.0L921.3 221.1L920.9 227.4L921.0 234.1L921.7 240.8L923.0 247.7L924.7 254.5L927.0 261.1L929.8 267.6L932.9 273.8L936.5 279.6L940.4 284.9L944.6 289.7L949.1 293.9L953.7 297.4L958.5 300.3L963.2 302.4L968.0 303.7L972.7 304.2L977.2 304.0L981.6 302.9ZM1002.4 295.9L1006.5 294.0L1010.2 291.5L1013.6 288.2L1016.5 284.2L1019.1 279.6L1021.1 274.5L1022.6 268.9L1023.5 262.8L1023.9 256.5L1023.8 249.8L1023.1 243.1L1021.9 236.3L1020.1 229.5L1017.8 222.8L1015.1 216.3L1011.9 210.1L1008.3 204.3L1004.4 199.0L1000.2 194.2L995.7 190.0L991.1 186.5L986.4 183.6L981.6 181.5L976.8 180.2L972.1 179.7L967.6 179.9L963.3 181.0L959.2 182.8L955.5 185.4L952.1 188.6L949.1 192.6L946.6 197.2L944.6 202.3L943.1 208.0L942.1 214.0L941.7 220.4L941.9 227.0L942.5 233.7L943.8 240.6L945.6 247.4L947.8 254.0L950.6 260.5L953.8 266.7L957.3 272.5L961.3 277.8L965.5 282.6L969.9 286.8L974.5 290.3L979.3 293.2L984.1 295.3L988.8 296.6L993.5 297.1L998.0 296.9L1002.4 295.9Z" fill="#fff" fill-rule="evenodd"/><path d="M1002.4 295.9L1006.5 294.0L1010.2 291.5L1013.6 288.2L1016.5 284.2L1019.1 279.6L1021.1 274.5L1022.6 268.9L1023.5 262.8L1023.9 256.5L1023.8 249.8L1023.1 243.1L1021.9 236.3L1020.1 229.5L1017.8 222.8L1015.1 216.3L1011.9 210.1L1008.3 204.3L1004.4 199.0L1000.2 194.2L995.7 190.0L991.1 186.5L986.4 183.6L981.6 181.5L976.8 180.2L972.1 179.7L967.6 179.9L963.3 181.0L959.2 182.8L955.5 185.4L952.1 188.6L949.1 192.6L946.6 197.2L944.6 202.3L943.1 208.0L942.1 214.0L941.7 220.4L941.9 227.0L942.5 233.7L943.8 240.6L945.6 247.4L947.8 254.0L950.6 260.5L953.8 266.7L957.3 272.5L961.3 277.8L965.5 282.6L969.9 286.8L974.5 290.3L979.3 293.2L984.1 295.3L988.8 296.6L993.5 297.1L998.0 296.9L1002.4 295.9Z" fill="none" stroke="#000" stroke-width="1.4"/></g>
<ellipse cx="962.0" cy="245.5" rx="38.2" ry="60.7" transform="rotate(-18.8 962.0 245.5)" fill="none" stroke="#000" stroke-width="2.0" />
<path d="M937.9 190.2L930.6 196.4L950.4 197.6L956.7 192.1Z" fill="#000" stroke="#000" stroke-width="1.25" />
<path d="M961.9 301.9L971.7 304.2L986.1 291.1L977.6 289.1Z" fill="#000" stroke="#000" stroke-width="1.25" />
<path d="M1020.0 226.0L1044.0 217.0" stroke="#000" stroke-width="1.4"/>
<path d="M874.9 236.9L870.9 239.0L867.6 242.3L864.9 246.7L863.1 252.1L862.2 258.1L862.2 264.7L863.2 271.5L865.0 278.3L867.7 284.8L871.1 290.8L875.1 296.0L879.5 300.3L884.2 303.4L889.0 305.3L893.7 305.9L898.1 305.1L938.8 291.2L942.8 289.1L946.1 285.8L948.8 281.4L950.6 276.1L951.5 270.0L951.5 263.4L950.5 256.6L948.7 249.8L946.0 243.3L942.6 237.3L938.6 232.1L934.2 227.9L929.5 224.7L924.7 222.9L920.0 222.3L915.6 223.1ZM896.0 298.9L900.0 296.7L903.1 293.0L905.3 287.9L906.4 281.9L906.3 275.3L905.1 268.4L902.8 261.7L899.6 255.5L895.6 250.2L891.1 246.1L886.3 243.5L881.5 242.4L877.0 243.1L873.0 245.3L869.9 249.0L867.7 254.1L866.6 260.1L866.7 266.7L867.9 273.6L870.2 280.3L873.4 286.5L877.4 291.8L881.9 295.9L886.7 298.5L891.5 299.6L896.0 298.9Z" fill="#fff" stroke="none" fill-rule="evenodd"/>
<path d="M874.9 236.9L870.9 239.0L867.6 242.3L864.9 246.7L863.1 252.1L862.2 258.1L862.2 264.7L863.2 271.5L865.0 278.3L867.7 284.8L871.1 290.8L875.1 296.0L879.5 300.3L884.2 303.4L889.0 305.3L893.7 305.9L898.1 305.1L938.8 291.2L942.8 289.1L946.1 285.8L948.8 281.4L950.6 276.1L951.5 270.0L951.5 263.4L950.5 256.6L948.7 249.8L946.0 243.3L942.6 237.3L938.6 232.1L934.2 227.9L929.5 224.7L924.7 222.9L920.0 222.3L915.6 223.1Z" fill="none" stroke="#000" stroke-width="2.12" />
<path d="M898.1 305.1L902.1 303.0L905.4 299.7L908.1 295.3L909.9 289.9L910.8 283.9L910.8 277.3L909.8 270.5L908.0 263.7L905.3 257.2L901.9 251.2L897.9 246.0L893.5 241.7L888.8 238.6L884.0 236.7L879.3 236.1L874.9 236.9" fill="none" stroke="#000" stroke-width="2.12" />
<path d="M910.2 296.8L923.3 292.4L926.0 286.5L912.9 290.9ZM914.0 286.3L927.0 281.9L927.6 274.3L914.6 278.7ZM914.2 273.3L927.2 268.9L925.5 260.7L912.5 265.1ZM910.7 259.8L923.7 255.4L920.0 247.8L907.0 252.3ZM904.0 247.8L917.1 243.3L912.0 237.6L899.0 242.1ZM895.3 239.1L908.3 234.7L902.6 231.6L889.6 236.1ZM927.5 293.6L940.5 289.2L944.2 284.6L931.1 289.0ZM932.9 285.1L945.9 280.6L947.6 273.7L934.6 278.2ZM934.9 273.1L947.9 268.7L947.4 260.6L934.3 265.0ZM933.2 259.6L946.2 255.1L943.5 247.1L930.5 251.6ZM928.0 246.5L941.1 242.1L936.6 235.4L923.6 239.8ZM920.2 236.0L933.2 231.6L927.7 227.1L914.7 231.5ZM910.9 229.5L923.9 225.1L918.2 223.6L905.2 228.0Z" fill="#fff" stroke="#000" stroke-width="2.44" />
<path d="M910.2 296.8L923.3 292.4L923.3 289.1L910.3 293.5ZM914.0 286.3L927.0 281.9L926.2 278.5L913.2 282.9ZM914.2 273.3L927.2 268.9L925.5 265.9L912.5 270.3ZM910.7 259.8L923.7 255.4L921.5 253.2L908.5 257.6ZM904.0 247.8L917.1 243.3L914.7 242.3L901.6 246.7ZM895.3 239.1L908.3 234.7L906.1 234.9L893.1 239.4ZM927.5 293.6L940.5 289.2L941.1 286.2L928.0 290.7ZM932.9 285.1L945.9 280.6L945.5 277.2L932.5 281.7ZM934.9 273.1L947.9 268.7L946.7 265.4L933.6 269.8ZM933.2 259.6L946.2 255.1L944.3 252.5L931.2 256.9ZM928.0 246.5L941.1 242.1L938.7 240.5L925.7 244.9ZM920.2 236.0L933.2 231.6L930.9 231.2L917.8 235.6ZM910.9 229.5L923.9 225.1L921.9 226.0L908.9 230.5Z" fill="#000" stroke="#000" stroke-width="1.0" />
<g clip-path="url(#c8)"><path d="M896.0 298.9L900.0 296.7L903.1 293.0L905.3 287.9L906.4 281.9L906.3 275.3L905.1 268.4L902.8 261.7L899.6 255.5L895.6 250.2L891.1 246.1L886.3 243.5L881.5 242.4L877.0 243.1L873.0 245.3L869.9 249.0L867.7 254.1L866.6 260.1L866.7 266.7L867.9 273.6L870.2 280.3L873.4 286.5L877.4 291.8L881.9 295.9L886.7 298.5L891.5 299.6L896.0 298.9ZM936.7 285.1L940.7 282.8L943.8 279.1L946.0 274.1L947.1 268.1L947.0 261.4L945.8 254.6L943.5 247.8L940.3 241.6L936.3 236.3L931.8 232.3L927.0 229.6L922.2 228.6L917.7 229.2L913.8 231.4L910.6 235.2L908.4 240.2L907.3 246.2L907.4 252.8L908.6 259.7L910.9 266.5L914.1 272.7L918.1 277.9L922.7 282.0L927.4 284.7L932.2 285.7L936.7 285.1Z" fill="#fff" fill-rule="evenodd"/><path d="M873.7 247.6L886.7 243.1L884.5 248.0L871.5 252.4ZM870.6 256.2L883.6 251.7L883.2 258.0L870.2 262.4ZM870.5 266.8L883.5 262.4L884.9 269.1L871.9 273.5ZM873.4 277.9L886.4 273.5L889.4 279.7L876.4 284.1ZM878.8 287.8L891.8 283.3L896.0 288.0L883.0 292.5ZM886.0 294.9L899.0 290.5L903.7 292.9L890.6 297.4ZM894.0 240.6L907.1 236.2L904.9 241.0L891.8 245.5ZM891.0 249.2L904.0 244.8L903.5 251.0L890.5 255.5ZM890.8 259.9L903.9 255.5L905.2 262.2L892.2 266.6ZM893.7 271.0L906.7 266.6L909.7 272.7L896.7 277.2ZM899.1 280.9L912.2 276.4L916.3 281.1L903.3 285.5ZM906.3 288.0L919.3 283.5L924.0 286.0L911.0 290.4Z" fill="#fff" stroke="#000" stroke-width="1.53"/><path d="M917.7 229.2L913.8 231.4L910.6 235.2L908.4 240.2L907.3 246.2L907.4 252.8L908.6 259.7L910.9 266.5L914.1 272.7L918.1 277.9L922.7 282.0L927.4 284.7L932.2 285.7L936.7 285.1" fill="none" stroke="#000" stroke-width="1.2"/></g>
<ellipse cx="886.5" cy="271.0" rx="18.6" ry="29.5" transform="rotate(-18.8 886.5 271.0)" fill="none" stroke="#000" stroke-width="2.12" />
<path d="M761.8 230.0L758.5 223.8L756.7 224.5L758.2 231.4L755.3 232.8L751.5 227.0L749.8 228.0L752.0 234.9L749.3 236.7L745.0 231.5L743.5 232.8L746.3 239.3L743.9 241.7L739.2 237.0L737.8 238.6L741.2 244.8L739.2 247.5L734.1 243.6L732.9 245.3L736.9 251.1L735.1 254.2L729.8 251.0L728.9 253.0L733.3 258.2L731.9 261.7L726.4 259.3L725.7 261.4L730.5 266.0L729.6 269.7L724.0 268.2L723.5 270.5L728.6 274.4L728.1 278.3L722.5 277.6L722.3 280.0L727.7 283.1L727.5 287.2L722.1 287.4L722.1 289.9L727.6 292.2L727.9 296.3L722.6 297.4L722.9 299.9L728.5 301.4L729.2 305.5L724.2 307.4L724.7 309.9L730.3 310.5L731.3 314.6L726.7 317.4L727.5 319.8L732.9 319.6L734.4 323.5L730.1 327.1L731.1 329.5L736.4 328.3L738.2 332.1L734.5 336.4L735.7 338.6L740.7 336.6L742.8 340.2L739.6 345.1L741.0 347.2L745.7 344.4L748.1 347.6L745.5 353.1L747.1 355.0L751.3 351.4L754.0 354.3L752.0 360.4L753.7 362.0L757.4 357.7L760.4 360.2L759.1 366.6L760.9 368.0L764.1 363.1L767.2 365.2L766.6 371.9L768.5 373.0L771.0 367.5L774.3 369.1L774.3 376.0L776.3 376.8L778.2 370.8L781.5 371.9L782.3 378.9L784.3 379.5L785.6 373.0L788.9 373.7L790.3 380.6L792.3 380.9L792.9 374.2L796.2 374.3L798.3 381.1L800.3 381.0L800.1 374.1L803.3 373.7L806.1 380.3L808.0 379.9L807.1 372.9L828.2 365.9L831.5 372.1L833.3 371.4L831.8 364.5L834.6 363.0L838.5 368.8L840.2 367.8L838.0 361.0L840.6 359.1L845.0 364.4L846.5 363.1L843.7 356.6L846.1 354.2L850.8 358.9L852.2 357.3L848.8 351.1L850.8 348.4L855.9 352.3L857.0 350.5L853.1 344.8L854.8 341.7L860.2 344.9L861.1 342.9L856.7 337.7L858.1 334.2L863.6 336.6L864.3 334.4L859.5 329.9L860.4 326.2L866.0 327.7L866.5 325.4L861.3 321.5L861.9 317.6L867.5 318.3L867.7 315.9L862.3 312.7L862.5 308.7L867.9 308.5L867.9 306.0L862.4 303.7L862.1 299.6L867.4 298.5L867.1 296.0L861.5 294.5L860.8 290.4L865.8 288.4L865.3 285.9L859.7 285.3L858.6 281.2L863.3 278.5L862.5 276.0L857.1 276.3L855.6 272.3L859.9 268.8L858.9 266.4L853.6 267.6L851.8 263.8L855.5 259.5L854.3 257.3L849.3 259.3L847.2 255.7L850.4 250.8L849.0 248.7L844.3 251.5L841.9 248.2L844.5 242.7L842.9 240.9L838.7 244.5L836.0 241.5L838.0 235.5L836.2 233.9L832.5 238.2L829.6 235.7L830.9 229.2L829.1 227.8L825.9 232.8L822.8 230.7L823.4 224.0L821.5 222.9L819.0 228.4L815.7 226.8L815.6 219.9L813.7 219.0L811.7 225.1L808.5 223.9L807.7 216.9L805.7 216.4L804.4 222.8L801.1 222.2L799.6 215.2L797.6 215.0L797.1 221.7L793.8 221.6L791.7 214.8L789.7 214.9L789.9 221.8L786.7 222.2L783.9 215.6L782.0 216.0L782.9 223.0Z" fill="#fff" stroke="none" />
<path d="M828.2 365.9L831.5 372.1L833.3 371.4L831.8 364.5L834.6 363.0L838.5 368.8L840.2 367.8L838.0 361.0L840.6 359.1L845.0 364.4L846.5 363.1L843.7 356.6L846.1 354.2L850.8 358.9L852.2 357.3L848.8 351.1L850.8 348.4L855.9 352.3L857.0 350.5L853.1 344.8L854.8 341.7L860.2 344.9L861.1 342.9L856.7 337.7L858.1 334.2L863.6 336.6L864.3 334.4L859.5 329.9L860.4 326.2L866.0 327.7L866.5 325.4L861.3 321.5L861.9 317.6L867.5 318.3L867.7 315.9L862.3 312.7L862.5 308.7L867.9 308.5L867.9 306.0L862.4 303.7L862.1 299.6L867.4 298.5L867.1 296.0L861.5 294.5L860.8 290.4L865.8 288.4L865.3 285.9L859.7 285.3L858.6 281.2L863.3 278.5L862.5 276.0L857.1 276.3L855.6 272.3L859.9 268.8L858.9 266.4L853.6 267.6L851.8 263.8L855.5 259.5L854.3 257.3L849.3 259.3L847.2 255.7L850.4 250.8L849.0 248.7L844.3 251.5L841.9 248.2L844.5 242.7L842.9 240.9L838.7 244.5L836.0 241.5L838.0 235.5L836.2 233.9L832.5 238.2L829.6 235.7L830.9 229.2L829.1 227.8L825.9 232.8L822.8 230.7L823.4 224.0L821.5 222.9L819.0 228.4L815.7 226.8L815.6 219.9L813.7 219.0L811.7 225.1L808.5 223.9L807.7 216.9L805.7 216.4L804.4 222.8L801.1 222.2L799.6 215.2L797.6 215.0L797.1 221.7L793.8 221.6L791.7 214.8L789.7 214.9L789.9 221.8L786.7 222.2L783.9 215.6L782.0 216.0L782.9 223.0" fill="none" stroke="#000" stroke-width="1.62" />
<path d="M815.3 377.5L833.3 371.4M820.5 375.0L838.5 368.8M822.2 374.0L840.2 367.8M827.0 370.5L845.0 364.4M828.5 369.2L846.5 363.1M832.8 365.0L850.8 358.9M834.2 363.4L852.2 357.3M837.9 358.4L855.9 352.3M839.1 356.7L857.0 350.5M842.2 351.0L860.2 344.9M843.1 349.0L861.1 342.9M845.6 342.7L863.6 336.6M846.3 340.6L864.3 334.4M848.0 333.8L866.0 327.7M848.5 331.5L866.5 325.4M849.5 324.4L867.5 318.3M849.7 322.0L867.7 315.9M849.9 314.6L867.9 308.5M849.9 312.1L867.9 306.0M849.4 304.6L867.4 298.5M849.1 302.1L867.1 296.0M847.8 294.6L865.8 288.4M847.3 292.1L865.3 285.9M845.3 284.6L863.3 278.5M844.5 282.2L862.5 276.0M841.9 274.9L859.9 268.8M840.9 272.5L858.9 266.4M837.5 265.6L855.5 259.5M836.3 263.4L854.3 257.3M832.4 256.9L850.4 250.8M831.0 254.8L849.0 248.7M826.5 248.9L844.5 242.7M824.9 247.0L842.9 240.9M820.0 241.6L838.0 235.5M818.3 240.0L836.2 233.9M812.9 235.4L830.9 229.2M811.1 234.0L829.1 227.8M805.4 230.1L823.4 224.0M803.5 229.0L821.5 222.9M797.7 226.0L815.6 219.9M795.7 225.2L813.7 219.0M789.7 223.1L807.7 216.9M787.7 222.5L805.7 216.4M781.7 221.4L799.6 215.2M779.7 221.1L797.6 215.0M773.7 220.9L791.7 214.8M771.7 221.0L789.7 214.9M765.9 221.7L783.9 215.6M764.0 222.1L782.0 216.0" fill="none" stroke="#000" stroke-width="1.3" />
<path d="M834.2 363.4L852.2 357.3L848.5 351.4L830.5 357.5ZM839.1 356.7L857.0 350.5L852.9 345.1L834.9 351.2ZM843.1 349.0L861.1 342.9L856.6 338.0L838.6 344.2ZM846.3 340.6L864.3 334.4L859.3 330.3L841.4 336.4ZM848.5 331.5L866.5 325.4L861.3 321.9L843.3 328.1ZM849.7 322.0L867.7 315.9L862.3 313.2L844.3 319.3ZM849.9 312.1L867.9 306.0L862.4 304.2L844.4 310.3ZM849.1 302.1L867.1 296.0L861.6 295.0L843.6 301.1ZM847.3 292.1L865.3 285.9L859.8 285.8L841.9 291.9ZM844.5 282.2L862.5 276.0L857.2 276.7L839.2 282.9ZM840.9 272.5L858.9 266.4L853.8 268.0L835.8 274.1ZM836.3 263.4L854.3 257.3L849.6 259.7L831.6 265.8ZM831.0 254.8L849.0 248.7L844.6 251.9L826.6 258.0ZM824.9 247.0L842.9 240.9L839.0 244.8L821.0 250.9ZM818.3 240.0L836.2 233.9L832.9 238.5L814.9 244.6ZM811.1 234.0L829.1 227.8L826.3 233.1L808.3 239.2ZM803.5 229.0L821.5 222.9L819.3 228.6L801.3 234.7ZM795.7 225.2L813.7 219.0L812.1 225.2L794.1 231.3ZM787.7 222.5L805.7 216.4L804.8 222.9L786.8 229.0ZM779.7 221.1L797.6 215.0L797.5 221.8L779.5 227.9Z" fill="#000" stroke="#000" stroke-width="1.25" />
<path d="M810.2 372.0L813.5 378.2L815.3 377.5L813.8 370.6L816.7 369.2L820.5 375.0L822.2 374.0L820.0 367.1L822.7 365.3L827.0 370.5L828.5 369.2L825.7 362.7L828.1 360.3L832.8 365.0L834.2 363.4L830.8 357.2L832.8 354.5L837.9 358.4L839.1 356.7L835.1 350.9L836.9 347.8L842.2 351.0L843.1 349.0L838.7 343.8L840.1 340.3L845.6 342.7L846.3 340.6L841.5 336.0L842.4 332.3L848.0 333.8L848.5 331.5L843.4 327.6L843.9 323.7L849.5 324.4L849.7 322.0L844.3 318.9L844.5 314.8L849.9 314.6L849.9 312.1L844.4 309.8L844.1 305.7L849.4 304.6L849.1 302.1L843.5 300.6L842.8 296.5L847.8 294.6L847.3 292.1L841.7 291.5L840.7 287.4L845.3 284.6L844.5 282.2L839.1 282.4L837.6 278.5L841.9 274.9L840.9 272.5L835.6 273.7L833.8 269.9L837.5 265.6L836.3 263.4L831.3 265.4L829.2 261.8L832.4 256.9L831.0 254.8L826.3 257.6L823.9 254.4L826.5 248.9L824.9 247.0L820.7 250.6L818.0 247.7L820.0 241.6L818.3 240.0L814.6 244.3L811.6 241.8L812.9 235.4L811.1 234.0L807.9 238.9L804.8 236.8L805.4 230.1L803.5 229.0L801.0 234.5L797.7 232.9L797.7 226.0L795.7 225.2L793.8 231.2L790.5 230.1L789.7 223.1L787.7 222.5L786.4 229.0L783.1 228.3L781.7 221.4L779.7 221.1L779.1 227.8L775.8 227.7L773.7 220.9L771.7 221.0L771.9 227.9L768.7 228.3L765.9 221.7L764.0 222.1L764.9 229.1L761.8 230.0L758.5 223.8L756.7 224.5L758.2 231.4L755.3 232.8L751.5 227.0L749.8 228.0L752.0 234.9L749.3 236.7L745.0 231.5L743.5 232.8L746.3 239.3L743.9 241.7L739.2 237.0L737.8 238.6L741.2 244.8L739.2 247.5L734.1 243.6L732.9 245.3L736.9 251.1L735.1 254.2L729.8 251.0L728.9 253.0L733.3 258.2L731.9 261.7L726.4 259.3L725.7 261.4L730.5 266.0L729.6 269.7L724.0 268.2L723.5 270.5L728.6 274.4L728.1 278.3L722.5 277.6L722.3 280.0L727.7 283.1L727.5 287.2L722.1 287.4L722.1 289.9L727.6 292.2L727.9 296.3L722.6 297.4L722.9 299.9L728.5 301.4L729.2 305.5L724.2 307.4L724.7 309.9L730.3 310.5L731.3 314.6L726.7 317.4L727.5 319.8L732.9 319.6L734.4 323.5L730.1 327.1L731.1 329.5L736.4 328.3L738.2 332.1L734.5 336.4L735.7 338.6L740.7 336.6L742.8 340.2L739.6 345.1L741.0 347.2L745.7 344.4L748.1 347.6L745.5 353.1L747.1 355.0L751.3 351.4L754.0 354.3L752.0 360.4L753.7 362.0L757.4 357.7L760.4 360.2L759.1 366.6L760.9 368.0L764.1 363.1L767.2 365.2L766.6 371.9L768.5 373.0L771.0 367.5L774.3 369.1L774.3 376.0L776.3 376.8L778.2 370.8L781.5 371.9L782.3 378.9L784.3 379.5L785.6 373.0L788.9 373.7L790.3 380.6L792.3 380.9L792.9 374.2L796.2 374.3L798.3 381.1L800.3 381.0L800.1 374.1L803.3 373.7L806.1 380.3L808.0 379.9L807.1 372.9Z" fill="none" stroke="#000" stroke-width="1.62" />
<path d="M761.8 230.0L758.5 223.7L757.5 224.2L759.0 231.1L755.7 232.9L751.9 227.1L751.0 227.8L753.2 234.6L750.2 237.2L746.0 232.0L745.2 232.9L748.0 239.5L745.4 242.7L740.9 238.3L740.3 239.4L743.5 245.6L741.5 249.5L736.8 245.9L736.2 247.1L740.0 252.9L738.4 257.3L733.6 254.6L733.2 256.0L737.4 261.1L736.4 266.0L731.5 264.2L731.3 265.8L735.8 270.2L735.3 275.4L730.5 274.6L730.4 276.2L735.2 279.8L735.3 285.4L730.6 285.6L730.7 287.2L735.6 289.9L736.3 295.6L731.9 296.8L732.2 298.5L737.1 300.3L738.3 306.0L734.3 308.1L734.7 309.8L739.5 310.6L741.3 316.2L737.7 319.3L738.3 321.0L742.9 320.8L745.2 326.2L742.1 330.1L742.8 331.7L747.2 330.5L749.9 335.6L747.4 340.3L748.2 341.8L752.3 339.6L755.4 344.3L753.5 349.7L754.4 351.1L758.0 348.0L761.4 352.2L760.2 358.2L761.3 359.3L764.3 355.4L768.0 359.0L767.5 365.4L768.6 366.4L771.1 361.7L775.0 364.6L775.1 371.4L776.3 372.1L778.2 366.7L782.2 369.0L783.0 375.9L784.2 376.4L785.4 370.5L789.4 371.9L790.9 378.9L792.1 379.2L792.7 372.8L796.6 373.4L798.7 380.3L799.9 380.4L799.8 373.6L803.6 373.4L806.3 380.1L807.4 379.9L806.6 373.0L810.2 372.0" fill="#fff" stroke="none" />
<path d="M761.8 230.0L758.5 223.7L757.5 224.2L759.0 231.1L755.7 232.9L751.9 227.1L751.0 227.8L753.2 234.6L750.2 237.2L746.0 232.0L745.2 232.9L748.0 239.5L745.4 242.7L740.9 238.3L740.3 239.4L743.5 245.6L741.5 249.5L736.8 245.9L736.2 247.1L740.0 252.9L738.4 257.3L733.6 254.6L733.2 256.0L737.4 261.1L736.4 266.0L731.5 264.2L731.3 265.8L735.8 270.2L735.3 275.4L730.5 274.6L730.4 276.2L735.2 279.8L735.3 285.4L730.6 285.6L730.7 287.2L735.6 289.9L736.3 295.6L731.9 296.8L732.2 298.5L737.1 300.3L738.3 306.0L734.3 308.1L734.7 309.8L739.5 310.6L741.3 316.2L737.7 319.3L738.3 321.0L742.9 320.8L745.2 326.2L742.1 330.1L742.8 331.7L747.2 330.5L749.9 335.6L747.4 340.3L748.2 341.8L752.3 339.6L755.4 344.3L753.5 349.7L754.4 351.1L758.0 348.0L761.4 352.2L760.2 358.2L761.3 359.3L764.3 355.4L768.0 359.0L767.5 365.4L768.6 366.4L771.1 361.7L775.0 364.6L775.1 371.4L776.3 372.1L778.2 366.7L782.2 369.0L783.0 375.9L784.2 376.4L785.4 370.5L789.4 371.9L790.9 378.9L792.1 379.2L792.7 372.8L796.6 373.4L798.7 380.3L799.9 380.4L799.8 373.6L803.6 373.4L806.3 380.1L807.4 379.9L806.6 373.0L810.2 372.0L813.5 378.3L814.5 377.8" fill="none" stroke="#000" stroke-width="2.12" />
<ellipse cx="786.0" cy="301.0" rx="47.9" ry="76.0" transform="rotate(-18.8 786.0 301.0)" fill="#fff" stroke="#000" stroke-width="1.88" />
<ellipse cx="786.0" cy="301.0" rx="40.3" ry="64.0" transform="rotate(-18.8 786.0 301.0)" fill="none" stroke="#000" stroke-width="1.5" />
<g clip-path="url(#c9)"><path d="M804.0 354.0L808.1 352.2L811.8 349.5L815.1 346.1L817.9 342.0L820.2 337.2L822.0 331.9L823.2 326.0L823.9 319.8L823.9 313.3L823.3 306.6L822.2 299.8L820.5 293.0L818.2 286.3L815.4 279.9L812.2 273.8L808.5 268.1L804.5 263.0L800.2 258.4L795.7 254.6L791.0 251.4L786.3 249.1L781.5 247.5L776.8 246.8L772.3 247.0L768.0 248.0L763.9 249.8L760.2 252.5L756.9 255.9L754.1 260.0L751.8 264.8L750.0 270.1L748.8 276.0L748.1 282.2L748.1 288.7L748.7 295.4L749.8 302.2L751.5 309.0L753.8 315.7L756.6 322.1L759.8 328.2L763.5 333.9L767.5 339.0L771.8 343.6L776.3 347.4L781.0 350.6L785.7 352.9L790.5 354.5L795.2 355.2L799.7 355.0L804.0 354.0ZM832.4 344.3L836.5 342.5L840.2 339.9L843.5 336.4L846.3 332.3L848.6 327.5L850.4 322.2L851.6 316.4L852.3 310.1L852.3 303.6L851.7 296.9L850.6 290.1L848.9 283.3L846.6 276.7L843.8 270.2L840.6 264.1L836.9 258.5L832.9 253.3L828.6 248.8L824.1 244.9L819.4 241.8L814.7 239.4L809.9 237.9L805.2 237.2L800.7 237.3L796.4 238.3L792.3 240.2L788.6 242.8L785.3 246.2L782.5 250.4L780.2 255.1L778.4 260.5L777.2 266.3L776.5 272.5L776.5 279.0L777.1 285.8L778.2 292.6L779.9 299.4L782.2 306.0L785.0 312.4L788.2 318.5L791.9 324.2L795.9 329.3L800.2 333.9L804.7 337.8L809.4 340.9L814.1 343.3L818.9 344.8L823.6 345.5L828.1 345.4L832.4 344.3Z" fill="#fff" fill-rule="evenodd"/><path d="M793.4 252.9L788.3 250.0L783.2 248.0L778.2 246.9L773.3 246.9L768.6 247.8L764.3 249.6L760.3 252.4L756.8 256.1L753.8 260.5L751.4 265.7L749.6 271.6L778.0 261.9L779.8 256.1L782.2 250.9L785.2 246.4L788.7 242.7L792.7 240.0L797.0 238.1L801.7 237.2L806.6 237.3L811.6 238.3L816.7 240.3L821.8 243.2Z" fill="#000"/><path d="M832.4 344.3L836.5 342.5L840.2 339.9L843.5 336.4L846.3 332.3L848.6 327.5L850.4 322.2L851.6 316.4L852.3 310.1L852.3 303.6L851.7 296.9L850.6 290.1L848.9 283.3L846.6 276.7L843.8 270.2L840.6 264.1L836.9 258.5L832.9 253.3L828.6 248.8L824.1 244.9L819.4 241.8L814.7 239.4L809.9 237.9L805.2 237.2L800.7 237.3L796.4 238.3L792.3 240.2L788.6 242.8L785.3 246.2L782.5 250.4L780.2 255.1L778.4 260.5L777.2 266.3L776.5 272.5L776.5 279.0L777.1 285.8L778.2 292.6L779.9 299.4L782.2 306.0L785.0 312.4L788.2 318.5L791.9 324.2L795.9 329.3L800.2 333.9L804.7 337.8L809.4 340.9L814.1 343.3L818.9 344.8L823.6 345.5L828.1 345.4L832.4 344.3Z" fill="none" stroke="#000" stroke-width="1.0"/></g>
<ellipse cx="786.0" cy="301.0" rx="35.3" ry="56.0" transform="rotate(-18.8 786.0 301.0)" fill="none" stroke="#000" stroke-width="2.25" />
<path d="M777.0 310.0L814.0 297.0" stroke="#000" stroke-width="1.4"/>
<path d="M707.7 295.6L703.7 297.7L700.4 301.1L697.8 305.8L696.2 311.3L695.6 317.6L696.0 324.4L697.3 331.2L699.6 338.0L702.7 344.3L706.5 349.8L710.9 354.4L715.6 357.8L720.4 360.0L725.1 360.7L729.6 359.9L770.3 346.1L774.3 343.9L777.6 340.5L780.1 335.9L781.7 330.3L782.4 324.0L782.0 317.3L780.6 310.4L778.4 303.7L775.2 297.4L771.4 291.8L767.1 287.2L762.4 283.8L757.6 281.7L752.8 281.0L748.4 281.7Z" fill="#fff" stroke="#000" stroke-width="2.25" />
<path d="M729.6 359.9L733.6 357.8L736.9 354.3L739.4 349.7L741.0 344.2L741.7 337.9L741.3 331.1L739.9 324.2L737.6 317.5L734.5 311.2L730.7 305.7L726.4 301.1L721.7 297.6L716.9 295.5L712.1 294.8L707.7 295.6" fill="none" stroke="#000" stroke-width="2.25" />
<path d="M773.2 344.7L775.0 343.4L776.6 341.8L778.0 339.9L779.3 337.7L780.3 335.3L781.2 332.7L768.9 336.9L768.0 339.5L767.0 341.9L765.7 344.1L764.3 345.9L762.7 347.6L760.9 348.9Z" fill="#000" stroke="#000" stroke-width="1.25" />
<path d="M698.1 289.3L694.1 291.3L690.6 294.3L687.6 298.4L685.3 303.2L683.7 308.9L683.0 315.0L682.9 321.6L683.7 328.5L685.3 335.3L687.6 342.1L690.5 348.5L694.1 354.3L698.1 359.6L702.5 364.0L707.2 367.5L712.0 370.0L716.8 371.3L721.4 371.6L725.9 370.7L732.5 368.5L736.5 366.5L740.1 363.4L743.0 359.4L745.3 354.5L746.9 348.9L747.7 342.7L747.7 336.1L746.9 329.3L745.3 322.4L743.0 315.7L740.1 309.3L736.5 303.4L732.5 298.2L728.1 293.8L723.4 290.3L718.6 287.8L713.8 286.4L709.2 286.2L704.8 287.0ZM723.0 362.2L726.9 360.0L730.3 356.6L732.8 352.0L734.4 346.4L735.0 340.1L734.7 333.4L733.3 326.5L731.0 319.8L727.9 313.5L724.1 307.9L719.7 303.3L715.1 299.9L710.2 297.8L705.5 297.1L701.0 297.8L697.1 300.0L693.7 303.4L691.2 308.0L689.6 313.6L689.0 319.9L689.3 326.6L690.7 333.5L693.0 340.2L696.1 346.5L699.9 352.1L704.3 356.7L708.9 360.1L713.8 362.2L718.5 362.9L723.0 362.2Z" fill="#fff" stroke="none" fill-rule="evenodd"/>
<path d="M698.1 289.3L694.1 291.3L690.6 294.3L687.6 298.4L685.3 303.2L683.7 308.9L683.0 315.0L682.9 321.6L683.7 328.5L685.3 335.3L687.6 342.1L690.5 348.5L694.1 354.3L698.1 359.6L702.5 364.0L707.2 367.5L712.0 370.0L716.8 371.3L721.4 371.6L725.9 370.7L732.5 368.5L736.5 366.5L740.1 363.4L743.0 359.4L745.3 354.5L746.9 348.9L747.7 342.7L747.7 336.1L746.9 329.3L745.3 322.4L743.0 315.7L740.1 309.3L736.5 303.4L732.5 298.2L728.1 293.8L723.4 290.3L718.6 287.8L713.8 286.4L709.2 286.2L704.8 287.0Z" fill="none" stroke="#000" stroke-width="2.25" />
<path d="M725.9 370.7L729.9 368.7L733.4 365.7L736.4 361.6L738.7 356.8L740.3 351.1L741.0 345.0L741.1 338.4L740.3 331.5L738.7 324.7L736.4 317.9L733.5 311.5L729.9 305.7L725.9 300.4L721.5 296.0L716.8 292.5L712.0 290.0L707.2 288.7L702.6 288.4L698.1 289.3" fill="none" stroke="#000" stroke-width="1.57" />
<path d="M724.6 366.9L728.5 364.9L731.9 361.8L734.7 357.6L736.8 352.6L738.0 346.8L738.4 340.5L738.0 333.9L736.7 327.1L734.7 320.4L731.9 314.1L728.4 308.2L724.5 303.1L720.1 298.8L715.5 295.5L710.8 293.3L706.1 292.3L701.6 292.5L697.4 293.9L693.7 296.5L690.6 300.2L688.2 304.8L686.5 310.2L685.7 316.3L685.7 322.8L686.5 329.5L688.2 336.3L690.6 342.8L693.8 348.9L697.5 354.5L701.7 359.2L706.2 363.0L710.9 365.8L715.6 367.3L720.2 367.7L724.6 366.9" fill="none" stroke="#000" stroke-width="1.25" />
<g clip-path="url(#c10)"><path d="M723.0 362.2L726.9 360.0L730.3 356.6L732.8 352.0L734.4 346.4L735.0 340.1L734.7 333.4L733.3 326.5L731.0 319.8L727.9 313.5L724.1 307.9L719.7 303.3L715.1 299.9L710.2 297.8L705.5 297.1L701.0 297.8L697.1 300.0L693.7 303.4L691.2 308.0L689.6 313.6L689.0 319.9L689.3 326.6L690.7 333.5L693.0 340.2L696.1 346.5L699.9 352.1L704.3 356.7L708.9 360.1L713.8 362.2L718.5 362.9L723.0 362.2ZM729.6 359.9L733.6 357.8L736.9 354.3L739.4 349.7L741.0 344.2L741.7 337.9L741.3 331.1L739.9 324.2L737.6 317.5L734.5 311.2L730.7 305.7L726.4 301.1L721.7 297.6L716.9 295.5L712.1 294.8L707.7 295.6L703.7 297.7L700.4 301.1L697.8 305.8L696.2 311.3L695.6 317.6L696.0 324.4L697.3 331.2L699.6 338.0L702.7 344.3L706.5 349.8L710.9 354.4L715.6 357.8L720.4 360.0L725.1 360.7L729.6 359.9Z" fill="#fff" fill-rule="evenodd"/><path d="M729.6 359.9L733.6 357.8L736.9 354.3L739.4 349.7L741.0 344.2L741.7 337.9L741.3 331.1L739.9 324.2L737.6 317.5L734.5 311.2L730.7 305.7L726.4 301.1L721.7 297.6L716.9 295.5L712.1 294.8L707.7 295.6L703.7 297.7L700.4 301.1L697.8 305.8L696.2 311.3L695.6 317.6L696.0 324.4L697.3 331.2L699.6 338.0L702.7 344.3L706.5 349.8L710.9 354.4L715.6 357.8L720.4 360.0L725.1 360.7L729.6 359.9Z" fill="none" stroke="#000" stroke-width="1.0"/></g>
<ellipse cx="712.0" cy="330.0" rx="21.4" ry="34.0" transform="rotate(-18.8 712.0 330.0)" fill="none" stroke="#000" stroke-width="2.25" />
<g clip-path="url(#c11)"><path d="M723.0 362.2L726.9 360.0L730.3 356.6L732.8 352.0L734.4 346.4L735.0 340.1L734.7 333.4L733.3 326.5L731.0 319.8L727.9 313.5L724.1 307.9L719.7 303.3L715.1 299.9L710.2 297.8L705.5 297.1L701.0 297.8L697.1 300.0L693.7 303.4L691.2 308.0L689.6 313.6L689.0 319.9L689.3 326.6L690.7 333.5L693.0 340.2L696.1 346.5L699.9 352.1L704.3 356.7L708.9 360.1L713.8 362.2L718.5 362.9L723.0 362.2ZM760.8 349.3L764.8 347.2L768.1 343.7L770.6 339.1L772.3 333.5L772.9 327.2L772.5 320.5L771.2 313.6L768.9 306.9L765.8 300.6L761.9 295.0L757.6 290.4L752.9 287.0L748.1 284.9L743.4 284.2L738.9 284.9L734.9 287.1L731.6 290.5L729.1 295.1L727.5 300.7L726.8 307.0L727.2 313.7L728.6 320.6L730.8 327.3L734.0 333.6L737.8 339.2L742.1 343.8L746.8 347.2L751.6 349.3L756.4 350.0L760.8 349.3Z" fill="#fff" fill-rule="evenodd"/><path d="M718.6 302.4L713.3 299.0L707.8 297.3L702.7 297.4L698.0 299.3L694.1 302.9L691.2 308.0L729.1 295.1L732.0 290.0L735.9 286.4L740.5 284.5L745.7 284.4L751.1 286.1L756.5 289.5Z" fill="#000"/><path d="M760.8 349.3L764.8 347.2L768.1 343.7L770.6 339.1L772.3 333.5L772.9 327.2L772.5 320.5L771.2 313.6L768.9 306.9L765.8 300.6L761.9 295.0L757.6 290.4L752.9 287.0L748.1 284.9L743.4 284.2L738.9 284.9L734.9 287.1L731.6 290.5L729.1 295.1L727.5 300.7L726.8 307.0L727.2 313.7L728.6 320.6L730.8 327.3L734.0 333.6L737.8 339.2L742.1 343.8L746.8 347.2L751.6 349.3L756.4 350.0L760.8 349.3Z" fill="none" stroke="#000" stroke-width="1.2"/></g>
<ellipse cx="712.0" cy="330.0" rx="21.4" ry="34.0" transform="rotate(-18.8 712.0 330.0)" fill="none" stroke="#000" stroke-width="2.25" />
<path d="M687.0 340.0L723.0 328.0" stroke="#000" stroke-width="1.4"/>
<path d="M647.1 313.0L644.9 313.9L642.9 315.2L641.0 316.8L639.3 318.8L637.9 321.0L636.6 323.6L635.6 326.3L634.8 329.3L634.3 332.5L634.0 335.9L633.9 339.3L634.2 342.9L634.7 346.5L635.4 350.1L636.4 353.8L637.6 357.3L639.0 360.8L640.6 364.1L642.5 367.2L644.5 370.2L646.6 372.9L648.9 375.4L651.2 377.6L653.7 379.5L656.2 381.1L658.7 382.3L661.3 383.2L663.8 383.7L666.3 383.8L668.7 383.6L671.0 383.0L673.1 382.1L675.2 380.8L677.0 379.1L678.7 377.2L680.2 374.9L681.4 372.4L682.4 369.6L683.2 366.6L683.8 363.4L684.0 360.1L684.1 356.6L683.8 353.1L683.3 349.4L682.6 345.8L681.6 342.2L680.4 338.7L679.0 335.2L677.3 331.9L675.5 328.7L673.5 325.8L671.4 323.0L669.1 320.6L666.7 318.4L664.3 316.5L661.8 314.9L659.2 313.7L656.7 312.8L654.2 312.3L651.7 312.2L652.7 317.0L654.8 317.1L657.0 317.6L659.2 318.3L661.4 319.4L663.6 320.7L665.7 322.4L667.7 324.3L669.7 326.4L671.6 328.8L673.3 331.3L674.9 334.1L676.3 336.9L677.5 339.9L678.6 343.0L679.4 346.1L680.0 349.2L680.5 352.4L680.7 355.5L680.7 358.5L680.4 361.4L679.9 364.1L679.3 366.7L678.4 369.1L677.3 371.3L676.0 373.2L674.6 374.9L673.0 376.3L671.2 377.5L669.3 378.3L667.4 378.8L665.3 379.0L663.2 378.9L661.0 378.4L658.8 377.6L656.6 376.6L654.4 375.2L652.3 373.6L650.2 371.7L648.3 369.6L646.4 367.2L644.7 364.6L643.1 361.9L641.7 359.0L640.5 356.0L639.4 353.0L638.6 349.9L637.9 346.7L637.5 343.6L637.3 340.5L637.3 337.5L637.6 334.6L638.1 331.8L638.7 329.3L639.6 326.9L640.7 324.7L642.0 322.7L643.4 321.0L645.1 319.6L646.8 318.5L648.7 317.7Z" fill="#fff" stroke="#000" stroke-width="2.25" />
<path d="M674.9 381.6L677.0 380.5L678.9 379.1L680.7 377.3L682.3 375.2L683.6 372.8L684.8 370.1L685.7 367.3L686.3 364.2L686.8 360.9L686.9 357.5L686.8 353.9L686.5 350.4L685.9 346.7L685.0 343.1L683.9 339.5L682.6 336.0L681.1 332.6L679.3 329.4L677.4 326.3L675.3 323.5L673.1 320.9L670.8 318.5L668.4 316.5L665.9 314.7L663.4 313.3L660.8 312.3L658.3 311.6L655.8 311.2L653.4 311.3L651.0 311.7" fill="none" stroke="#000" stroke-width="1.57" />
<path d="M634.3 328.0L634.0 329.6L633.7 331.2L633.5 332.8L633.4 334.4L633.3 336.1L633.2 337.9L633.3 339.6L633.4 341.4L633.5 343.2L633.8 345.0L634.1 346.8L634.4 348.6L634.8 350.4L635.3 352.2L635.8 354.0L636.4 355.8L637.0 357.5L637.7 359.3L638.4 361.0L639.2 362.7L640.0 364.3L640.9 365.9L641.8 367.5L642.8 369.0L643.8 370.5L644.9 371.9L645.9 373.2L647.0 374.5L648.2 375.7L649.3 376.9L651.4 370.8L650.5 369.9L649.6 368.9L648.7 367.9L647.8 366.8L647.0 365.7L646.2 364.6L645.5 363.4L644.7 362.1L644.0 360.9L643.4 359.6L642.8 358.3L642.2 356.9L641.6 355.5L641.1 354.2L640.7 352.7L640.3 351.3L639.9 349.9L639.6 348.5L639.3 347.0L639.1 345.6L638.9 344.2L638.8 342.8L638.7 341.4L638.7 340.0L638.7 338.6L638.8 337.3L638.9 336.0L639.0 334.7L639.2 333.4L639.5 332.2Z" fill="#fff" stroke="none" />
<path d="M650.0 353.0L674.0 345.0" stroke="#000" stroke-width="1.4"/>
<path d="M571.9 340.4L567.9 342.5L564.6 345.8L561.9 350.2L560.1 355.6L559.2 361.6L559.2 368.2L560.2 375.0L562.0 381.8L564.7 388.3L568.1 394.3L572.1 399.5L576.5 403.8L581.2 406.9L586.0 408.8L590.7 409.4L595.1 408.6L635.8 394.7L639.8 392.6L643.1 389.3L645.8 384.9L647.6 379.6L648.5 373.5L648.5 366.9L647.5 360.1L645.7 353.3L643.0 346.8L639.6 340.8L635.6 335.6L631.2 331.4L626.5 328.2L621.7 326.4L617.0 325.8L612.6 326.6ZM593.0 402.4L597.0 400.2L600.1 396.5L602.3 391.4L603.4 385.4L603.3 378.8L602.1 371.9L599.8 365.2L596.6 359.0L592.6 353.7L588.1 349.6L583.3 347.0L578.5 345.9L574.0 346.6L570.0 348.8L566.9 352.5L564.7 357.6L563.6 363.6L563.7 370.2L564.9 377.1L567.2 383.8L570.4 390.0L574.4 395.3L578.9 399.4L583.7 402.0L588.5 403.1L593.0 402.4Z" fill="#fff" stroke="none" fill-rule="evenodd"/>
<path d="M571.9 340.4L567.9 342.5L564.6 345.8L561.9 350.2L560.1 355.6L559.2 361.6L559.2 368.2L560.2 375.0L562.0 381.8L564.7 388.3L568.1 394.3L572.1 399.5L576.5 403.8L581.2 406.9L586.0 408.8L590.7 409.4L595.1 408.6L635.8 394.7L639.8 392.6L643.1 389.3L645.8 384.9L647.6 379.6L648.5 373.5L648.5 366.9L647.5 360.1L645.7 353.3L643.0 346.8L639.6 340.8L635.6 335.6L631.2 331.4L626.5 328.2L621.7 326.4L617.0 325.8L612.6 326.6Z" fill="none" stroke="#000" stroke-width="2.12" />
<path d="M595.1 408.6L599.1 406.5L602.4 403.2L605.1 398.8L606.9 393.4L607.8 387.4L607.8 380.8L606.8 374.0L605.0 367.2L602.3 360.7L598.9 354.7L594.9 349.5L590.5 345.2L585.8 342.1L581.0 340.2L576.3 339.6L571.9 340.4" fill="none" stroke="#000" stroke-width="2.12" />
<path d="M607.2 400.3L620.3 395.9L623.0 390.0L609.9 394.4ZM611.0 389.8L624.0 385.4L624.6 377.8L611.6 382.2ZM611.2 376.8L624.2 372.4L622.5 364.2L609.5 368.6ZM607.7 363.3L620.7 358.9L617.0 351.3L604.0 355.8ZM601.0 351.3L614.1 346.8L609.0 341.1L596.0 345.6ZM592.3 342.6L605.3 338.2L599.6 335.1L586.6 339.6ZM624.5 397.1L637.5 392.7L641.2 388.1L628.1 392.5ZM629.9 388.6L642.9 384.1L644.6 377.2L631.6 381.7ZM631.9 376.6L644.9 372.2L644.4 364.1L631.3 368.5ZM630.2 363.1L643.2 358.6L640.5 350.6L627.5 355.1ZM625.0 350.0L638.1 345.6L633.6 338.9L620.6 343.3ZM617.2 339.5L630.2 335.1L624.7 330.6L611.7 335.0ZM607.9 333.0L620.9 328.6L615.2 327.1L602.2 331.5Z" fill="#fff" stroke="#000" stroke-width="2.44" />
<path d="M607.2 400.3L620.3 395.9L620.3 392.6L607.3 397.0ZM611.0 389.8L624.0 385.4L623.2 382.0L610.2 386.4ZM611.2 376.8L624.2 372.4L622.5 369.4L609.5 373.8ZM607.7 363.3L620.7 358.9L618.5 356.7L605.5 361.1ZM601.0 351.3L614.1 346.8L611.7 345.8L598.6 350.2ZM592.3 342.6L605.3 338.2L603.1 338.4L590.1 342.9ZM624.5 397.1L637.5 392.7L638.1 389.7L625.0 394.2ZM629.9 388.6L642.9 384.1L642.5 380.7L629.5 385.2ZM631.9 376.6L644.9 372.2L643.7 368.9L630.6 373.3ZM630.2 363.1L643.2 358.6L641.3 356.0L628.2 360.4ZM625.0 350.0L638.1 345.6L635.7 344.0L622.7 348.4ZM617.2 339.5L630.2 335.1L627.9 334.7L614.8 339.1ZM607.9 333.0L620.9 328.6L618.9 329.5L605.9 334.0Z" fill="#000" stroke="#000" stroke-width="1.0" />
<g clip-path="url(#c12)"><path d="M593.0 402.4L597.0 400.2L600.1 396.5L602.3 391.4L603.4 385.4L603.3 378.8L602.1 371.9L599.8 365.2L596.6 359.0L592.6 353.7L588.1 349.6L583.3 347.0L578.5 345.9L574.0 346.6L570.0 348.8L566.9 352.5L564.7 357.6L563.6 363.6L563.7 370.2L564.9 377.1L567.2 383.8L570.4 390.0L574.4 395.3L578.9 399.4L583.7 402.0L588.5 403.1L593.0 402.4ZM633.7 388.6L637.7 386.3L640.8 382.6L643.0 377.6L644.1 371.6L644.0 364.9L642.8 358.1L640.5 351.3L637.3 345.1L633.3 339.8L628.8 335.8L624.0 333.1L619.2 332.1L614.7 332.7L610.8 334.9L607.6 338.7L605.4 343.7L604.3 349.7L604.4 356.3L605.6 363.2L607.9 370.0L611.1 376.2L615.1 381.4L619.7 385.5L624.4 388.2L629.2 389.2L633.7 388.6Z" fill="#fff" fill-rule="evenodd"/><path d="M570.7 351.1L583.7 346.6L581.5 351.5L568.5 355.9ZM567.6 359.7L580.6 355.2L580.2 361.5L567.2 365.9ZM567.5 370.3L580.5 365.9L581.9 372.6L568.9 377.0ZM570.4 381.4L583.4 377.0L586.4 383.2L573.4 387.6ZM575.8 391.3L588.8 386.8L593.0 391.5L580.0 396.0ZM583.0 398.4L596.0 394.0L600.7 396.4L587.6 400.9ZM591.0 344.1L604.1 339.7L601.9 344.5L588.8 349.0ZM588.0 352.7L601.0 348.3L600.5 354.5L587.5 359.0ZM587.8 363.4L600.9 359.0L602.2 365.7L589.2 370.1ZM590.7 374.5L603.7 370.1L606.7 376.2L593.7 380.7ZM596.1 384.4L609.2 379.9L613.3 384.6L600.3 389.0ZM603.3 391.5L616.3 387.0L621.0 389.5L608.0 393.9Z" fill="#fff" stroke="#000" stroke-width="1.53"/><path d="M614.7 332.7L610.8 334.9L607.6 338.7L605.4 343.7L604.3 349.7L604.4 356.3L605.6 363.2L607.9 370.0L611.1 376.2L615.1 381.4L619.7 385.5L624.4 388.2L629.2 389.2L633.7 388.6" fill="none" stroke="#000" stroke-width="1.2"/></g>
<ellipse cx="583.5" cy="374.5" rx="18.6" ry="29.5" transform="rotate(-18.8 583.5 374.5)" fill="none" stroke="#000" stroke-width="2.12" />
<path d="M477.0 341.8L473.0 334.8L470.7 335.7L472.5 343.7L468.9 345.8L464.0 339.7L462.0 341.3L464.9 348.9L461.9 351.9L456.3 346.9L454.6 349.0L458.6 356.1L456.3 359.9L450.2 356.2L448.9 358.8L453.8 365.0L452.2 369.5L445.8 367.2L445.1 370.2L450.6 375.2L449.8 380.2L443.5 379.5L443.2 382.7L449.3 386.4L449.2 391.7L443.1 392.6L443.4 395.9L449.7 398.2L450.5 403.6L444.9 406.0L445.7 409.3L452.0 410.0L453.6 415.3L448.6 419.1L449.9 422.3L456.0 421.5L458.3 426.5L454.3 431.6L455.9 434.6L461.6 432.2L464.5 436.6L461.5 442.9L463.5 445.5L468.5 441.6L472.0 445.4L470.1 452.5L472.5 454.6L476.5 449.5L480.4 452.5L479.8 460.2L482.3 461.7L485.3 455.5L489.5 457.5L490.1 465.5L492.7 466.5L494.6 459.4L498.8 460.4L500.7 468.4L503.3 468.7L504.0 461.0L508.1 460.9L511.1 468.6L513.6 468.3L513.1 460.3L517.0 459.2L541.6 450.8L545.6 457.9L547.9 456.9L546.2 448.9L549.7 446.8L554.6 453.0L556.6 451.4L553.7 443.7L556.7 440.7L562.3 445.7L564.0 443.6L560.0 436.5L562.4 432.7L568.4 436.4L569.7 433.8L564.8 427.6L566.5 423.2L572.8 425.4L573.6 422.5L568.0 417.4L568.8 412.4L575.1 413.2L575.4 409.9L569.4 406.2L569.4 400.9L575.5 400.1L575.2 396.7L568.9 394.4L568.1 389.1L573.7 386.7L573.0 383.3L566.6 382.6L565.0 377.3L570.0 373.5L568.7 370.3L562.6 371.1L560.3 366.2L564.4 361.0L562.7 358.1L557.1 360.4L554.1 356.0L557.1 349.7L555.1 347.2L550.1 351.0L546.6 347.2L548.5 340.1L546.2 338.0L542.1 343.1L538.2 340.2L538.8 332.5L536.3 330.9L533.3 337.1L529.1 335.1L528.5 327.1L525.9 326.1L524.0 333.2L519.8 332.2L517.9 324.2L515.3 323.9L514.6 331.6L510.5 331.7L507.5 324.0L505.0 324.4L505.5 332.4L501.6 333.4Z" fill="#fff" stroke="none" />
<path d="M541.6 450.8L545.6 457.9L547.9 456.9L546.2 448.9L549.7 446.8L554.6 453.0L556.6 451.4L553.7 443.7L556.7 440.7L562.3 445.7L564.0 443.6L560.0 436.5L562.4 432.7L568.4 436.4L569.7 433.8L564.8 427.6L566.5 423.2L572.8 425.4L573.6 422.5L568.0 417.4L568.8 412.4L575.1 413.2L575.4 409.9L569.4 406.2L569.4 400.9L575.5 400.1L575.2 396.7L568.9 394.4L568.1 389.1L573.7 386.7L573.0 383.3L566.6 382.6L565.0 377.3L570.0 373.5L568.7 370.3L562.6 371.1L560.3 366.2L564.4 361.0L562.7 358.1L557.1 360.4L554.1 356.0L557.1 349.7L555.1 347.2L550.1 351.0L546.6 347.2L548.5 340.1L546.2 338.0L542.1 343.1L538.2 340.2L538.8 332.5L536.3 330.9L533.3 337.1L529.1 335.1L528.5 327.1L525.9 326.1L524.0 333.2L519.8 332.2L517.9 324.2L515.3 323.9L514.6 331.6L510.5 331.7L507.5 324.0L505.0 324.4L505.5 332.4L501.6 333.4" fill="none" stroke="#000" stroke-width="1.62" />
<path d="M521.0 466.2L545.6 457.9M523.3 465.3L547.9 456.9M530.0 461.3L554.6 453.0M532.0 459.7L556.6 451.4M537.7 454.1L562.3 445.7M539.4 452.0L564.0 443.6M543.8 444.8L568.4 436.4M545.1 442.2L569.7 433.8M548.2 433.8L572.8 425.4M548.9 430.8L573.6 422.5M550.5 421.5L575.1 413.2M550.8 418.3L575.4 409.9M550.9 408.4L575.5 400.1M550.6 405.1L575.2 396.7M549.1 395.0L573.7 386.7M548.3 391.7L573.0 383.3M545.4 381.9L570.0 373.5M544.1 378.7L568.7 370.3M539.7 369.4L564.4 361.0M538.1 366.4L562.7 358.1M532.5 358.1L557.1 349.7M530.5 355.5L555.1 347.2M523.9 348.5L548.5 340.1M521.5 346.4L546.2 338.0M514.2 340.8L538.8 332.5M511.7 339.3L536.3 330.9M503.9 335.5L528.5 327.1M501.3 334.5L525.9 326.1M493.3 332.6L517.9 324.2M490.7 332.3L515.3 323.9M482.9 332.4L507.5 324.0M480.4 332.7L505.0 324.4" fill="none" stroke="#000" stroke-width="1.3" />
<path d="M539.4 452.0L564.0 443.6L559.7 436.9L535.1 445.3ZM545.1 442.2L569.7 433.8L564.6 428.1L540.0 436.5ZM548.9 430.8L573.6 422.5L567.9 417.9L543.2 426.3ZM550.8 418.3L575.4 409.9L569.3 406.7L544.7 415.1ZM550.6 405.1L575.2 396.7L569.0 395.0L544.4 403.4ZM548.3 391.7L573.0 383.3L566.8 383.2L542.2 391.5ZM544.1 378.7L568.7 370.3L562.9 371.7L538.3 380.0ZM538.1 366.4L562.7 358.1L557.4 360.9L532.8 369.3ZM530.5 355.5L555.1 347.2L550.5 351.4L525.9 359.8ZM521.5 346.4L546.2 338.0L542.5 343.5L517.9 351.8ZM511.7 339.3L536.3 330.9L533.7 337.4L509.1 345.8ZM501.3 334.5L525.9 326.1L524.5 333.4L499.9 341.8ZM490.7 332.3L515.3 323.9L515.1 331.7L490.5 340.0Z" fill="#000" stroke="#000" stroke-width="1.25" />
<path d="M517.0 459.2L521.0 466.2L523.3 465.3L521.5 457.3L525.1 455.2L530.0 461.3L532.0 459.7L529.1 452.1L532.1 449.1L537.7 454.1L539.4 452.0L535.4 444.9L537.7 441.1L543.8 444.8L545.1 442.2L540.2 436.0L541.8 431.5L548.2 433.8L548.9 430.8L543.4 425.8L544.2 420.8L550.5 421.5L550.8 418.3L544.7 414.6L544.8 409.3L550.9 408.4L550.6 405.1L544.3 402.8L543.5 397.4L549.1 395.0L548.3 391.7L542.0 391.0L540.4 385.7L545.4 381.9L544.1 378.7L538.0 379.5L535.7 374.5L539.7 369.4L538.1 366.4L532.4 368.8L529.5 364.4L532.5 358.1L530.5 355.5L525.5 359.4L522.0 355.6L523.9 348.5L521.5 346.4L517.5 351.5L513.6 348.5L514.2 340.8L511.7 339.3L508.7 345.5L504.5 343.5L503.9 335.5L501.3 334.5L499.4 341.6L495.2 340.6L493.3 332.6L490.7 332.3L490.0 340.0L485.9 340.1L482.9 332.4L480.4 332.7L480.9 340.7L477.0 341.8L473.0 334.8L470.7 335.7L472.5 343.7L468.9 345.8L464.0 339.7L462.0 341.3L464.9 348.9L461.9 351.9L456.3 346.9L454.6 349.0L458.6 356.1L456.3 359.9L450.2 356.2L448.9 358.8L453.8 365.0L452.2 369.5L445.8 367.2L445.1 370.2L450.6 375.2L449.8 380.2L443.5 379.5L443.2 382.7L449.3 386.4L449.2 391.7L443.1 392.6L443.4 395.9L449.7 398.2L450.5 403.6L444.9 406.0L445.7 409.3L452.0 410.0L453.6 415.3L448.6 419.1L449.9 422.3L456.0 421.5L458.3 426.5L454.3 431.6L455.9 434.6L461.6 432.2L464.5 436.6L461.5 442.9L463.5 445.5L468.5 441.6L472.0 445.4L470.1 452.5L472.5 454.6L476.5 449.5L480.4 452.5L479.8 460.2L482.3 461.7L485.3 455.5L489.5 457.5L490.1 465.5L492.7 466.5L494.6 459.4L498.8 460.4L500.7 468.4L503.3 468.7L504.0 461.0L508.1 460.9L511.1 468.6L513.6 468.3L513.1 460.3L517.0 459.2Z" fill="none" stroke="#000" stroke-width="1.62" />
<path d="M526.7 463.1L529.4 461.7L531.8 464.8L532.8 464.1L531.9 460.0L534.2 458.0L536.9 460.7L537.8 459.8L536.5 455.7L538.5 453.2L541.3 455.5L542.1 454.3L540.4 450.4L542.1 447.4L545.0 449.2L545.6 447.9L543.6 444.2L545.0 440.7L547.8 442.0L548.3 440.5L546.1 437.1L547.0 433.2L549.9 434.0L550.2 432.3L547.7 429.2L548.2 425.1L551.0 425.3L551.1 423.5L548.4 420.9L548.5 416.5L551.2 416.1L551.1 414.2L548.3 412.1L548.0 407.6L550.5 406.6L550.2 404.7L547.4 403.0L546.5 398.5L548.8 397.0L548.4 395.1L545.5 393.9L544.3 389.4L546.3 387.4L545.7 385.5L542.9 384.9L541.3 380.5L543.0 378.0L542.3 376.2L539.5 376.1L537.5 371.9L538.9 369.0L538.0 367.3L535.4 367.8L533.1 363.8L534.1 360.6L533.1 358.9L530.6 360.0L528.0 356.4L528.7 352.8L527.6 351.4L525.3 353.0L522.5 349.8L522.8 346.0L521.6 344.7L519.6 346.8L516.6 344.1L516.5 340.1L515.2 339.0L513.6 341.6L510.5 339.4L510.0 335.3L508.6 334.5L507.3 337.4L504.1 335.8L503.2 331.7L501.9 331.1L500.9 334.4L497.7 333.4L496.5 329.3L495.1 329.0L494.6 332.7L491.4 332.2L489.8 328.3L488.5 328.2L488.3 332.1L485.3 332.3L483.4 328.5L482.2 328.7L482.4 332.8" fill="none" stroke="#000" stroke-width="1.75" />
<ellipse cx="497.0" cy="400.5" rx="45.4" ry="72.0" transform="rotate(-18.8 497.0 400.5)" fill="#fff" stroke="#000" stroke-width="2.12" />
<g clip-path="url(#c13)"><path d="M514.4 451.6L518.5 449.8L522.1 447.0L525.4 443.5L528.2 439.3L530.4 434.4L532.1 428.9L533.1 422.9L533.6 416.6L533.4 409.9L532.6 403.1L531.2 396.3L529.2 389.5L526.7 383.0L523.6 376.7L520.1 370.8L516.2 365.4L512.0 360.7L507.5 356.6L502.8 353.3L498.0 350.7L493.2 349.1L488.5 348.3L484.0 348.4L479.6 349.4L475.5 351.2L471.9 354.0L468.6 357.5L465.8 361.7L463.6 366.6L461.9 372.1L460.9 378.1L460.4 384.4L460.6 391.1L461.4 397.9L462.8 404.7L464.8 411.5L467.3 418.0L470.4 424.3L473.9 430.2L477.8 435.6L482.0 440.3L486.5 444.4L491.2 447.7L496.0 450.3L500.8 451.9L505.5 452.7L510.0 452.6L514.4 451.6ZM535.2 444.5L539.3 442.7L543.0 439.9L546.2 436.4L549.0 432.2L551.2 427.3L552.9 421.8L554.0 415.8L554.4 409.5L554.2 402.8L553.4 396.1L552.0 389.2L550.0 382.4L547.5 375.9L544.4 369.6L540.9 363.7L537.0 358.4L532.8 353.6L528.3 349.5L523.6 346.2L518.9 343.7L514.1 342.0L509.4 341.2L504.8 341.3L500.4 342.3L496.4 344.2L492.7 346.9L489.4 350.4L486.7 354.6L484.4 359.5L482.7 365.0L481.7 371.0L481.2 377.3L481.4 384.0L482.2 390.8L483.6 397.6L485.6 404.4L488.2 411.0L491.2 417.2L494.7 423.1L498.6 428.5L502.9 433.2L507.4 437.3L512.0 440.6L516.8 443.2L521.6 444.8L526.3 445.6L530.9 445.5L535.2 444.5Z" fill="#fff" fill-rule="evenodd"/><path d="M484.8 348.3L480.1 349.2L475.7 351.2L471.7 354.1L468.2 357.9L465.3 362.6L463.1 368.1L461.5 374.2L460.6 380.8L460.4 387.9L461.0 395.1L481.8 388.0L481.2 380.8L481.4 373.7L482.3 367.1L483.9 361.0L486.2 355.6L489.1 350.8L492.5 347.0L496.5 344.1L500.9 342.1L505.7 341.2Z" fill="#000"/><path d="M514.4 451.6L518.6 449.7L522.3 446.9L525.7 443.2L528.5 438.8L530.7 433.6L532.3 427.9L533.3 421.7L554.1 414.6L553.1 420.8L551.5 426.5L549.3 431.7L546.5 436.1L543.2 439.8L539.4 442.6L535.2 444.5Z" fill="#000"/><path d="M535.2 444.5L539.3 442.7L543.0 439.9L546.2 436.4L549.0 432.2L551.2 427.3L552.9 421.8L554.0 415.8L554.4 409.5L554.2 402.8L553.4 396.1L552.0 389.2L550.0 382.4L547.5 375.9L544.4 369.6L540.9 363.7L537.0 358.4L532.8 353.6L528.3 349.5L523.6 346.2L518.9 343.7L514.1 342.0L509.4 341.2L504.8 341.3L500.4 342.3L496.4 344.2L492.7 346.9L489.4 350.4L486.7 354.6L484.4 359.5L482.7 365.0L481.7 371.0L481.2 377.3L481.4 384.0L482.2 390.8L483.6 397.6L485.6 404.4L488.2 411.0L491.2 417.2L494.7 423.1L498.6 428.5L502.9 433.2L507.4 437.3L512.0 440.6L516.8 443.2L521.6 444.8L526.3 445.6L530.9 445.5L535.2 444.5Z" fill="none" stroke="#000" stroke-width="1.0"/></g>
<ellipse cx="497.0" cy="400.5" rx="34.0" ry="54.0" transform="rotate(-18.8 497.0 400.5)" fill="none" stroke="#000" stroke-width="2.25" />
<path d="M479.0 412.0L510.0 401.0" stroke="#000" stroke-width="1.4"/>
<path d="M399.5 359.4L395.3 361.2L391.4 363.6L387.8 366.7L384.6 370.3L381.7 374.5L379.3 379.3L377.2 384.5L375.6 390.1L374.4 396.1L373.7 402.4L373.5 409.0L373.8 415.7L374.5 422.6L375.7 429.6L377.4 436.5L379.5 443.3L382.0 450.0L384.9 456.5L388.2 462.7L391.8 468.6L395.7 474.1L399.9 479.2L404.3 483.8L408.9 487.8L413.6 491.3L418.4 494.2L423.2 496.4L428.1 498.0L432.9 498.9L437.6 499.2L442.1 498.7L446.5 497.6L456.9 494.1L461.1 492.3L465.0 489.8L468.6 486.8L471.8 483.1L474.7 478.9L477.2 474.2L479.2 469.0L480.8 463.3L482.0 457.3L482.7 451.0L482.9 444.5L482.6 437.7L481.9 430.8L480.7 423.9L479.0 417.0L476.9 410.1L474.4 403.4L471.5 396.9L468.2 390.7L464.6 384.8L460.7 379.3L456.5 374.2L452.1 369.7L447.6 365.6L442.8 362.1L438.0 359.3L433.2 357.0L428.3 355.4L423.5 354.5L418.8 354.3L414.3 354.7L409.9 355.8ZM442.8 486.5L446.8 484.8L450.5 482.2L453.9 479.0L456.9 475.1L459.4 470.6L461.4 465.6L463.0 460.0L464.0 454.1L464.5 447.8L464.5 441.3L463.9 434.6L462.8 427.8L461.1 421.1L459.0 414.4L456.4 407.9L453.3 401.7L449.9 395.8L446.1 390.4L442.0 385.5L437.7 381.1L433.2 377.3L428.5 374.2L423.8 371.8L419.0 370.2L414.3 369.3L409.8 369.2L405.4 369.8L401.2 371.3L397.3 373.4L393.7 376.3L390.6 379.9L387.8 384.1L385.5 388.9L383.7 394.2L382.4 399.9L381.7 406.0L381.4 412.4L381.8 419.0L382.6 425.8L384.0 432.6L385.9 439.3L388.3 445.9L391.1 452.2L394.3 458.3L397.9 463.9L401.9 469.1L406.1 473.8L410.5 477.9L415.1 481.3L419.9 484.1L424.6 486.1L429.3 487.4L434.0 487.9L438.5 487.6L442.8 486.5Z" fill="#fff" stroke="none" fill-rule="evenodd"/>
<path d="M399.5 359.4L395.3 361.2L391.4 363.6L387.8 366.7L384.6 370.3L381.7 374.5L379.3 379.3L377.2 384.5L375.6 390.1L374.4 396.1L373.7 402.4L373.5 409.0L373.8 415.7L374.5 422.6L375.7 429.6L377.4 436.5L379.5 443.3L382.0 450.0L384.9 456.5L388.2 462.7L391.8 468.6L395.7 474.1L399.9 479.2L404.3 483.8L408.9 487.8L413.6 491.3L418.4 494.2L423.2 496.4L428.1 498.0L432.9 498.9L437.6 499.2L442.1 498.7L446.5 497.6L456.9 494.1L461.1 492.3L465.0 489.8L468.6 486.8L471.8 483.1L474.7 478.9L477.2 474.2L479.2 469.0L480.8 463.3L482.0 457.3L482.7 451.0L482.9 444.5L482.6 437.7L481.9 430.8L480.7 423.9L479.0 417.0L476.9 410.1L474.4 403.4L471.5 396.9L468.2 390.7L464.6 384.8L460.7 379.3L456.5 374.2L452.1 369.7L447.6 365.6L442.8 362.1L438.0 359.3L433.2 357.0L428.3 355.4L423.5 354.5L418.8 354.3L414.3 354.7L409.9 355.8Z" fill="none" stroke="#000" stroke-width="2.12" />
<path d="M446.5 497.6L450.7 495.8L454.6 493.4L458.2 490.3L461.4 486.7L464.3 482.5L466.7 477.7L468.8 472.5L470.4 466.9L471.6 460.9L472.3 454.6L472.5 448.0L472.2 441.3L471.5 434.4L470.3 427.4L468.6 420.5L466.5 413.7L464.0 407.0L461.1 400.5L457.8 394.3L454.2 388.4L450.3 382.9L446.1 377.8L441.7 373.2L437.1 369.2L432.4 365.7L427.6 362.8L422.8 360.6L417.9 359.0L413.1 358.1L408.4 357.8L403.9 358.3L399.5 359.4" fill="none" stroke="#000" stroke-width="1.38" />
<ellipse cx="423.0" cy="428.5" rx="43.5" ry="69.0" transform="rotate(-18.8 423.0 428.5)" fill="none" stroke="#000" stroke-width="1.25" />
<ellipse cx="423.0" cy="428.5" rx="41.6" ry="66.0" transform="rotate(-18.8 423.0 428.5)" fill="none" stroke="#000" stroke-width="1.62" />
<ellipse cx="423.0" cy="428.5" rx="38.6" ry="61.3" transform="rotate(-18.8 423.0 428.5)" fill="#fff" stroke="#000" stroke-width="2.12" />
<path d="M456.4 475.4L471.5 464.1L476.0 439.6L472.6 411.6L458.2 387.4L439.7 370.6L420.8 370.9L405.7 382.2L401.2 406.8L404.6 434.8L419.0 459.0L437.5 475.7L456.4 475.4Z" fill="none" stroke="#000" stroke-width="1.62" />
<path d="M473.9 468.9h4.4v4.4h-4.4ZM475.8 461.7h4.4v4.4h-4.4ZM477.0 454.1h4.4v4.4h-4.4ZM477.5 446.0h4.4v4.4h-4.4ZM477.3 437.6h4.4v4.4h-4.4ZM476.4 428.9h4.4v4.4h-4.4ZM474.7 420.3h4.4v4.4h-4.4ZM459.5 384.1h4.4v4.4h-4.4ZM453.6 375.9h4.4v4.4h-4.4ZM447.1 368.7h4.4v4.4h-4.4ZM440.3 362.6h4.4v4.4h-4.4ZM433.1 357.9h4.4v4.4h-4.4ZM425.8 354.5h4.4v4.4h-4.4Z" fill="#fff" stroke="#000" stroke-width="1.62" />
<path d="M455.4 482.5L474.6 476.0L478.6 485.0L459.4 492.5Z" fill="#fff" stroke="#000" stroke-width="1.88" />
<path d="M406.9 357.8L422.1 350.9L427.1 352.9L427.1 358.9L411.9 365.8L406.9 363.8Z" fill="#fff" stroke="#000" stroke-width="1.75" />
<path d="M397.0 438.0L447.0 423.0" stroke="#000" stroke-width="1.4"/>
<path d="M276.6 392.9L272.4 394.6L268.5 396.9L264.8 399.8L261.4 403.3L258.4 407.2L255.7 411.6L253.3 416.5L251.3 421.7L249.7 427.4L248.6 433.4L247.8 439.6L247.4 446.1L247.5 452.8L248.0 459.6L248.9 466.5L250.3 473.4L252.0 480.3L254.1 487.1L256.6 493.9L259.4 500.4L262.6 506.7L266.1 512.7L269.8 518.4L273.9 523.7L278.1 528.7L282.5 533.1L287.1 537.2L291.8 540.7L296.6 543.6L301.4 546.0L306.3 547.9L311.1 549.1L315.9 549.8L320.5 549.8L325.1 549.3L329.4 548.1L370.1 534.3L374.3 532.5L378.2 530.2L381.9 527.3L385.3 523.9L388.3 520.0L391.0 515.5L393.4 510.7L395.4 505.4L397.0 499.8L398.2 493.8L398.9 487.5L399.3 481.0L399.2 474.4L398.7 467.5L397.8 460.7L396.5 453.7L394.7 446.8L392.6 440.0L390.1 433.3L387.3 426.8L384.1 420.5L380.6 414.4L376.9 408.7L372.8 403.4L368.6 398.5L364.2 394.0L359.6 390.0L354.9 386.5L350.1 383.5L345.3 381.1L340.4 379.3L335.6 378.0L330.8 377.4L326.2 377.3L321.6 377.9L317.3 379.0ZM327.5 542.4L331.6 540.7L335.4 538.4L339.0 535.5L342.2 532.0L345.1 528.0L347.7 523.5L349.9 518.6L351.6 513.3L353.0 507.6L353.9 501.5L354.4 495.3L354.5 488.8L354.1 482.1L353.3 475.3L352.1 468.6L350.4 461.8L348.3 455.1L345.9 448.5L343.1 442.1L339.9 436.0L336.4 430.1L332.7 424.6L328.6 419.5L324.4 414.8L320.0 410.6L315.4 406.9L310.8 403.8L306.0 401.2L301.3 399.2L296.5 397.8L291.8 397.1L287.3 396.9L282.8 397.4L278.5 398.6L274.4 400.3L270.6 402.6L267.0 405.5L263.8 409.0L260.9 413.0L258.3 417.5L256.1 422.4L254.4 427.7L253.0 433.4L252.1 439.5L251.6 445.7L251.5 452.2L251.9 458.9L252.7 465.7L253.9 472.4L255.6 479.2L257.7 485.9L260.1 492.5L262.9 498.9L266.1 505.0L269.6 510.9L273.3 516.4L277.4 521.5L281.6 526.2L286.0 530.4L290.6 534.1L295.2 537.2L300.0 539.8L304.7 541.8L309.5 543.2L314.2 543.9L318.7 544.1L323.2 543.6L327.5 542.4Z" fill="#fff" stroke="none" fill-rule="evenodd"/>
<path d="M276.6 392.9L272.4 394.6L268.5 396.9L264.8 399.8L261.4 403.3L258.4 407.2L255.7 411.6L253.3 416.5L251.3 421.7L249.7 427.4L248.6 433.4L247.8 439.6L247.4 446.1L247.5 452.8L248.0 459.6L248.9 466.5L250.3 473.4L252.0 480.3L254.1 487.1L256.6 493.9L259.4 500.4L262.6 506.7L266.1 512.7L269.8 518.4L273.9 523.7L278.1 528.7L282.5 533.1L287.1 537.2L291.8 540.7L296.6 543.6L301.4 546.0L306.3 547.9L311.1 549.1L315.9 549.8L320.5 549.8L325.1 549.3L329.4 548.1L370.1 534.3L374.3 532.5L378.2 530.2L381.9 527.3L385.3 523.9L388.3 520.0L391.0 515.5L393.4 510.7L395.4 505.4L397.0 499.8L398.2 493.8L398.9 487.5L399.3 481.0L399.2 474.4L398.7 467.5L397.8 460.7L396.5 453.7L394.7 446.8L392.6 440.0L390.1 433.3L387.3 426.8L384.1 420.5L380.6 414.4L376.9 408.7L372.8 403.4L368.6 398.5L364.2 394.0L359.6 390.0L354.9 386.5L350.1 383.5L345.3 381.1L340.4 379.3L335.6 378.0L330.8 377.4L326.2 377.3L321.6 377.9L317.3 379.0Z" fill="none" stroke="#000" stroke-width="2.5" />
<path d="M329.4 548.1L333.6 546.4L337.5 544.1L341.2 541.2L344.6 537.7L347.6 533.8L350.3 529.4L352.7 524.5L354.7 519.3L356.3 513.6L357.4 507.6L358.2 501.4L358.6 494.9L358.5 488.2L358.0 481.4L357.1 474.5L355.7 467.6L354.0 460.7L351.9 453.9L349.4 447.1L346.6 440.6L343.4 434.3L339.9 428.3L336.2 422.6L332.1 417.3L327.9 412.3L323.5 407.9L318.9 403.8L314.2 400.3L309.4 397.4L304.6 395.0L299.7 393.1L294.9 391.9L290.1 391.2L285.5 391.2L280.9 391.7L276.6 392.9" fill="none" stroke="#000" stroke-width="1.5" />
<path d="M351.2 540.7L355.2 538.8L359.0 536.3L362.5 533.3L365.8 529.8L368.7 525.8L371.3 521.4L373.5 516.5L375.4 511.3L376.9 505.7L377.9 499.8L378.6 493.6L378.9 487.2L378.8 480.6L378.3 474.0L377.4 467.2L376.0 460.4L374.3 453.6L372.3 446.9L369.8 440.3L367.0 433.9L363.9 427.8L360.5 421.8L356.9 416.2L353.0 410.9L348.8 406.0L344.5 401.6L340.0 397.6L335.5 394.0L330.8 391.0L326.0 388.5L321.3 386.6L316.5 385.2L311.8 384.4L307.2 384.2L302.7 384.5L298.4 385.5" fill="none" stroke="#000" stroke-width="1.25" />
<path d="M356.1 539.0L360.1 537.1L363.9 534.6L367.4 531.7L370.6 528.2L373.6 524.2L376.1 519.7L378.4 514.9L380.2 509.6L381.7 504.0L382.8 498.1L383.5 491.9L383.8 485.5L383.7 479.0L383.2 472.3L382.2 465.5L380.9 458.7L379.2 452.0L377.1 445.3L374.7 438.7L371.9 432.3L368.8 426.1L365.4 420.2L361.8 414.5L357.8 409.3L353.7 404.4L349.4 399.9L344.9 395.9L340.3 392.4L335.7 389.4L330.9 386.9L326.2 384.9L321.4 383.5L316.7 382.7L312.1 382.5L307.6 382.9L303.3 383.8" fill="none" stroke="#000" stroke-width="1.25" />
<path d="M363.4 536.5L367.5 534.6L371.2 532.1L374.7 529.2L378.0 525.7L380.9 521.7L383.5 517.2L385.7 512.4L387.6 507.1L389.1 501.5L390.2 495.6L390.9 489.4L391.1 483.1L391.0 476.5L390.5 469.8L389.6 463.0L388.3 456.2L386.5 449.5L384.5 442.8L382.0 436.2L379.3 429.8L376.2 423.6L372.8 417.7L369.1 412.0L365.2 406.8L361.0 401.9L356.7 397.4L352.3 393.4L347.7 389.9L343.0 386.9L338.2 384.4L333.5 382.4L328.7 381.1L324.1 380.2L319.4 380.0L315.0 380.4L310.6 381.3" fill="none" stroke="#000" stroke-width="1.25" />
<path d="M355.4 538.6L358.6 536.6L361.6 534.2L364.4 531.4L367.0 528.3L369.3 524.8L371.4 521.0L383.7 516.9L381.5 520.7L379.2 524.1L376.6 527.3L373.8 530.0L370.8 532.4L367.7 534.5Z" fill="#000" stroke="#000" stroke-width="1.0" />
<g clip-path="url(#c14)"><path d="M327.5 542.4L331.6 540.7L335.4 538.4L339.0 535.5L342.2 532.0L345.1 528.0L347.7 523.5L349.9 518.6L351.6 513.3L353.0 507.6L353.9 501.5L354.4 495.3L354.5 488.8L354.1 482.1L353.3 475.3L352.1 468.6L350.4 461.8L348.3 455.1L345.9 448.5L343.1 442.1L339.9 436.0L336.4 430.1L332.7 424.6L328.6 419.5L324.4 414.8L320.0 410.6L315.4 406.9L310.8 403.8L306.0 401.2L301.3 399.2L296.5 397.8L291.8 397.1L287.3 396.9L282.8 397.4L278.5 398.6L274.4 400.3L270.6 402.6L267.0 405.5L263.8 409.0L260.9 413.0L258.3 417.5L256.1 422.4L254.4 427.7L253.0 433.4L252.1 439.5L251.6 445.7L251.5 452.2L251.9 458.9L252.7 465.7L253.9 472.4L255.6 479.2L257.7 485.9L260.1 492.5L262.9 498.9L266.1 505.0L269.6 510.9L273.3 516.4L277.4 521.5L281.6 526.2L286.0 530.4L290.6 534.1L295.2 537.2L300.0 539.8L304.7 541.8L309.5 543.2L314.2 543.9L318.7 544.1L323.2 543.6L327.5 542.4Z" fill="#fff"/><path d="M276.7 399.3L317.4 385.4M273.1 401.0L313.8 387.2M269.7 403.3L310.4 389.4M266.6 405.9L307.3 392.1M263.7 409.1L304.4 395.2M261.1 412.6L301.8 398.8M258.8 416.6L299.5 402.7M256.7 420.9L297.4 407.1M255.0 425.6L295.7 411.7M253.6 430.5L294.3 416.7M252.6 435.8L293.3 421.9M251.9 441.3L292.6 427.4M251.5 446.9L292.2 433.1M251.5 452.8L292.2 438.9M251.9 458.7L292.6 444.9M252.6 464.8L293.3 450.9M253.6 470.8L294.3 457.0M255.0 476.9L295.7 463.1M256.7 482.9L297.4 469.1M258.7 488.9L299.4 475.0M261.1 494.7L301.8 480.9M263.7 500.4L304.4 486.5M266.5 505.8L307.3 492.0M269.7 511.0L310.4 497.2M273.0 516.0L313.7 502.1M276.6 520.6L317.3 506.7M280.3 524.9L321.0 511.0M284.2 528.8L324.9 514.9M288.3 532.3L329.0 518.4M292.4 535.4L333.1 521.5M296.6 538.0L337.3 524.2M300.8 540.2L341.5 526.3M305.1 541.9L345.8 528.1M309.3 543.1L350.0 529.3M313.5 543.9L354.2 530.0M317.7 544.1L358.4 530.2M321.7 543.8L362.4 529.9M325.6 543.0L366.3 529.2" stroke="#000" stroke-width="2.6"/><path d="M368.2 528.6L368.0 524.4L369.4 523.8L371.9 527.1L375.3 525.1L374.6 520.8L375.8 519.9L378.6 522.6L381.6 519.7L380.4 515.5L381.4 514.2L384.3 516.3L386.8 512.6L385.2 508.5L386.0 506.9L389.0 508.4L390.9 503.9L388.9 500.1L389.5 498.3L392.4 499.1L393.6 494.0L391.3 490.6L391.6 488.5L394.5 488.7L395.0 483.1L392.4 480.1L392.5 477.9L395.2 477.3L395.1 471.4L392.2 468.9L392.0 466.7L394.5 465.4L393.7 459.3L390.7 457.5L390.3 455.2L392.4 453.3L390.9 447.2L387.9 446.0L387.2 443.7L389.0 441.2L386.9 435.3L383.9 434.8L383.0 432.6L384.4 429.6L381.6 424.0L378.8 424.2L377.7 422.2L378.6 418.7L375.4 413.6L372.7 414.5L371.4 412.7L371.9 408.8L368.3 404.4L365.9 405.9L364.4 404.4L364.4 400.3L360.5 396.6L358.4 398.7L356.9 397.5L356.4 393.3L352.2 390.4L350.6 393.1L349.0 392.2L348.0 388.0L343.7 386.0L342.5 389.3L340.9 388.7L339.5 384.6L335.3 383.6L334.5 387.2L332.9 387.1L331.1 383.1L327.0 383.1L326.7 387.1L325.2 387.3L323.0 383.7L319.2 384.7L319.4 388.9L318.1 389.4L315.6 386.2L312.1 388.2L312.8 392.5L311.6 393.4L308.8 390.7L305.8 393.6L307.0 397.8L306.0 399.1L303.1 397.0L300.6 400.7L302.2 404.8L301.4 406.4L298.4 404.9L296.5 409.3L298.5 413.2L298.0 415.0L295.0 414.2L293.8 419.3L296.1 422.7L295.8 424.8L292.9 424.6L292.4 430.2L295.0 433.2L294.9 435.4L292.2 436.0L292.4 441.9L295.2 444.3L295.4 446.6L292.9 447.9L293.8 453.9L296.7 455.8L297.2 458.1L295.0 460.0L296.5 466.1L299.5 467.3L300.2 469.6L298.4 472.1L300.6 478.0L303.5 478.5L304.4 480.7L303.0 483.7L305.8 489.3L308.6 489.1L309.7 491.1L308.8 494.6L312.0 499.7L314.7 498.8L316.0 500.6L315.5 504.5L319.2 508.9L321.5 507.4L323.0 508.9L323.0 513.0L326.9 516.7L329.0 514.5L330.5 515.8L331.0 520.0L335.2 522.9L336.8 520.1L338.4 521.1L339.4 525.3L343.7 527.3L344.9 524.0L346.5 524.6L347.9 528.7L352.2 529.7L352.9 526.0L354.5 526.2L356.3 530.2L360.4 530.1L360.7 526.2L362.2 526.0L364.4 529.6L368.2 528.6Z" fill="#fff" stroke="#000" stroke-width="1.4"/></g>
<path d="M327.5 542.4L331.6 540.7L335.4 538.4L339.0 535.5L342.2 532.0L345.1 528.0L347.7 523.5L349.9 518.6L351.6 513.3L353.0 507.6L353.9 501.5L354.4 495.3L354.5 488.8L354.1 482.1L353.3 475.3L352.1 468.6L350.4 461.8L348.3 455.1L345.9 448.5L343.1 442.1L339.9 436.0L336.4 430.1L332.7 424.6L328.6 419.5L324.4 414.8L320.0 410.6L315.4 406.9L310.8 403.8L306.0 401.2L301.3 399.2L296.5 397.8L291.8 397.1L287.3 396.9L282.8 397.4L278.5 398.6L274.4 400.3L270.6 402.6L267.0 405.5L263.8 409.0L260.9 413.0L258.3 417.5L256.1 422.4L254.4 427.7L253.0 433.4L252.1 439.5L251.6 445.7L251.5 452.2L251.9 458.9L252.7 465.7L253.9 472.4L255.6 479.2L257.7 485.9L260.1 492.5L262.9 498.9L266.1 505.0L269.6 510.9L273.3 516.4L277.4 521.5L281.6 526.2L286.0 530.4L290.6 534.1L295.2 537.2L300.0 539.8L304.7 541.8L309.5 543.2L314.2 543.9L318.7 544.1L323.2 543.6L327.5 542.4ZM327.5 542.4L327.3 538.3L328.6 537.7L331.2 540.9L334.6 538.9L333.9 534.7L335.1 533.7L337.9 536.5L340.9 533.5L339.7 529.3L340.7 528.0L343.6 530.2L346.1 526.4L344.5 522.3L345.3 520.8L348.3 522.3L350.2 517.8L348.2 514.0L348.7 512.1L351.7 513.0L352.9 507.9L350.6 504.4L350.9 502.4L353.8 502.5L354.3 496.9L351.7 493.9L351.8 491.7L354.5 491.2L354.3 485.3L351.5 482.8L351.3 480.5L353.8 479.3L353.0 473.2L350.0 471.3L349.6 469.0L351.7 467.1L350.2 461.1L347.2 459.8L346.5 457.6L348.3 455.1L346.1 449.2L343.2 448.7L342.3 446.5L343.7 443.4L340.9 437.9L338.1 438.1L337.0 436.0L337.9 432.5L334.7 427.5L332.0 428.3L330.7 426.5L331.2 422.7L327.5 418.2L325.2 419.8L323.7 418.2L323.7 414.1L319.8 410.4L317.7 412.6L316.2 411.4L315.7 407.1L311.5 404.2L309.9 407.0L308.3 406.1L307.3 401.8L303.0 399.9L301.8 403.1L300.2 402.6L298.8 398.4L294.6 397.4L293.8 401.1L292.2 400.9L290.4 397.0L286.3 397.0L286.0 401.0L284.5 401.2L282.3 397.5L278.5 398.6L278.7 402.7L277.4 403.3L274.8 400.1L271.4 402.1L272.1 406.3L270.9 407.3L268.1 404.5L265.1 407.5L266.3 411.7L265.3 413.0L262.4 410.8L259.9 414.6L261.5 418.7L260.7 420.2L257.7 418.7L255.8 423.2L257.8 427.0L257.3 428.9L254.3 428.0L253.1 433.1L255.4 436.6L255.1 438.6L252.2 438.5L251.7 444.1L254.3 447.1L254.2 449.3L251.5 449.8L251.7 455.7L254.5 458.2L254.7 460.5L252.2 461.7L253.0 467.8L256.0 469.7L256.4 472.0L254.3 473.9L255.8 479.9L258.8 481.2L259.5 483.4L257.7 485.9L259.9 491.8L262.8 492.3L263.7 494.5L262.3 497.6L265.1 503.1L267.9 502.9L269.0 505.0L268.1 508.5L271.3 513.5L274.0 512.7L275.3 514.5L274.8 518.3L278.5 522.8L280.8 521.2L282.3 522.8L282.3 526.9L286.2 530.6L288.3 528.4L289.8 529.6L290.3 533.9L294.5 536.8L296.1 534.0L297.7 534.9L298.7 539.2L303.0 541.1L304.2 537.9L305.8 538.4L307.2 542.6L311.4 543.6L312.2 539.9L313.8 540.1L315.6 544.0L319.7 544.0L320.0 540.0L321.5 539.8L323.7 543.5L327.5 542.4Z" fill="#fff" stroke="none" fill-rule="evenodd"/>
<path d="M327.5 542.4L327.3 538.3L328.6 537.7L331.2 540.9L334.6 538.9L333.9 534.7L335.1 533.7L337.9 536.5L340.9 533.5L339.7 529.3L340.7 528.0L343.6 530.2L346.1 526.4L344.5 522.3L345.3 520.8L348.3 522.3L350.2 517.8L348.2 514.0L348.7 512.1L351.7 513.0L352.9 507.9L350.6 504.4L350.9 502.4L353.8 502.5L354.3 496.9L351.7 493.9L351.8 491.7L354.5 491.2L354.3 485.3L351.5 482.8L351.3 480.5L353.8 479.3L353.0 473.2L350.0 471.3L349.6 469.0L351.7 467.1L350.2 461.1L347.2 459.8L346.5 457.6L348.3 455.1L346.1 449.2L343.2 448.7L342.3 446.5L343.7 443.4L340.9 437.9L338.1 438.1L337.0 436.0L337.9 432.5L334.7 427.5L332.0 428.3L330.7 426.5L331.2 422.7L327.5 418.2L325.2 419.8L323.7 418.2L323.7 414.1L319.8 410.4L317.7 412.6L316.2 411.4L315.7 407.1L311.5 404.2L309.9 407.0L308.3 406.1L307.3 401.8L303.0 399.9L301.8 403.1L300.2 402.6L298.8 398.4L294.6 397.4L293.8 401.1L292.2 400.9L290.4 397.0L286.3 397.0L286.0 401.0L284.5 401.2L282.3 397.5L278.5 398.6L278.7 402.7L277.4 403.3L274.8 400.1L271.4 402.1L272.1 406.3L270.9 407.3L268.1 404.5L265.1 407.5L266.3 411.7L265.3 413.0L262.4 410.8L259.9 414.6L261.5 418.7L260.7 420.2L257.7 418.7L255.8 423.2L257.8 427.0L257.3 428.9L254.3 428.0L253.1 433.1L255.4 436.6L255.1 438.6L252.2 438.5L251.7 444.1L254.3 447.1L254.2 449.3L251.5 449.8L251.7 455.7L254.5 458.2L254.7 460.5L252.2 461.7L253.0 467.8L256.0 469.7L256.4 472.0L254.3 473.9L255.8 479.9L258.8 481.2L259.5 483.4L257.7 485.9L259.9 491.8L262.8 492.3L263.7 494.5L262.3 497.6L265.1 503.1L267.9 502.9L269.0 505.0L268.1 508.5L271.3 513.5L274.0 512.7L275.3 514.5L274.8 518.3L278.5 522.8L280.8 521.2L282.3 522.8L282.3 526.9L286.2 530.6L288.3 528.4L289.8 529.6L290.3 533.9L294.5 536.8L296.1 534.0L297.7 534.9L298.7 539.2L303.0 541.1L304.2 537.9L305.8 538.4L307.2 542.6L311.4 543.6L312.2 539.9L313.8 540.1L315.6 544.0L319.7 544.0L320.0 540.0L321.5 539.8L323.7 543.5L327.5 542.4Z" fill="none" stroke="#000" stroke-width="1.88" />
<ellipse cx="303.0" cy="470.5" rx="47.9" ry="76.0" transform="rotate(-18.8 303.0 470.5)" fill="none" stroke="#000" stroke-width="1.25" />
<path d="M297.0 474.0L345.0 456.0" stroke="#000" stroke-width="1.4"/>
<path d="M181.9 449.5L177.8 451.4L174.0 454.0L170.6 457.4L167.7 461.5L165.3 466.2L163.3 471.5L161.9 477.3L161.1 483.5L160.9 490.0L161.3 496.8L162.2 503.6L163.7 510.5L165.7 517.3L168.3 524.0L171.3 530.4L174.7 536.4L178.6 541.9L182.7 546.9L187.2 551.4L191.8 555.1L196.6 558.1L201.4 560.4L206.2 561.8L210.9 562.5L215.5 562.2L219.9 561.2L238.8 554.8L242.9 552.9L246.7 550.3L250.1 546.9L253.0 542.8L255.5 538.1L257.4 532.8L258.8 527.0L259.6 520.8L259.8 514.3L259.5 507.5L258.5 500.6L257.0 493.8L255.0 486.9L252.5 480.3L249.4 473.9L246.0 467.9L242.1 462.3L238.0 457.3L233.6 452.9L228.9 449.2L224.2 446.1L219.3 443.9L214.5 442.4L209.8 441.8L205.2 442.0L200.8 443.1Z" fill="#fff" stroke="#000" stroke-width="1.62" />
<path d="M217.8 549.2L221.2 547.2L224.2 544.5L226.8 541.1L229.0 537.1L230.7 532.6L231.9 527.6L246.4 538.7L245.0 544.5L248.2 549.8L247.4 552.1L243.1 550.0L240.7 554.9L243.3 560.7L242.1 562.6L237.9 559.3L234.8 563.1L236.6 569.3L235.0 570.7L231.2 566.3L227.3 568.9L228.3 575.0Z" fill="#fff" stroke="none" />
<path d="M228.3 575.0L227.3 568.9L231.2 566.3L235.0 570.7L236.6 569.3L234.8 563.1L237.9 559.3L242.1 562.6L243.3 560.7L240.7 554.9L243.1 550.0L247.4 552.1L248.2 549.8L245.0 544.5L246.4 538.7L265.3 532.2L263.9 538.1L267.2 543.3L266.3 545.7L262.0 543.5L259.7 548.5L262.3 554.3L261.1 556.2L256.9 552.9L253.7 556.7L255.5 562.8L254.0 564.2L250.1 559.9L246.2 562.4L247.2 568.6Z" fill="#fff" stroke="none" />
<path d="M247.2 568.6L246.2 562.4L250.1 559.9L254.0 564.2L255.5 562.8L253.7 556.7L256.9 552.9L261.1 556.2L262.3 554.3L259.7 548.5L262.0 543.5L266.3 545.7L267.2 543.3L263.9 538.1L265.3 532.2" fill="none" stroke="#000" stroke-width="1.88" />
<path d="M235.0 570.7L254.0 564.2M236.6 569.3L255.5 562.8M242.1 562.6L261.1 556.2M243.3 560.7L262.3 554.3M247.4 552.1L266.3 545.7M248.2 549.8L267.2 543.3" fill="none" stroke="#000" stroke-width="1.38" />
<path d="M236.6 569.3L255.5 562.8L253.5 556.9L234.6 563.4ZM243.3 560.7L262.3 554.3L259.5 548.8L240.6 555.2ZM248.2 549.8L267.2 543.3L263.8 538.4L244.9 544.9Z" fill="#000" stroke="#000" stroke-width="1.12" />
<path d="M228.3 575.0L227.3 568.9L231.2 566.3L235.0 570.7L236.6 569.3L234.8 563.1L237.9 559.3L242.1 562.6L243.3 560.7L240.7 554.9L243.1 550.0L247.4 552.1L248.2 549.8L245.0 544.5L246.4 538.7" fill="none" stroke="#000" stroke-width="2.12" />
<path d="M217.8 549.2L227.8 575.3L246.8 568.8" fill="none" stroke="#000" stroke-width="1.62" />
<path d="M231.9 527.6L250.4 540.9L269.4 534.4" fill="none" stroke="#000" stroke-width="1.62" />
<path d="M232.7 519.8L232.7 514.7L232.2 509.6L231.3 504.3L230.0 499.1L228.3 494.0L226.2 489.0L241.9 480.6L239.5 484.6L242.0 491.3L246.4 492.4L247.3 495.4L244.1 498.3L245.8 505.2L250.1 507.5L250.6 510.5L246.9 512.2L247.5 519.1L251.7 522.5L251.7 525.5L247.6 525.9Z" fill="#fff" stroke="none" />
<path d="M247.6 525.9L251.7 525.5L251.7 522.5L247.5 519.1L246.9 512.2L250.6 510.5L250.1 507.5L245.8 505.2L244.1 498.3L247.3 495.4L246.4 492.4L242.0 491.3L239.5 484.6L241.9 480.6L260.9 474.2L258.4 478.2L261.0 484.9L265.3 485.9L266.2 488.9L263.1 491.8L264.7 498.8L269.0 501.1L269.5 504.1L265.8 505.8L266.5 512.7L270.6 516.1L270.7 519.0L266.6 519.4Z" fill="#fff" stroke="none" />
<path d="M266.6 519.4L270.7 519.0L270.6 516.1L266.5 512.7L265.8 505.8L269.5 504.1L269.0 501.1L264.7 498.8L263.1 491.8L266.2 488.9L265.3 485.9L261.0 484.9L258.4 478.2L260.9 474.2" fill="none" stroke="#000" stroke-width="1.88" />
<path d="M251.7 525.5L270.7 519.0M251.7 522.5L270.6 516.1M250.6 510.5L269.5 504.1M250.1 507.5L269.0 501.1M247.3 495.4L266.2 488.9M246.4 492.4L265.3 485.9" fill="none" stroke="#000" stroke-width="1.38" />
<path d="M251.7 522.5L270.6 516.1L266.5 513.1L247.6 519.5ZM250.1 507.5L269.0 501.1L264.8 499.2L245.9 505.7ZM246.4 492.4L265.3 485.9L261.1 485.3L242.2 491.8Z" fill="#000" stroke="#000" stroke-width="1.12" />
<path d="M247.6 525.9L251.7 525.5L251.7 522.5L247.5 519.1L246.9 512.2L250.6 510.5L250.1 507.5L245.8 505.2L244.1 498.3L247.3 495.4L246.4 492.4L242.0 491.3L239.5 484.6L241.9 480.6" fill="none" stroke="#000" stroke-width="2.12" />
<path d="M232.7 519.8L251.7 528.4L270.6 521.9" fill="none" stroke="#000" stroke-width="1.62" />
<path d="M226.2 489.0L241.3 479.2L260.2 472.8" fill="none" stroke="#000" stroke-width="1.62" />
<path d="M222.1 481.3L217.9 475.2L213.1 469.9L208.1 465.7L202.8 462.5L197.5 460.6L192.2 459.9L192.5 438.9L193.3 433.4L195.4 433.9L197.3 440.0L202.2 441.8L203.9 437.0L206.0 438.1L207.1 444.3L211.9 447.4L214.4 443.6L216.4 445.2L216.6 451.2L221.1 455.6L224.3 452.9L226.2 455.0L225.4 460.6L229.4 466.0L233.2 464.4L234.8 467.0Z" fill="#fff" stroke="none" />
<path d="M234.8 467.0L233.2 464.4L229.4 466.0L225.4 460.6L226.2 455.0L224.3 452.9L221.1 455.6L216.6 451.2L216.4 445.2L214.4 443.6L211.9 447.4L207.1 444.3L206.0 438.1L203.9 437.0L202.2 441.8L197.3 440.0L195.4 433.9L193.3 433.4L192.5 438.9L211.4 432.5L212.2 427.0L214.3 427.4L216.2 433.5L221.1 435.3L222.9 430.5L225.0 431.6L226.0 437.8L230.8 441.0L233.3 437.1L235.4 438.8L235.5 444.8L240.0 449.2L243.2 446.4L245.1 448.6L244.3 454.1L248.4 459.5L252.1 458.0L253.7 460.5Z" fill="#fff" stroke="none" />
<path d="M253.7 460.5L252.1 458.0L248.4 459.5L244.3 454.1L245.1 448.6L243.2 446.4L240.0 449.2L235.5 444.8L235.4 438.8L233.3 437.1L230.8 441.0L226.0 437.8L225.0 431.6L222.9 430.5L221.1 435.3L216.2 433.5L214.3 427.4L212.2 427.0L211.4 432.5" fill="none" stroke="#000" stroke-width="1.88" />
<path d="M234.8 467.0L253.7 460.5M233.2 464.4L252.1 458.0M226.2 455.0L245.1 448.6M224.3 452.9L243.2 446.4M216.4 445.2L235.4 438.8M214.4 443.6L233.3 437.1M206.0 438.1L225.0 431.6M203.9 437.0L222.9 430.5M195.4 433.9L214.3 427.4M193.3 433.4L212.2 427.0" fill="none" stroke="#000" stroke-width="1.38" />
<path d="M233.2 464.4L252.1 458.0L248.6 459.9L229.7 466.3ZM224.3 452.9L243.2 446.4L240.3 449.5L221.4 455.9ZM214.4 443.6L233.3 437.1L231.1 441.2L212.2 447.7ZM203.9 437.0L222.9 430.5L221.4 435.5L202.5 441.9ZM193.3 433.4L212.2 427.0L211.7 432.5L192.8 438.9Z" fill="#000" stroke="#000" stroke-width="1.12" />
<path d="M234.8 467.0L233.2 464.4L229.4 466.0L225.4 460.6L226.2 455.0L224.3 452.9L221.1 455.6L216.6 451.2L216.4 445.2L214.4 443.6L211.9 447.4L207.1 444.3L206.0 438.1L203.9 437.0L202.2 441.8L197.3 440.0L195.4 433.9L193.3 433.4L192.5 438.9" fill="none" stroke="#000" stroke-width="2.12" />
<path d="M222.1 481.3L234.8 467.0L253.7 460.5" fill="none" stroke="#000" stroke-width="1.62" />
<path d="M192.2 459.9L187.1 432.7L206.0 426.3" fill="none" stroke="#000" stroke-width="1.62" />
<path d="M187.8 460.3L184.0 462.5L180.7 465.7L177.9 469.7L175.7 474.4L174.1 479.8L173.1 485.6L158.3 477.0L154.5 472.6L154.9 469.9L159.2 470.8L160.6 464.9L157.3 459.7L158.2 457.3L162.5 459.5L164.8 454.5L162.2 448.7L163.5 446.8L167.6 450.1L170.8 446.3L169.0 440.1L170.5 438.7L174.4 443.1L178.3 440.6L177.3 434.4Z" fill="#fff" stroke="#000" stroke-width="2.12" />
<path d="M178.8 444.8L174.6 447.9L170.9 451.8L167.6 456.5L165.0 461.9L162.9 468.0L161.5 474.6L165.5 477.3L166.8 471.3L168.7 465.8L171.1 460.9L174.0 456.6L177.4 453.1L181.2 450.3Z" fill="#000" stroke="#000" stroke-width="1.0" />
<path d="M173.3 499.4L174.3 505.1L175.8 510.8L177.7 516.4L180.0 521.8L182.7 526.9L185.8 531.6L176.1 543.4L172.4 545.0L170.8 542.4L172.4 537.6L169.1 531.3L164.9 531.6L163.6 528.8L166.1 524.8L163.5 518.1L159.2 517.1L158.3 514.1L161.4 511.2L159.8 504.2L155.5 501.9L155.0 498.9L158.7 497.2Z" fill="#fff" stroke="#000" stroke-width="2.12" />
<path d="M162.0 502.0L163.3 508.4L165.1 514.8L167.3 521.1L169.9 527.2L172.8 533.1L176.1 538.6L178.7 535.4L175.8 530.4L173.1 525.1L170.8 519.5L168.8 513.8L167.2 508.0L165.9 502.2Z" fill="#000" stroke="#000" stroke-width="1.0" />
<path d="M192.7 539.8L196.9 543.3L201.1 546.0L205.5 548.0L209.8 549.2L214.0 549.6L218.0 549.1L222.5 570.5L222.6 576.5L220.5 576.6L217.9 570.9L213.1 570.5L212.3 576.0L210.2 575.6L208.3 569.4L203.4 567.6L201.7 572.4L199.5 571.3L198.5 565.1L193.7 562.0L191.2 565.8L189.1 564.2L189.0 558.2Z" fill="#fff" stroke="#000" stroke-width="2.12" />
<path d="M191.1 556.1L195.9 559.7L200.8 562.7L205.7 564.9L210.7 566.3L215.6 567.0L220.3 566.8L218.9 561.0L214.6 561.2L210.1 560.6L205.6 559.3L201.1 557.3L196.7 554.6L192.3 551.3Z" fill="#000" stroke="#000" stroke-width="1.0" />
<path d="M183.9 461.5L179.8 463.4L176.3 466.3L173.2 470.1L170.7 474.6L168.8 479.9L167.6 485.7L167.2 492.0L167.4 498.6L168.3 505.4L169.9 512.2L172.2 518.8L175.0 525.2L178.4 531.1L182.3 536.5L186.5 541.2L191.0 545.1L195.7 548.1L200.5 550.2L205.2 551.3L209.8 551.4L214.1 550.5L219.8 548.6L223.8 546.6L227.4 543.8L230.5 540.0L233.0 535.5L234.8 530.2L236.0 524.3L236.5 518.0L236.3 511.4L235.4 504.7L233.8 497.9L231.5 491.2L228.6 484.9L225.2 478.9L221.4 473.6L217.2 468.9L212.6 465.0L208.0 461.9L203.2 459.8L198.5 458.7L193.9 458.6L189.5 459.6ZM209.6 537.2L213.6 535.1L216.9 531.5L219.4 526.8L220.9 521.1L221.4 514.7L220.8 507.9L219.2 501.0L216.7 494.3L213.3 488.2L209.3 482.9L204.8 478.7L200.0 475.8L195.2 474.3L190.6 474.2L186.3 475.7L182.6 478.5L179.7 482.7L177.7 487.9L176.7 494.0L176.8 500.7L177.9 507.6L179.9 514.4L182.9 520.8L186.6 526.6L190.9 531.3L195.6 534.9L200.4 537.2L205.2 537.9L209.6 537.2Z" fill="#fff" stroke="none" fill-rule="evenodd"/>
<path d="M183.9 461.5L179.8 463.4L176.3 466.3L173.2 470.1L170.7 474.6L168.8 479.9L167.6 485.7L167.2 492.0L167.4 498.6L168.3 505.4L169.9 512.2L172.2 518.8L175.0 525.2L178.4 531.1L182.3 536.5L186.5 541.2L191.0 545.1L195.7 548.1L200.5 550.2L205.2 551.3L209.8 551.4L214.1 550.5L219.8 548.6L223.8 546.6L227.4 543.8L230.5 540.0L233.0 535.5L234.8 530.2L236.0 524.3L236.5 518.0L236.3 511.4L235.4 504.7L233.8 497.9L231.5 491.2L228.6 484.9L225.2 478.9L221.4 473.6L217.2 468.9L212.6 465.0L208.0 461.9L203.2 459.8L198.5 458.7L193.9 458.6L189.5 459.6Z" fill="none" stroke="#000" stroke-width="2.12" />
<path d="M214.1 550.5L218.2 548.6L221.7 545.7L224.8 541.9L227.3 537.4L229.2 532.1L230.4 526.3L230.8 520.0L230.6 513.4L229.7 506.6L228.1 499.8L225.8 493.2L223.0 486.8L219.6 480.9L215.7 475.5L211.5 470.8L207.0 466.9L202.3 463.9L197.5 461.8L192.8 460.7L188.2 460.6L183.9 461.5" fill="none" stroke="#000" stroke-width="1.38" />
<g clip-path="url(#c15)"><path d="M209.6 537.2L213.6 535.1L216.9 531.5L219.4 526.8L220.9 521.1L221.4 514.7L220.8 507.9L219.2 501.0L216.7 494.3L213.3 488.2L209.3 482.9L204.8 478.7L200.0 475.8L195.2 474.3L190.6 474.2L186.3 475.7L182.6 478.5L179.7 482.7L177.7 487.9L176.7 494.0L176.8 500.7L177.9 507.6L179.9 514.4L182.9 520.8L186.6 526.6L190.9 531.3L195.6 534.9L200.4 537.2L205.2 537.9L209.6 537.2Z" fill="#fff"/><path d="M187.4 475.1L206.3 468.7M185.5 476.1L204.5 469.7M183.8 477.4L202.7 471.0M182.2 479.0L201.1 472.6M180.8 480.9L199.7 474.4M179.6 483.0L198.5 476.6M178.5 485.4L197.5 478.9M177.7 488.0L196.7 481.5M177.1 490.7L196.1 484.3M176.8 493.6L195.7 487.2M176.6 496.7L195.6 490.2M176.7 499.8L195.7 493.4M177.0 503.0L196.0 496.6M177.6 506.3L196.5 499.8M178.3 509.5L197.3 503.1M179.3 512.7L198.3 506.3M180.5 515.8L199.4 509.4M181.9 518.9L200.8 512.4M183.4 521.7L202.3 515.3M185.1 524.5L204.0 518.0M187.0 527.0L205.9 520.6M188.9 529.4L207.9 522.9M191.0 531.4L209.9 525.0M193.2 533.3L212.1 526.8M195.4 534.8L214.3 528.4M197.6 536.1L216.6 529.6M199.9 537.0L218.8 530.6M202.1 537.6L221.1 531.2M204.4 537.9L223.3 531.5M206.5 537.9L225.5 531.4" stroke="#000" stroke-width="1.7"/><path d="M228.6 530.8L227.8 525.7L228.9 525.2L231.8 529.2L234.7 526.6L232.8 521.7L233.6 520.6L237.0 523.3L238.7 519.2L235.9 515.1L236.3 513.5L239.8 514.5L240.3 509.4L236.9 506.5L236.8 504.7L240.1 503.9L239.2 498.4L235.6 497.1L235.1 495.3L237.6 492.9L235.5 487.5L232.2 488.1L231.3 486.4L232.8 482.6L229.7 478.1L227.0 480.4L225.8 479.1L226.2 474.3L222.4 471.3L220.8 475.0L219.5 474.2L218.6 469.2L214.7 467.9L214.2 472.5L212.9 472.4L210.9 467.6L207.3 468.3L208.0 473.4L206.9 473.9L204.0 470.0L201.2 472.5L203.1 477.4L202.3 478.5L198.9 475.9L197.1 479.9L199.9 484.0L199.6 485.6L196.0 484.6L195.6 489.7L199.0 492.6L199.0 494.4L195.8 495.2L196.7 500.7L200.3 502.0L200.8 503.8L198.3 506.3L200.4 511.6L203.7 511.1L204.6 512.7L203.1 516.5L206.2 521.0L208.8 518.8L210.0 520.0L209.7 524.8L213.4 527.8L215.1 524.1L216.4 524.9L217.3 530.0L221.2 531.2L221.7 526.6L223.0 526.7L225.0 531.5L228.6 530.8Z" fill="#fff" stroke="#000" stroke-width="1.4"/></g>
<path d="M209.6 537.2L213.6 535.1L216.9 531.5L219.4 526.8L220.9 521.1L221.4 514.7L220.8 507.9L219.2 501.0L216.7 494.3L213.3 488.2L209.3 482.9L204.8 478.7L200.0 475.8L195.2 474.3L190.6 474.2L186.3 475.7L182.6 478.5L179.7 482.7L177.7 487.9L176.7 494.0L176.8 500.7L177.9 507.6L179.9 514.4L182.9 520.8L186.6 526.6L190.9 531.3L195.6 534.9L200.4 537.2L205.2 537.9L209.6 537.2ZM209.6 537.2L208.9 532.2L210.0 531.6L212.9 535.6L215.7 533.1L213.8 528.2L214.6 527.0L218.1 529.7L219.8 525.6L217.0 521.5L217.4 519.9L220.9 520.9L221.4 515.8L218.0 513.0L217.9 511.1L221.1 510.4L220.2 504.8L216.7 503.6L216.1 501.7L218.7 499.3L216.5 494.0L213.2 494.5L212.3 492.8L213.9 489.0L210.7 484.6L208.1 486.8L206.9 485.5L207.2 480.8L203.5 477.8L201.8 481.4L200.5 480.7L199.6 475.6L195.7 474.4L195.3 479.0L194.0 478.9L191.9 474.1L188.4 474.8L189.1 479.8L188.0 480.4L185.1 476.4L182.3 478.9L184.2 483.8L183.4 485.0L179.9 482.3L178.2 486.4L181.0 490.5L180.6 492.1L177.1 491.1L176.6 496.2L180.0 499.0L180.1 500.9L176.9 501.6L177.8 507.2L181.3 508.4L181.9 510.3L179.3 512.7L181.5 518.0L184.8 517.5L185.7 519.2L184.1 523.0L187.3 527.4L189.9 525.2L191.1 526.5L190.8 531.2L194.5 534.2L196.2 530.6L197.5 531.3L198.4 536.4L202.3 537.6L202.7 533.0L204.0 533.1L206.1 537.9L209.6 537.2Z" fill="#fff" stroke="none" fill-rule="evenodd"/>
<path d="M209.6 537.2L208.9 532.2L210.0 531.6L212.9 535.6L215.7 533.1L213.8 528.2L214.6 527.0L218.1 529.7L219.8 525.6L217.0 521.5L217.4 519.9L220.9 520.9L221.4 515.8L218.0 513.0L217.9 511.1L221.1 510.4L220.2 504.8L216.7 503.6L216.1 501.7L218.7 499.3L216.5 494.0L213.2 494.5L212.3 492.8L213.9 489.0L210.7 484.6L208.1 486.8L206.9 485.5L207.2 480.8L203.5 477.8L201.8 481.4L200.5 480.7L199.6 475.6L195.7 474.4L195.3 479.0L194.0 478.9L191.9 474.1L188.4 474.8L189.1 479.8L188.0 480.4L185.1 476.4L182.3 478.9L184.2 483.8L183.4 485.0L179.9 482.3L178.2 486.4L181.0 490.5L180.6 492.1L177.1 491.1L176.6 496.2L180.0 499.0L180.1 500.9L176.9 501.6L177.8 507.2L181.3 508.4L181.9 510.3L179.3 512.7L181.5 518.0L184.8 517.5L185.7 519.2L184.1 523.0L187.3 527.4L189.9 525.2L191.1 526.5L190.8 531.2L194.5 534.2L196.2 530.6L197.5 531.3L198.4 536.4L202.3 537.6L202.7 533.0L204.0 533.1L206.1 537.9L209.6 537.2Z" fill="none" stroke="#000" stroke-width="2.0" />
<path d="M140.0 527.0L211.0 501.0" stroke="#000" stroke-width="1.4"/>
<path d="M269.0 547.0L284.0 556.0" stroke="#000" stroke-width="1.3"/>
<path d="M288.0 551.0Q282.0 555.0 285.0 563.0" fill="none" stroke="#000" stroke-width="2"/>
<path d="M292.8 553.8Q286.8 557.8 289.8 565.8" fill="none" stroke="#000" stroke-width="2"/>
<path d="M297.6 556.6Q291.6 560.6 294.6 568.6" fill="none" stroke="#000" stroke-width="2"/>
<path d="M302.4 559.4Q296.4 563.4 299.4 571.4" fill="none" stroke="#000" stroke-width="2"/>
<path d="M304.0 568.0L310.0 572.0" stroke="#000" stroke-width="1.2"/>
<circle cx="313" cy="576" r="5.5" fill="#fff" stroke="#000" stroke-width="1.8"/>
<path d="M323 585Q337 576 351 578L356 584L350 602L330 608L322 604Z" fill="#fff" stroke="#000" stroke-width="2"/><path d="M330 590L328 606M330 590L355 584" stroke="#000" stroke-width="1.4"/>
<circle cx="341" cy="592" r="3.2" fill="none" stroke="#000" stroke-width="1.5"/>
<path d="M341.0 592.0L357.0 600.0" stroke="#000" stroke-width="1.4"/>
<text x="913.8" y="359.0" font-family="Liberation Sans, sans-serif" font-weight="bold" font-size="26.5">9</text>
<path d="M909.2 340.6h3.6v18.4h-3.6v-13.6l-2.5 1.5v-3.3Z" fill="#000"/>
<text x="960.8" y="359.0" font-family="Liberation Sans, sans-serif" font-weight="bold" font-size="26.5">2</text>
<path d="M978.8 340.6h3.6v18.4h-3.6v-13.6l-2.5 1.5v-3.3Z" fill="#000"/>
<text x="627.8" y="440.0" font-family="Liberation Sans, sans-serif" font-weight="bold" font-size="26.5">6</text>
<path d="M623.2 421.6h3.6v18.4h-3.6v-13.6l-2.5 1.5v-3.3Z" fill="#000"/>
<text x="664.8" y="439.0" font-family="Liberation Sans, sans-serif" font-weight="bold" font-size="26.5">7</text>
<path d="M660.2 420.6h3.6v18.4h-3.6v-13.6l-2.5 1.5v-3.3Z" fill="#000"/>
<text x="717.3" y="437.0" font-family="Liberation Sans, sans-serif" font-weight="bold" font-size="26.5">8</text>
<path d="M712.7 418.6h3.6v18.4h-3.6v-13.6l-2.5 1.5v-3.3Z" fill="#000"/>
<text x="787.5" y="440.0" font-family="Liberation Sans, sans-serif" font-weight="bold" font-size="26.5">2</text>
<text x="802.1" y="440.0" font-family="Liberation Sans, sans-serif" font-weight="bold" font-size="26.5">0</text>
<text x="446.8" y="536.0" font-family="Liberation Sans, sans-serif" font-weight="bold" font-size="26.5">5</text>
<path d="M442.2 517.6h3.6v18.4h-3.6v-13.6l-2.5 1.5v-3.3Z" fill="#000"/>
<text x="517.8" y="534.0" font-family="Liberation Sans, sans-serif" font-weight="bold" font-size="26.5">4</text>
<path d="M513.2 515.6h3.6v18.4h-3.6v-13.6l-2.5 1.5v-3.3Z" fill="#000"/>
<path d="M280.1 615.6h3.6v18.4h-3.6v-13.6l-2.5 1.5v-3.3ZM288.1 615.6h3.6v18.4h-3.6v-13.6l-2.5 1.5v-3.3Z" fill="#000"/>
<text x="305.8" y="634.0" font-family="Liberation Sans, sans-serif" font-weight="bold" font-size="26.5">2</text>
<path d="M301.2 615.6h3.6v18.4h-3.6v-13.6l-2.5 1.5v-3.3Z" fill="#000"/>
<text x="333.3" y="634.0" font-family="Liberation Sans, sans-serif" font-weight="bold" font-size="26.5">3</text>
<path d="M328.7 615.6h3.6v18.4h-3.6v-13.6l-2.5 1.5v-3.3Z" fill="#000"/>
<text x="240.5" y="674.0" font-family="Liberation Sans, sans-serif" font-weight="bold" font-size="26.5">0</text>
<path d="M235.9 655.6h3.6v18.4h-3.6v-13.6l-2.5 1.5v-3.3Z" fill="#000"/>
<path d="M916.0 340.0L916.0 305.0" stroke="#000" stroke-width="1.4"/>
<path d="M975.0 340.0L975.0 316.0" stroke="#000" stroke-width="1.4"/>
<path d="M631.6 420.0L631.6 398.0" stroke="#000" stroke-width="1.4"/>
<path d="M669.0 419.0L669.0 385.0" stroke="#000" stroke-width="1.4"/>
<path d="M720.0 418.0L720.0 373.0" stroke="#000" stroke-width="1.4"/>
<path d="M802.8 420.0L802.8 381.0" stroke="#000" stroke-width="1.4"/>
<path d="M448.7 516.0L448.7 500.0" stroke="#000" stroke-width="1.4"/>
<path d="M519.0 514.0L519.0 469.0" stroke="#000" stroke-width="1.4"/>
<path d="M286.4 565.0L286.4 615.0" stroke="#000" stroke-width="1.4"/>
<path d="M310.5 581.0L310.5 615.0" stroke="#000" stroke-width="1.4"/>
<path d="M341.0 604.0L341.0 615.0" stroke="#000" stroke-width="1.4"/>
<path d="M286.4 635.0L286.4 642.0" stroke="#000" stroke-width="1.4"/>
<path d="M310.5 635.0L310.5 642.0" stroke="#000" stroke-width="1.4"/>
<path d="M341.0 635.0L341.0 642.0" stroke="#000" stroke-width="1.4"/>
<path d="M242.4 642.0L242.4 653.0" stroke="#000" stroke-width="1.4"/>
<path d="M200.0 579.0L200.0 642.0" stroke="#000" stroke-width="1.4"/>
<path d="M373.0 539.0L373.0 642.0" stroke="#000" stroke-width="1.4"/>
<path d="M200.0 641.7L373.5 641.7" stroke="#000" stroke-width="1.6"/>
<path d="M952.0 249.0L988.0 238.0" stroke="#000" stroke-width="1.4"/>
<path d="M1141.7 390.9L1140.1 392.1L1139.0 394.3L1138.6 397.1L1138.9 400.3L1139.9 403.6L1141.5 406.6L1143.6 409.0L1145.9 410.7L1148.2 411.4L1150.3 411.1L1183.4 397.2L1185.1 395.9L1186.2 393.7L1186.6 390.9L1186.3 387.8L1185.3 384.5L1183.7 381.5L1181.6 379.0L1179.3 377.3L1177.0 376.6L1174.9 376.9Z" fill="#fff" stroke="#000" stroke-width="2.0" />
<path d="M1150.3 411.1L1151.9 409.9L1153.0 407.7L1153.4 404.9L1153.1 401.7L1152.1 398.4L1150.5 395.4L1148.4 393.0L1146.1 391.3L1143.8 390.6L1141.7 390.9" fill="none" stroke="#000" stroke-width="2.0" />
<ellipse cx="1177.3" cy="387.8" rx="5.4" ry="9.0" transform="rotate(-22.8 1177.3 387.8)" fill="none" stroke="#000" stroke-width="1.25" />
<path d="M1124.6 387.5L1121.8 389.7L1119.9 393.4L1119.2 398.3L1119.7 403.8L1121.5 409.4L1124.3 414.6L1127.8 418.9L1131.8 421.8L1135.8 423.0L1139.4 422.5L1146.7 419.4L1149.6 417.2L1151.5 413.5L1152.2 408.6L1151.6 403.1L1149.9 397.5L1147.1 392.3L1143.5 388.0L1139.6 385.1L1135.6 383.9L1132.0 384.4Z" fill="#fff" stroke="#000" stroke-width="1.88" />
<path d="M1139.4 422.5L1142.2 420.3L1144.1 416.6L1144.8 411.7L1144.3 406.2L1142.5 400.6L1139.7 395.4L1136.2 391.1L1132.2 388.2L1128.2 387.0L1124.6 387.5" fill="none" stroke="#000" stroke-width="1.88" />
<path d="M1142.6 421.1L1145.6 418.4L1147.2 414.0L1147.5 408.5L1146.4 402.4L1143.9 396.5L1140.4 391.5L1136.2 387.8L1131.9 386.0L1127.9 386.1" fill="none" stroke="#000" stroke-width="1.5" />
<path d="M1145.4 419.9L1148.3 417.2L1150.0 412.8L1150.3 407.3L1149.1 401.3L1146.7 395.4L1143.1 390.3L1139.0 386.6L1134.7 384.8L1130.7 385.0" fill="none" stroke="#000" stroke-width="1.5" />
<path d="M1064.0 410.4L1062.2 408.0L1061.3 408.5L1062.2 411.5L1060.7 413.3L1058.6 411.7L1058.1 412.8L1059.7 415.5L1059.0 418.2L1056.9 417.8L1056.8 419.2L1058.8 421.3L1059.1 424.5L1057.4 425.3L1057.7 426.8L1059.9 427.9L1061.0 431.2L1059.9 433.0L1060.6 434.5L1062.6 434.3L1064.5 437.2L1064.1 439.8L1065.1 441.0L1066.6 439.7L1068.9 441.7L1069.4 444.7L1070.5 445.4L1071.3 443.1L1073.6 443.9L1074.9 446.9L1075.9 447.0L1075.9 444.1L1078.0 443.6L1125.9 423.4L1127.7 425.9L1128.6 425.4L1127.7 422.3L1129.2 420.6L1131.3 422.1L1131.8 421.1L1130.3 418.3L1130.9 415.6L1133.0 416.1L1133.1 414.6L1131.1 412.6L1130.8 409.3L1132.6 408.6L1132.2 407.0L1130.1 406.0L1128.9 402.7L1130.1 400.8L1129.3 399.4L1127.3 399.5L1125.5 396.6L1125.8 394.0L1124.8 392.8L1123.3 394.2L1121.0 392.2L1120.6 389.1L1119.5 388.5L1118.7 390.7L1116.3 389.9L1115.1 387.0L1114.0 386.9L1114.0 389.8L1112.0 390.3Z" fill="#fff" stroke="none" />
<path d="M1125.9 423.4L1127.7 425.9L1128.6 425.4L1127.7 422.3L1129.2 420.6L1131.3 422.1L1131.8 421.1L1130.3 418.3L1130.9 415.6L1133.0 416.1L1133.1 414.6L1131.1 412.6L1130.8 409.3L1132.6 408.6L1132.2 407.0L1130.1 406.0L1128.9 402.7L1130.1 400.8L1129.3 399.4L1127.3 399.5L1125.5 396.6L1125.8 394.0L1124.8 392.8L1123.3 394.2L1121.0 392.2L1120.6 389.1L1119.5 388.5L1118.7 390.7L1116.3 389.9L1115.1 387.0L1114.0 386.9L1114.0 389.8L1112.0 390.3" fill="none" stroke="#000" stroke-width="1.5" />
<path d="M1079.8 446.0L1127.7 425.9M1080.7 445.5L1128.6 425.4M1083.4 442.3L1131.3 422.1M1083.9 441.2L1131.8 421.1M1085.1 436.2L1133.0 416.1M1085.2 434.8L1133.1 414.6M1084.6 428.7L1132.6 408.6M1084.3 427.2L1132.2 407.0M1082.1 421.0L1130.1 400.8M1081.4 419.5L1129.3 399.4M1077.9 414.2L1125.8 394.0M1076.9 413.0L1124.8 392.8M1072.6 409.3L1120.6 389.1M1071.5 408.6L1119.5 388.5M1067.1 407.1L1115.1 387.0M1066.1 407.0L1114.0 386.9" fill="none" stroke="#000" stroke-width="1.2" />
<path d="M1078.0 443.6L1079.8 446.0L1080.7 445.5L1079.8 442.5L1081.3 440.7L1083.4 442.3L1083.9 441.2L1082.3 438.5L1083.0 435.8L1085.1 436.2L1085.2 434.8L1083.2 432.7L1082.9 429.5L1084.6 428.7L1084.3 427.2L1082.1 426.1L1081.0 422.8L1082.1 421.0L1081.4 419.5L1079.4 419.7L1077.5 416.8L1077.9 414.2L1076.9 413.0L1075.4 414.3L1073.1 412.3L1072.6 409.3L1071.5 408.6L1070.7 410.9L1068.4 410.1L1067.1 407.1L1066.1 407.0L1066.1 409.9L1064.0 410.4L1062.2 408.0L1061.3 408.5L1062.2 411.5L1060.7 413.3L1058.6 411.7L1058.1 412.8L1059.7 415.5L1059.0 418.2L1056.9 417.8L1056.8 419.2L1058.8 421.3L1059.1 424.5L1057.4 425.3L1057.7 426.8L1059.9 427.9L1061.0 431.2L1059.9 433.0L1060.6 434.5L1062.6 434.3L1064.5 437.2L1064.1 439.8L1065.1 441.0L1066.6 439.7L1068.9 441.7L1069.4 444.7L1070.5 445.4L1071.3 443.1L1073.6 443.9L1074.9 446.9L1075.9 447.0L1075.9 444.1L1078.0 443.6Z" fill="none" stroke="#000" stroke-width="1.5" />
<path d="M1014.9 422.0L1011.3 424.7L1008.7 429.1L1007.5 434.9L1007.7 441.5L1009.3 448.6L1012.2 455.4L1016.1 461.5L1020.7 466.3L1025.7 469.4L1030.6 470.7L1035.1 470.0L1064.6 457.6L1068.2 454.9L1070.8 450.5L1072.0 444.7L1071.8 438.1L1070.2 431.0L1067.3 424.2L1063.4 418.1L1058.8 413.3L1053.8 410.2L1048.9 408.9L1044.4 409.6Z" fill="#fff" stroke="#000" stroke-width="2.0" />
<path d="M1035.1 470.0L1038.7 467.3L1041.3 462.9L1042.5 457.1L1042.3 450.5L1040.7 443.4L1037.8 436.6L1033.9 430.5L1029.3 425.7L1024.3 422.6L1019.4 421.3L1014.9 422.0" fill="none" stroke="#000" stroke-width="2.0" />
<path d="M978.8 430.7L975.3 424.6L974.3 425.1L976.7 431.8L974.7 433.5L970.5 428.3L969.7 429.3L973.0 435.5L971.6 437.9L966.9 433.9L966.4 435.3L970.5 440.7L969.7 443.8L964.9 441.2L964.6 442.8L969.2 447.1L969.0 450.7L964.3 449.7L964.4 451.5L969.2 454.4L969.7 458.3L965.4 458.9L965.8 460.8L970.6 462.2L971.7 466.1L968.1 468.3L968.8 470.2L973.2 469.9L974.9 473.6L972.1 477.3L973.0 479.0L976.9 477.2L979.1 480.5L977.3 485.5L978.4 486.9L981.5 483.6L984.0 486.3L983.3 492.2L984.6 493.4L986.7 488.7L989.4 490.7L989.9 497.2L991.2 498.0L992.2 492.3L994.9 493.4L996.5 500.2L997.8 500.5L997.7 494.1L1000.3 494.3L1002.9 500.9L1004.1 500.8L1002.8 494.1L1005.2 493.3L1019.9 487.1L1023.4 493.2L1024.5 492.7L1022.1 486.0L1024.0 484.3L1028.2 489.5L1029.1 488.5L1025.7 482.3L1027.2 479.9L1031.8 483.9L1032.3 482.5L1028.3 477.1L1029.1 474.0L1033.9 476.6L1034.1 475.0L1029.6 470.7L1029.7 467.1L1034.4 468.1L1034.3 466.3L1029.5 463.4L1029.0 459.5L1033.3 458.9L1032.9 457.0L1028.2 455.6L1027.0 451.7L1030.7 449.5L1030.0 447.6L1025.6 447.9L1023.8 444.2L1026.7 440.5L1025.7 438.8L1021.9 440.6L1019.7 437.3L1021.5 432.3L1020.3 430.9L1017.3 434.2L1014.7 431.5L1015.4 425.6L1014.2 424.4L1012.1 429.1L1009.4 427.1L1008.9 420.6L1007.6 419.8L1006.6 425.5L1003.8 424.4L1002.2 417.6L1000.9 417.3L1001.1 423.7L998.5 423.5L995.8 416.9L994.6 417.0L995.9 423.7L993.6 424.5Z" fill="#fff" stroke="none" />
<path d="M1019.9 487.1L1023.4 493.2L1024.5 492.7L1022.1 486.0L1024.0 484.3L1028.2 489.5L1029.1 488.5L1025.7 482.3L1027.2 479.9L1031.8 483.9L1032.3 482.5L1028.3 477.1L1029.1 474.0L1033.9 476.6L1034.1 475.0L1029.6 470.7L1029.7 467.1L1034.4 468.1L1034.3 466.3L1029.5 463.4L1029.0 459.5L1033.3 458.9L1032.9 457.0L1028.2 455.6L1027.0 451.7L1030.7 449.5L1030.0 447.6L1025.6 447.9L1023.8 444.2L1026.7 440.5L1025.7 438.8L1021.9 440.6L1019.7 437.3L1021.5 432.3L1020.3 430.9L1017.3 434.2L1014.7 431.5L1015.4 425.6L1014.2 424.4L1012.1 429.1L1009.4 427.1L1008.9 420.6L1007.6 419.8L1006.6 425.5L1003.8 424.4L1002.2 417.6L1000.9 417.3L1001.1 423.7L998.5 423.5L995.8 416.9L994.6 417.0L995.9 423.7L993.6 424.5" fill="none" stroke="#000" stroke-width="2.0" />
<path d="M1008.7 499.4L1023.4 493.2M1009.7 498.9L1024.5 492.7M1013.5 495.7L1028.2 489.5M1014.3 494.7L1029.1 488.5M1017.1 490.1L1031.8 483.9M1017.6 488.7L1032.3 482.5M1019.1 482.8L1033.9 476.6M1019.4 481.2L1034.1 475.0M1019.7 474.3L1034.4 468.1M1019.6 472.5L1034.3 466.3M1018.6 465.1L1033.3 458.9M1018.2 463.2L1032.9 457.0M1015.9 455.7L1030.7 449.5M1015.2 453.8L1030.0 447.6M1011.9 446.7L1026.7 440.5M1011.0 445.0L1025.7 438.8M1006.7 438.5L1021.5 432.3M1005.6 437.1L1020.3 430.9M1000.7 431.8L1015.4 425.6M999.4 430.6L1014.2 424.4M994.1 426.8L1008.9 420.6M992.8 426.0L1007.6 419.8M987.5 423.8L1002.2 417.6M986.2 423.5L1000.9 417.3M981.1 423.1L995.8 416.9M979.9 423.2L994.6 417.0" fill="none" stroke="#000" stroke-width="1.6" />
<path d="M1017.6 488.7L1032.3 482.5L1028.2 477.4L1013.4 483.6ZM1019.4 481.2L1034.1 475.0L1029.5 471.0L1014.8 477.2ZM1019.6 472.5L1034.3 466.3L1029.6 463.7L1014.8 469.9ZM1018.2 463.2L1032.9 457.0L1028.3 456.0L1013.5 462.2ZM1015.2 453.8L1030.0 447.6L1025.7 448.3L1011.0 454.5ZM1011.0 445.0L1025.7 438.8L1022.1 441.0L1007.3 447.2ZM1005.6 437.1L1020.3 430.9L1017.5 434.5L1002.8 440.7ZM999.4 430.6L1014.2 424.4L1012.4 429.3L997.6 435.5ZM992.8 426.0L1007.6 419.8L1006.9 425.7L992.1 431.9ZM986.2 423.5L1000.9 417.3L1001.4 423.7L986.6 429.9Z" fill="#000" stroke="#000" stroke-width="1.5" />
<path d="M1005.2 493.3L1008.7 499.4L1009.7 498.9L1007.3 492.2L1009.3 490.5L1013.5 495.7L1014.3 494.7L1011.0 488.5L1012.4 486.1L1017.1 490.1L1017.6 488.7L1013.5 483.3L1014.3 480.2L1019.1 482.8L1019.4 481.2L1014.8 476.9L1015.0 473.3L1019.7 474.3L1019.6 472.5L1014.8 469.6L1014.3 465.7L1018.6 465.1L1018.2 463.2L1013.4 461.8L1012.3 457.9L1015.9 455.7L1015.2 453.8L1010.8 454.1L1009.1 450.4L1011.9 446.7L1011.0 445.0L1007.1 446.8L1004.9 443.5L1006.7 438.5L1005.6 437.1L1002.5 440.4L1000.0 437.7L1000.7 431.8L999.4 430.6L997.3 435.3L994.6 433.3L994.1 426.8L992.8 426.0L991.8 431.7L989.1 430.6L987.5 423.8L986.2 423.5L986.3 429.9L983.7 429.7L981.1 423.1L979.9 423.2L981.2 429.9L978.8 430.7L975.3 424.6L974.3 425.1L976.7 431.8L974.7 433.5L970.5 428.3L969.7 429.3L973.0 435.5L971.6 437.9L966.9 433.9L966.4 435.3L970.5 440.7L969.7 443.8L964.9 441.2L964.6 442.8L969.2 447.1L969.0 450.7L964.3 449.7L964.4 451.5L969.2 454.4L969.7 458.3L965.4 458.9L965.8 460.8L970.6 462.2L971.7 466.1L968.1 468.3L968.8 470.2L973.2 469.9L974.9 473.6L972.1 477.3L973.0 479.0L976.9 477.2L979.1 480.5L977.3 485.5L978.4 486.9L981.5 483.6L984.0 486.3L983.3 492.2L984.6 493.4L986.7 488.7L989.4 490.7L989.9 497.2L991.2 498.0L992.2 492.3L994.9 493.4L996.5 500.2L997.8 500.5L997.7 494.1L1000.3 494.3L1002.9 500.9L1004.1 500.8L1002.8 494.1L1005.2 493.3Z" fill="none" stroke="#000" stroke-width="2.0" />
<path d="M939.7 439.3L935.9 441.6L932.8 445.0L930.3 449.4L928.6 454.6L927.7 460.6L927.7 467.1L928.6 473.9L930.3 480.9L932.8 487.8L935.9 494.3L939.7 500.4L944.0 505.8L948.7 510.4L953.5 513.9L958.5 516.4L963.3 517.7L968.0 517.8L972.3 516.7L999.9 505.1L1003.7 502.8L1006.9 499.4L1009.4 495.0L1011.1 489.8L1011.9 483.8L1011.9 477.3L1011.1 470.4L1009.4 463.5L1006.9 456.6L1003.7 450.0L999.9 444.0L995.6 438.6L991.0 434.0L986.1 430.4L981.2 428.0L976.3 426.7L971.7 426.5L967.4 427.7Z" fill="#fff" stroke="#000" stroke-width="2.0" />
<path d="M972.3 516.7L976.1 514.4L979.2 511.0L981.7 506.6L983.4 501.4L984.3 495.4L984.3 488.9L983.4 482.1L981.7 475.1L979.2 468.2L976.1 461.7L972.3 455.6L968.0 450.2L963.3 445.6L958.5 442.1L953.5 439.6L948.7 438.3L944.0 438.2L939.7 439.3" fill="none" stroke="#000" stroke-width="2.0" />
<path d="M922.7 432.3L918.9 434.4L915.5 437.3L912.7 441.1L910.3 445.5L908.6 450.6L907.4 456.2L906.9 462.3L907.0 468.7L907.7 475.4L909.1 482.2L911.1 489.1L913.6 495.8L916.6 502.3L920.1 508.5L924.1 514.2L928.3 519.4L932.8 524.0L937.6 527.9L942.4 531.0L947.2 533.3L952.0 534.7L956.7 535.3L961.2 534.9L965.3 533.7L976.4 529.1L980.2 526.9L983.5 524.0L986.4 520.3L988.7 515.9L990.5 510.8L991.6 505.2L992.2 499.1L992.1 492.6L991.3 485.9L990.0 479.1L988.0 472.3L985.5 465.6L982.4 459.1L978.9 452.9L975.0 447.1L970.8 441.9L966.2 437.3L961.5 433.5L956.7 430.3L951.8 428.0L947.0 426.6L942.3 426.1L937.9 426.4L933.7 427.6Z" fill="#fff" stroke="#000" stroke-width="2.25" />
<path d="M965.3 533.7L969.1 531.6L972.5 528.7L975.3 524.9L977.7 520.5L979.4 515.4L980.6 509.8L981.1 503.7L981.0 497.3L980.3 490.6L978.9 483.8L976.9 476.9L974.4 470.2L971.4 463.7L967.9 457.5L963.9 451.8L959.7 446.6L955.2 442.0L950.4 438.1L945.6 435.0L940.8 432.7L936.0 431.3L931.3 430.7L926.8 431.1L922.7 432.3" fill="none" stroke="#000" stroke-width="2.25" />
<ellipse cx="944.0" cy="483.0" rx="30.0" ry="50.0" transform="rotate(-22.8 944.0 483.0)" fill="none" stroke="#000" stroke-width="1.38" />
<ellipse cx="942.2" cy="483.8" rx="27.0" ry="45.0" transform="rotate(-22.8 942.2 483.8)" fill="none" stroke="#000" stroke-width="1.62" />
<ellipse cx="940.3" cy="484.6" rx="24.0" ry="40.0" transform="rotate(-22.8 940.3 484.6)" fill="none" stroke="#000" stroke-width="1.25" />
<path d="M867.2 475.6L864.6 471.3L863.8 471.7L865.4 476.5L863.7 477.8L860.7 474.1L860.0 474.8L862.2 479.4L860.9 481.3L857.6 478.3L857.1 479.3L859.8 483.5L858.9 485.9L855.5 483.7L855.2 484.9L858.3 488.5L857.9 491.3L854.4 490.1L854.4 491.5L857.7 494.3L857.8 497.4L854.5 497.2L854.7 498.7L858.1 500.6L858.7 503.9L855.7 504.7L856.1 506.2L859.5 507.2L860.5 510.5L858.0 512.2L858.5 513.7L861.7 513.7L863.2 516.8L861.2 519.5L861.9 520.9L864.8 519.8L866.6 522.7L865.2 526.2L866.1 527.4L868.5 525.4L870.6 527.9L869.9 532.0L870.9 533.0L872.7 530.1L875.0 532.1L875.0 536.6L876.1 537.4L877.3 533.7L879.6 535.1L880.4 539.9L881.4 540.4L881.9 536.2L884.3 536.9L885.7 541.8L886.7 542.0L886.5 537.3L888.7 537.4L890.8 542.0L891.7 541.9L890.8 537.1L892.8 536.4L951.8 511.6L954.4 515.9L955.2 515.5L953.6 510.7L955.3 509.4L958.3 513.1L959.0 512.4L956.8 507.8L958.1 505.9L961.4 508.9L961.9 507.9L959.2 503.7L960.1 501.3L963.5 503.5L963.8 502.3L960.7 498.7L961.1 495.9L964.6 497.1L964.6 495.7L961.3 492.9L961.2 489.8L964.5 490.0L964.3 488.5L960.9 486.6L960.3 483.3L963.3 482.5L962.9 481.0L959.5 480.0L958.5 476.7L961.0 475.0L960.5 473.5L957.3 473.5L955.8 470.4L957.8 467.7L957.1 466.3L954.2 467.4L952.4 464.5L953.8 461.0L952.9 459.8L950.5 461.8L948.4 459.3L949.1 455.2L948.1 454.2L946.2 457.1L944.0 455.1L944.0 450.6L942.9 449.8L941.7 453.5L939.4 452.1L938.6 447.3L937.6 446.8L937.1 451.0L934.7 450.3L933.3 445.4L932.3 445.2L932.5 449.9L930.3 449.8L928.2 445.2L927.3 445.3L928.2 450.1L926.2 450.8Z" fill="#fff" stroke="none" />
<path d="M951.8 511.6L954.4 515.9L955.2 515.5L953.6 510.7L955.3 509.4L958.3 513.1L959.0 512.4L956.8 507.8L958.1 505.9L961.4 508.9L961.9 507.9L959.2 503.7L960.1 501.3L963.5 503.5L963.8 502.3L960.7 498.7L961.1 495.9L964.6 497.1L964.6 495.7L961.3 492.9L961.2 489.8L964.5 490.0L964.3 488.5L960.9 486.6L960.3 483.3L963.3 482.5L962.9 481.0L959.5 480.0L958.5 476.7L961.0 475.0L960.5 473.5L957.3 473.5L955.8 470.4L957.8 467.7L957.1 466.3L954.2 467.4L952.4 464.5L953.8 461.0L952.9 459.8L950.5 461.8L948.4 459.3L949.1 455.2L948.1 454.2L946.2 457.1L944.0 455.1L944.0 450.6L942.9 449.8L941.7 453.5L939.4 452.1L938.6 447.3L937.6 446.8L937.1 451.0L934.7 450.3L933.3 445.4L932.3 445.2L932.5 449.9L930.3 449.8L928.2 445.2L927.3 445.3L928.2 450.1L926.2 450.8" fill="none" stroke="#000" stroke-width="1.62" />
<path d="M895.4 540.7L954.4 515.9M896.2 540.3L955.2 515.5M899.3 537.9L958.3 513.1M900.0 537.2L959.0 512.4M902.4 533.7L961.4 508.9M902.9 532.7L961.9 507.9M904.5 528.3L963.5 503.5M904.8 527.1L963.8 502.3M905.6 521.9L964.6 497.1M905.6 520.5L964.6 495.7M905.5 514.8L964.5 490.0M905.3 513.3L964.3 488.5M904.3 507.3L963.3 482.5M903.9 505.8L962.9 481.0M902.0 499.8L961.0 475.0M901.5 498.3L960.5 473.5M898.8 492.5L957.8 467.7M898.1 491.1L957.1 466.3M894.8 485.8L953.8 461.0M893.9 484.6L952.9 459.8M890.1 480.0L949.1 455.2M889.1 479.0L948.1 454.2M885.0 475.4L944.0 450.6M883.9 474.6L942.9 449.8M879.6 472.1L938.6 447.3M878.6 471.6L937.6 446.8M874.3 470.2L933.3 445.4M873.3 470.0L932.3 445.2M869.2 470.0L928.2 445.2M868.3 470.1L927.3 445.3" fill="none" stroke="#000" stroke-width="1.3" />
<path d="M892.8 536.4L895.4 540.7L896.2 540.3L894.6 535.5L896.3 534.2L899.3 537.9L900.0 537.2L897.8 532.6L899.1 530.7L902.4 533.7L902.9 532.7L900.2 528.5L901.1 526.1L904.5 528.3L904.8 527.1L901.7 523.5L902.1 520.7L905.6 521.9L905.6 520.5L902.3 517.7L902.2 514.6L905.5 514.8L905.3 513.3L901.9 511.4L901.3 508.1L904.3 507.3L903.9 505.8L900.5 504.8L899.5 501.5L902.0 499.8L901.5 498.3L898.3 498.3L896.8 495.2L898.8 492.5L898.1 491.1L895.2 492.2L893.4 489.3L894.8 485.8L893.9 484.6L891.5 486.6L889.4 484.1L890.1 480.0L889.1 479.0L887.3 481.9L885.0 479.9L885.0 475.4L883.9 474.6L882.7 478.3L880.4 476.9L879.6 472.1L878.6 471.6L878.1 475.8L875.7 475.1L874.3 470.2L873.3 470.0L873.5 474.7L871.3 474.6L869.2 470.0L868.3 470.1L869.2 474.9L867.2 475.6L864.6 471.3L863.8 471.7L865.4 476.5L863.7 477.8L860.7 474.1L860.0 474.8L862.2 479.4L860.9 481.3L857.6 478.3L857.1 479.3L859.8 483.5L858.9 485.9L855.5 483.7L855.2 484.9L858.3 488.5L857.9 491.3L854.4 490.1L854.4 491.5L857.7 494.3L857.8 497.4L854.5 497.2L854.7 498.7L858.1 500.6L858.7 503.9L855.7 504.7L856.1 506.2L859.5 507.2L860.5 510.5L858.0 512.2L858.5 513.7L861.7 513.7L863.2 516.8L861.2 519.5L861.9 520.9L864.8 519.8L866.6 522.7L865.2 526.2L866.1 527.4L868.5 525.4L870.6 527.9L869.9 532.0L870.9 533.0L872.7 530.1L875.0 532.1L875.0 536.6L876.1 537.4L877.3 533.7L879.6 535.1L880.4 539.9L881.4 540.4L881.9 536.2L884.3 536.9L885.7 541.8L886.7 542.0L886.5 537.3L888.7 537.4L890.8 542.0L891.7 541.9L890.8 537.1L892.8 536.4Z" fill="none" stroke="#000" stroke-width="1.62" />
<path d="M802.6 507.5L799.0 509.9L796.1 513.6L794.3 518.6L793.4 524.4L793.7 530.9L795.0 537.7L797.3 544.4L800.5 550.8L804.4 556.5L808.9 561.2L813.7 564.7L818.5 566.8L823.2 567.4L827.4 566.5L892.9 539.0L896.5 536.6L899.3 532.8L901.2 527.9L902.0 522.1L901.8 515.6L900.5 508.8L898.2 502.0L894.9 495.7L891.0 490.0L886.6 485.3L881.8 481.8L877.0 479.7L872.3 479.1L868.1 480.0Z" fill="#fff" stroke="#000" stroke-width="2.0" />
<path d="M827.4 566.5L831.0 564.1L833.9 560.4L835.7 555.4L836.6 549.6L836.3 543.1L835.0 536.3L832.7 529.6L829.5 523.2L825.6 517.5L821.1 512.8L816.3 509.3L811.5 507.2L806.8 506.6L802.6 507.5" fill="none" stroke="#000" stroke-width="2.0" />
<path d="M852.7 556.9L856.1 554.2L858.8 550.3L860.5 545.2L861.2 539.3L860.9 532.8L859.5 526.0L857.2 519.3L854.0 512.9L850.1 507.2L845.7 502.4L841.0 498.7L836.2 496.4L831.5 495.6L827.1 496.2" fill="none" stroke="#000" stroke-width="1.62" />
<path d="M858.2 554.6L861.7 551.9L864.3 547.9L866.0 542.9L866.8 537.0L866.4 530.4L865.1 523.7L862.8 516.9L859.6 510.5L855.7 504.8L851.3 500.0L846.5 496.4L841.7 494.1L837.0 493.2L832.6 493.8" fill="none" stroke="#000" stroke-width="1.25" />
<path d="M777.5 509.1L773.9 511.3L770.9 514.5L768.5 518.7L766.9 523.7L766.1 529.4L766.1 535.6L766.9 542.1L768.5 548.8L770.9 555.3L773.9 561.6L777.5 567.4L781.6 572.5L786.0 576.8L790.7 580.2L795.4 582.6L800.0 583.8L804.4 583.9L808.5 582.9L816.8 579.4L820.4 577.2L823.4 574.0L825.8 569.8L827.4 564.8L828.2 559.1L828.2 552.9L827.4 546.4L825.8 539.8L823.4 533.2L820.4 527.0L816.8 521.2L812.7 516.0L808.3 511.7L803.6 508.3L798.9 505.9L794.3 504.7L789.9 504.6L785.8 505.6ZM805.8 576.4L809.4 574.1L812.3 570.4L814.2 565.6L815.2 559.8L815.1 553.5L814.0 546.7L811.9 540.0L808.9 533.5L805.2 527.6L800.9 522.6L796.3 518.6L791.5 516.0L786.7 514.7L782.3 514.9L778.3 516.6L775.1 519.6L772.6 523.9L771.2 529.2L770.7 535.3L771.3 541.9L772.9 548.7L775.5 555.3L778.8 561.5L782.9 567.0L787.4 571.5L792.1 574.9L796.9 576.8L801.6 577.4L805.8 576.4Z" fill="#fff" stroke="none" fill-rule="evenodd"/>
<path d="M777.5 509.1L773.9 511.3L770.9 514.5L768.5 518.7L766.9 523.7L766.1 529.4L766.1 535.6L766.9 542.1L768.5 548.8L770.9 555.3L773.9 561.6L777.5 567.4L781.6 572.5L786.0 576.8L790.7 580.2L795.4 582.6L800.0 583.8L804.4 583.9L808.5 582.9L816.8 579.4L820.4 577.2L823.4 574.0L825.8 569.8L827.4 564.8L828.2 559.1L828.2 552.9L827.4 546.4L825.8 539.8L823.4 533.2L820.4 527.0L816.8 521.2L812.7 516.0L808.3 511.7L803.6 508.3L798.9 505.9L794.3 504.7L789.9 504.6L785.8 505.6Z" fill="none" stroke="#000" stroke-width="2.38" />
<path d="M808.5 582.9L812.1 580.7L815.1 577.5L817.5 573.3L819.1 568.3L819.9 562.6L819.9 556.4L819.1 549.9L817.5 543.2L815.1 536.7L812.1 530.4L808.5 524.6L804.4 519.5L800.0 515.2L795.3 511.8L790.6 509.4L786.0 508.2L781.6 508.1L777.5 509.1" fill="none" stroke="#000" stroke-width="1.5" />
<ellipse cx="793.0" cy="546.0" rx="22.2" ry="37.0" transform="rotate(-22.8 793.0 546.0)" fill="none" stroke="#000" stroke-width="1.25" />
<g clip-path="url(#c16)"><path d="M800.6 574.3L804.1 571.9L806.7 568.1L808.4 563.1L808.9 557.2L808.3 550.7L806.6 544.1L803.9 537.6L800.3 531.8L796.1 526.8L791.5 523.1L786.8 520.7L782.2 520.0L778.1 520.8L774.6 523.2L771.9 527.0L770.3 532.0L769.7 537.9L770.3 544.4L772.0 551.0L774.7 557.5L778.3 563.3L782.5 568.3L787.1 572.0L791.8 574.4L796.4 575.1L800.6 574.3Z" fill="none" stroke="#000" stroke-width="1.3"/><path d="M809.2 570.1L798.1 574.8M811.4 566.5L800.3 571.1M812.7 561.9L801.7 566.5M813.3 556.6L802.2 561.3M812.9 550.9L801.8 555.5M811.6 544.9L800.6 549.6M809.6 539.0L798.5 543.7M806.8 533.4L795.8 538.1M803.4 528.4L792.4 533.0M799.6 524.1L788.5 528.8M795.5 520.8L784.4 525.4M791.2 518.6L780.2 523.2M787.1 517.5L776.0 522.2" stroke="#000" stroke-width="3.4"/><path d="M786.1 576.0L789.6 573.5L792.0 569.2L793.2 563.7L793.0 557.3L791.5 550.5L788.7 543.9L785.0 538.1L780.5 533.5L775.7 530.4L771.0 529.2L766.7 529.9L763.2 532.5L760.8 536.7L759.6 542.3L759.8 548.7L761.3 555.4L764.1 562.0L767.9 567.8L772.3 572.5L777.1 575.5L781.8 576.7L786.1 576.0Z" fill="#fff" stroke="#000" stroke-width="1.3"/></g>
<ellipse cx="793.0" cy="546.0" rx="19.8" ry="33.0" transform="rotate(-22.8 793.0 546.0)" fill="none" stroke="#000" stroke-width="2.25" />
<path d="M753.4 519.0L749.7 521.2L746.6 524.5L744.2 528.8L742.6 533.9L741.7 539.8L741.7 546.1L742.6 552.8L744.2 559.6L746.6 566.3L749.7 572.7L753.4 578.6L757.6 583.9L762.2 588.3L766.9 591.8L771.7 594.2L776.5 595.5L781.0 595.6L785.2 594.5L790.7 592.2L794.4 590.0L797.5 586.7L799.9 582.4L801.6 577.3L802.4 571.4L802.4 565.1L801.6 558.4L799.9 551.6L797.5 544.9L794.4 538.5L790.7 532.5L786.5 527.3L782.0 522.8L777.2 519.3L772.4 516.9L767.7 515.6L763.1 515.5L759.0 516.6Z" fill="#fff" stroke="#000" stroke-width="1.88" />
<path d="M785.2 594.5L788.9 592.3L792.0 589.0L794.4 584.7L796.1 579.6L796.9 573.7L796.9 567.4L796.1 560.7L794.4 553.9L792.0 547.2L788.9 540.8L785.2 534.9L781.0 529.6L776.5 525.2L771.7 521.7L766.9 519.2L762.1 518.0L757.6 517.9L753.4 519.0" fill="none" stroke="#000" stroke-width="1.88" />
<path d="M700.0 546.8L696.4 549.1L693.5 552.5L691.3 557.1L690.1 562.5L689.7 568.5L690.3 575.0L691.7 581.7L694.1 588.4L697.2 594.7L700.9 600.4L705.2 605.4L709.8 609.4L714.5 612.2L719.3 613.9L723.8 614.2L728.0 613.2L783.3 589.9L786.9 587.7L789.8 584.2L792.0 579.7L793.3 574.3L793.6 568.2L793.0 561.7L791.6 555.0L789.2 548.4L786.1 542.1L782.4 536.3L778.1 531.4L773.5 527.4L768.8 524.5L764.0 522.9L759.5 522.6L755.4 523.6ZM726.0 608.6L729.6 606.1L732.4 602.3L734.2 597.3L734.9 591.3L734.5 584.7L733.0 577.9L730.4 571.1L727.0 564.9L722.8 559.5L718.2 555.1L713.4 552.2L708.6 550.7L704.1 550.8L700.1 552.5L696.8 555.6L694.5 560.1L693.3 565.6L693.1 572.0L694.1 578.7L696.2 585.5L699.2 592.1L703.0 597.9L707.4 602.8L712.2 606.5L717.0 608.8L721.7 609.5L726.0 608.6Z" fill="#fff" stroke="none" fill-rule="evenodd"/>
<path d="M700.0 546.8L696.4 549.1L693.5 552.5L691.3 557.1L690.1 562.5L689.7 568.5L690.3 575.0L691.7 581.7L694.1 588.4L697.2 594.7L700.9 600.4L705.2 605.4L709.8 609.4L714.5 612.2L719.3 613.9L723.8 614.2L728.0 613.2L783.3 589.9L786.9 587.7L789.8 584.2L792.0 579.7L793.3 574.3L793.6 568.2L793.0 561.7L791.6 555.0L789.2 548.4L786.1 542.1L782.4 536.3L778.1 531.4L773.5 527.4L768.8 524.5L764.0 522.9L759.5 522.6L755.4 523.6Z" fill="none" stroke="#000" stroke-width="2.12" />
<path d="M786.1 588.3L788.1 586.4L789.9 584.1L791.4 581.3L792.5 578.1L793.2 574.6L793.6 570.8L756.7 586.3L756.3 590.1L755.6 593.6L754.5 596.8L753.0 599.6L751.3 601.9L749.2 603.8Z" fill="#000" stroke="#000" stroke-width="1.25" />
<g clip-path="url(#c17)"><path d="M726.0 608.6L729.6 606.1L732.4 602.3L734.2 597.3L734.9 591.3L734.5 584.7L733.0 577.9L730.4 571.1L727.0 564.9L722.8 559.5L718.2 555.1L713.4 552.2L708.6 550.7L704.1 550.8L700.1 552.5L696.8 555.6L694.5 560.1L693.3 565.6L693.1 572.0L694.1 578.7L696.2 585.5L699.2 592.1L703.0 597.9L707.4 602.8L712.2 606.5L717.0 608.8L721.7 609.5L726.0 608.6ZM762.9 593.1L766.5 590.6L769.3 586.8L771.1 581.8L771.8 575.8L771.4 569.2L769.8 562.4L767.3 555.6L763.9 549.4L759.7 544.0L755.1 539.6L750.3 536.7L745.5 535.2L740.9 535.3L737.0 537.0L733.7 540.1L731.4 544.6L730.2 550.1L730.0 556.5L731.0 563.2L733.1 570.0L736.1 576.6L739.9 582.4L744.3 587.3L749.1 591.0L753.9 593.3L758.6 594.0L762.9 593.1Z" fill="#fff" fill-rule="evenodd"/><path d="M704.8 550.6L701.1 551.8L698.0 554.3L695.5 557.8L693.9 562.3L693.1 567.6L693.3 573.4L730.1 557.9L730.0 552.1L730.7 546.8L732.4 542.3L734.8 538.8L738.0 536.3L741.7 535.1Z" fill="#000"/><path d="M762.9 593.1L766.5 590.6L769.3 586.8L771.1 581.8L771.8 575.8L771.4 569.2L769.8 562.4L767.3 555.6L763.9 549.4L759.7 544.0L755.1 539.6L750.3 536.7L745.5 535.2L740.9 535.3L737.0 537.0L733.7 540.1L731.4 544.6L730.2 550.1L730.0 556.5L731.0 563.2L733.1 570.0L736.1 576.6L739.9 582.4L744.3 587.3L749.1 591.0L753.9 593.3L758.6 594.0L762.9 593.1Z" fill="none" stroke="#000" stroke-width="1.0"/></g>
<ellipse cx="714.0" cy="580.0" rx="18.6" ry="31.0" transform="rotate(-22.8 714.0 580.0)" fill="none" stroke="#000" stroke-width="2.12" />
<path d="M728.0 613.2L731.6 610.9L734.5 607.5L736.7 602.9L737.9 597.5L738.3 591.5L737.7 585.0L736.3 578.3L733.9 571.6L730.8 565.3L727.1 559.6L722.8 554.6L718.2 550.6L713.5 547.8L708.7 546.1L704.2 545.8L700.0 546.8" fill="none" stroke="#000" stroke-width="1.75" />
<path d="M703.0 584.0L727.0 574.0" stroke="#000" stroke-width="1.4"/>
<path d="M623.7 571.3L619.9 573.6L616.8 577.0L614.3 581.4L612.6 586.6L611.7 592.6L611.7 599.1L612.6 605.9L614.3 612.9L616.8 619.8L619.9 626.3L623.7 632.4L628.0 637.8L632.7 642.4L637.5 645.9L642.5 648.4L647.3 649.7L652.0 649.8L656.3 648.7L695.9 632.1L699.7 629.8L702.9 626.4L705.4 622.0L707.0 616.7L707.9 610.7L707.9 604.2L707.0 597.4L705.3 590.4L702.9 583.6L699.7 577.0L695.9 570.9L691.6 565.5L687.0 561.0L682.1 557.4L677.2 554.9L672.3 553.6L667.6 553.5L663.4 554.6ZM653.3 641.7L657.0 639.4L659.9 635.7L662.0 631.0L663.1 625.3L663.2 618.9L662.2 612.2L660.3 605.4L657.5 598.7L654.0 592.6L649.8 587.2L645.2 582.8L640.4 579.6L635.6 577.7L630.9 577.3L626.7 578.3L623.0 580.6L620.1 584.3L618.0 589.0L616.9 594.7L616.8 601.1L617.8 607.8L619.7 614.6L622.5 621.3L626.0 627.4L630.2 632.8L634.8 637.2L639.6 640.4L644.4 642.3L649.1 642.7L653.3 641.7Z" fill="#fff" stroke="none" fill-rule="evenodd"/>
<path d="M623.7 571.3L619.9 573.6L616.8 577.0L614.3 581.4L612.6 586.6L611.7 592.6L611.7 599.1L612.6 605.9L614.3 612.9L616.8 619.8L619.9 626.3L623.7 632.4L628.0 637.8L632.7 642.4L637.5 645.9L642.5 648.4L647.3 649.7L652.0 649.8L656.3 648.7L695.9 632.1L699.7 629.8L702.9 626.4L705.4 622.0L707.0 616.7L707.9 610.7L707.9 604.2L707.0 597.4L705.3 590.4L702.9 583.6L699.7 577.0L695.9 570.9L691.6 565.5L687.0 561.0L682.1 557.4L677.2 554.9L672.3 553.6L667.6 553.5L663.4 554.6Z" fill="none" stroke="#000" stroke-width="2.12" />
<path d="M656.3 648.7L660.1 646.4L663.2 643.0L665.7 638.6L667.4 633.4L668.3 627.4L668.3 620.9L667.4 614.1L665.7 607.1L663.2 600.2L660.1 593.7L656.3 587.6L652.0 582.2L647.3 577.6L642.5 574.1L637.5 571.6L632.7 570.3L628.0 570.2L623.7 571.3" fill="none" stroke="#000" stroke-width="2.12" />
<path d="M667.9 639.9L680.6 634.6L683.1 628.8L670.4 634.1ZM671.4 629.6L684.1 624.2L684.6 616.7L671.9 622.1ZM671.6 616.7L684.3 611.4L682.7 603.1L670.0 608.4ZM668.4 602.8L681.1 597.5L677.7 589.4L665.0 594.7ZM662.2 589.7L674.9 584.3L670.0 577.4L657.3 582.8ZM653.7 578.8L666.4 573.4L660.7 568.5L648.0 573.9ZM644.1 571.4L656.7 566.1L650.8 563.8L638.1 569.2ZM684.8 635.4L697.5 630.0L700.9 625.4L688.2 630.7ZM689.9 626.8L702.6 621.5L704.1 614.7L691.4 620.0ZM691.7 615.0L704.4 609.7L703.9 601.7L691.2 607.0ZM690.2 601.5L702.9 596.1L700.4 587.8L687.7 593.1ZM685.4 587.7L698.1 582.4L693.9 574.8L681.2 580.1ZM678.0 575.5L690.7 570.2L685.3 564.2L672.6 569.5ZM668.8 566.2L681.5 560.9L675.6 557.3L662.9 562.6ZM658.9 561.1L671.6 555.8L665.9 554.9L653.2 560.2Z" fill="#fff" stroke="#000" stroke-width="2.44" />
<path d="M667.9 639.9L680.6 634.6L680.4 631.1L667.7 636.4ZM671.4 629.6L684.1 624.2L683.0 620.7L670.3 626.0ZM671.6 616.7L684.3 611.4L682.5 608.1L669.8 613.4ZM668.4 602.8L681.1 597.5L678.7 594.9L666.1 600.3ZM662.2 589.7L674.9 584.3L672.3 582.8L659.6 588.1ZM653.7 578.8L666.4 573.4L663.9 573.1L651.3 578.4ZM644.1 571.4L656.7 566.1L654.6 567.0L642.0 572.3ZM684.8 635.4L697.5 630.0L697.7 626.8L685.0 632.1ZM689.9 626.8L702.6 621.5L701.9 617.9L689.2 623.2ZM691.7 615.0L704.4 609.7L703.0 606.2L690.3 611.5ZM690.2 601.5L702.9 596.1L700.8 593.1L688.1 598.5ZM685.4 587.7L698.1 582.4L695.6 580.3L683.0 585.6ZM678.0 575.5L690.7 570.2L688.1 569.2L675.4 574.5ZM668.8 566.2L681.5 560.9L679.2 561.2L666.5 566.5ZM658.9 561.1L671.6 555.8L669.8 557.2L657.1 562.6Z" fill="#000" stroke="#000" stroke-width="1.0" />
<g clip-path="url(#c18)"><path d="M653.3 641.7L657.0 639.4L659.9 635.7L662.0 631.0L663.1 625.3L663.2 618.9L662.2 612.2L660.3 605.4L657.5 598.7L654.0 592.6L649.8 587.2L645.2 582.8L640.4 579.6L635.6 577.7L630.9 577.3L626.7 578.3L623.0 580.6L620.1 584.3L618.0 589.0L616.9 594.7L616.8 601.1L617.8 607.8L619.7 614.6L622.5 621.3L626.0 627.4L630.2 632.8L634.8 637.2L639.6 640.4L644.4 642.3L649.1 642.7L653.3 641.7ZM693.0 625.1L696.7 622.7L699.6 619.1L701.6 614.3L702.7 608.6L702.8 602.3L701.9 595.5L700.0 588.7L697.2 582.1L693.6 575.9L689.5 570.5L684.9 566.1L680.0 562.9L675.2 561.1L670.5 560.6L666.3 561.6L662.6 563.9L659.7 567.6L657.6 572.4L656.6 578.0L656.5 584.4L657.4 591.1L659.3 598.0L662.1 604.6L665.6 610.8L669.8 616.1L674.4 620.5L679.2 623.7L684.1 625.6L688.7 626.1L693.0 625.1Z" fill="#fff" fill-rule="evenodd"/><path d="M623.6 582.8L636.3 577.4L634.3 582.2L621.6 587.5ZM620.7 591.2L633.4 585.9L633.0 592.1L620.3 597.4ZM620.6 601.8L633.3 596.4L634.5 603.3L621.9 608.6ZM623.2 613.1L635.9 607.8L638.7 614.5L626.0 619.8ZM628.3 624.0L641.0 618.6L645.0 624.3L632.3 629.6ZM635.2 632.9L647.9 627.6L652.6 631.6L639.9 636.9ZM643.2 638.9L655.9 633.6L660.7 635.4L648.0 640.8ZM643.4 574.4L656.1 569.1L654.1 573.9L641.4 579.2ZM640.6 582.9L653.2 577.6L652.8 583.7L640.1 589.1ZM640.4 593.4L653.1 588.1L654.4 594.9L641.7 600.3ZM643.0 604.8L655.7 599.5L658.5 606.1L645.8 611.5ZM648.1 615.6L660.8 610.3L664.8 616.0L652.1 621.3ZM655.1 624.6L667.7 619.2L672.4 623.2L659.8 628.6ZM663.0 630.6L675.7 625.2L680.5 627.1L667.8 632.4Z" fill="#fff" stroke="#000" stroke-width="1.53"/><path d="M666.3 561.6L662.6 563.9L659.7 567.6L657.6 572.4L656.6 578.0L656.5 584.4L657.4 591.1L659.3 598.0L662.1 604.6L665.6 610.8L669.8 616.1L674.4 620.5L679.2 623.7L684.1 625.6L688.7 626.1L693.0 625.1" fill="none" stroke="#000" stroke-width="1.2"/></g>
<ellipse cx="640.0" cy="610.0" rx="20.7" ry="34.4" transform="rotate(-22.8 640.0 610.0)" fill="none" stroke="#000" stroke-width="2.12" />
<path d="M515.6 574.3L511.8 568.4L510.0 569.2L512.0 576.1L509.1 577.8L504.8 572.3L503.2 573.4L505.8 580.1L503.2 582.3L498.5 577.4L497.1 578.8L500.3 585.2L498.0 587.9L493.0 583.6L491.8 585.3L495.5 591.4L493.6 594.5L488.3 590.9L487.3 592.9L491.5 598.4L490.0 601.9L484.6 599.1L483.8 601.3L488.4 606.3L487.3 610.0L481.8 608.1L481.3 610.4L486.2 614.8L485.6 618.8L480.1 617.7L479.8 620.2L485.0 623.9L484.8 628.1L479.4 627.8L479.4 630.4L484.8 633.3L485.0 637.7L479.8 638.3L480.0 640.9L485.5 643.0L486.2 647.4L481.2 648.9L481.7 651.5L487.2 652.8L488.3 657.2L483.7 659.5L484.4 662.1L489.9 662.5L491.4 666.9L487.1 670.0L488.2 672.5L493.4 672.1L495.3 676.2L491.6 680.1L492.8 682.6L497.8 681.2L500.1 685.2L496.9 689.7L498.3 692.0L503.0 689.9L505.6 693.6L502.9 698.7L504.6 700.9L508.9 697.9L511.7 701.2L509.7 706.9L511.5 708.8L515.3 705.1L518.4 708.1L517.1 714.2L519.0 715.9L522.3 711.5L525.6 714.0L524.9 720.5L527.0 721.9L529.7 716.8L533.1 718.9L533.1 725.6L535.2 726.7L537.3 721.1L540.8 722.7L541.5 729.6L543.6 730.4L545.1 724.3L548.6 725.3L550.0 732.2L552.1 732.7L552.9 726.3L556.4 726.7L558.5 733.6L560.6 733.7L560.6 727.0L564.0 726.9L566.7 733.6L568.7 733.4L568.1 726.5L571.4 725.9L574.7 732.3L576.6 731.7L575.3 724.8L601.4 714.0L605.2 720.0L607.0 719.1L605.1 712.2L607.9 710.6L612.2 716.1L613.8 714.9L611.2 708.2L613.8 706.0L618.5 710.9L620.0 709.5L616.8 703.1L619.0 700.4L624.0 704.7L625.3 703.0L621.6 696.9L623.5 693.9L628.7 697.4L629.7 695.5L625.5 689.9L627.0 686.4L632.5 689.2L633.3 687.1L628.6 682.0L629.7 678.3L635.2 680.2L635.8 677.9L630.8 673.5L631.5 669.5L637.0 670.6L637.3 668.1L632.0 664.5L632.3 660.2L637.7 660.5L637.7 657.9L632.3 655.0L632.1 650.7L637.3 650.1L637.0 647.4L631.5 645.3L630.9 640.9L635.9 639.4L635.3 636.8L629.8 635.5L628.7 631.1L633.4 628.8L632.6 626.2L627.2 625.8L625.7 621.4L629.9 618.3L628.9 615.8L623.6 616.2L621.7 612.1L625.5 608.2L624.2 605.8L619.2 607.1L617.0 603.1L620.2 598.6L618.7 596.3L614.0 598.4L611.5 594.7L614.1 589.6L612.5 587.5L608.2 590.4L605.3 587.1L607.3 581.4L605.5 579.5L601.7 583.2L598.6 580.2L600.0 574.1L598.0 572.4L594.7 576.8L591.5 574.3L592.1 567.8L590.1 566.4L587.4 571.5L584.0 569.4L583.9 562.7L581.8 561.6L579.7 567.2L576.3 565.6L575.5 558.7L573.4 558.0L572.0 564.0L568.4 563.0L567.0 556.1L564.9 555.6L564.1 562.1L560.7 561.6L558.6 554.7L556.5 554.6L556.4 561.3L553.0 561.4L550.3 554.7L548.3 554.9L548.9 561.8L545.6 562.4L542.4 556.0L540.4 556.6L541.7 563.5Z" fill="#fff" stroke="none" />
<path d="M601.4 714.0L605.2 720.0L607.0 719.1L605.1 712.2L607.9 710.6L612.2 716.1L613.8 714.9L611.2 708.2L613.8 706.0L618.5 710.9L620.0 709.5L616.8 703.1L619.0 700.4L624.0 704.7L625.3 703.0L621.6 696.9L623.5 693.9L628.7 697.4L629.7 695.5L625.5 689.9L627.0 686.4L632.5 689.2L633.3 687.1L628.6 682.0L629.7 678.3L635.2 680.2L635.8 677.9L630.8 673.5L631.5 669.5L637.0 670.6L637.3 668.1L632.0 664.5L632.3 660.2L637.7 660.5L637.7 657.9L632.3 655.0L632.1 650.7L637.3 650.1L637.0 647.4L631.5 645.3L630.9 640.9L635.9 639.4L635.3 636.8L629.8 635.5L628.7 631.1L633.4 628.8L632.6 626.2L627.2 625.8L625.7 621.4L629.9 618.3L628.9 615.8L623.6 616.2L621.7 612.1L625.5 608.2L624.2 605.8L619.2 607.1L617.0 603.1L620.2 598.6L618.7 596.3L614.0 598.4L611.5 594.7L614.1 589.6L612.5 587.5L608.2 590.4L605.3 587.1L607.3 581.4L605.5 579.5L601.7 583.2L598.6 580.2L600.0 574.1L598.0 572.4L594.7 576.8L591.5 574.3L592.1 567.8L590.1 566.4L587.4 571.5L584.0 569.4L583.9 562.7L581.8 561.6L579.7 567.2L576.3 565.6L575.5 558.7L573.4 558.0L572.0 564.0L568.4 563.0L567.0 556.1L564.9 555.6L564.1 562.1L560.7 561.6L558.6 554.7L556.5 554.6L556.4 561.3L553.0 561.4L550.3 554.7L548.3 554.9L548.9 561.8L545.6 562.4L542.4 556.0L540.4 556.6L541.7 563.5" fill="none" stroke="#000" stroke-width="1.62" />
<path d="M584.0 728.8L607.0 719.1M589.2 725.7L612.2 716.1M590.8 724.6L613.8 714.9M595.5 720.6L618.5 710.9M596.9 719.2L620.0 709.5M601.0 714.4L624.0 704.7M602.2 712.7L625.3 703.0M605.7 707.1L628.7 697.4M606.7 705.1L629.7 695.5M609.4 698.9L632.5 689.2M610.2 696.7L633.3 687.1M612.2 689.9L635.2 680.2M612.7 687.6L635.8 677.9M613.9 680.3L637.0 670.6M614.2 677.8L637.3 668.1M614.6 670.2L637.7 660.5M614.6 667.6L637.7 657.9M614.2 659.7L637.3 650.1M614.0 657.1L637.0 647.4M612.8 649.1L635.9 639.4M612.3 646.5L635.3 636.8M610.3 638.5L633.4 628.8M609.6 635.9L632.6 626.2M606.9 628.0L629.9 618.3M605.8 625.5L628.9 615.8M602.4 617.9L625.5 608.2M601.2 615.4L624.2 605.8M597.1 608.3L620.2 598.6M595.7 606.0L618.7 596.3M591.1 599.3L614.1 589.6M589.4 597.1L612.5 587.5M584.3 591.1L607.3 581.4M582.5 589.2L605.5 579.5M576.9 583.8L600.0 574.1M575.0 582.1L598.0 572.4M569.1 577.5L592.1 567.8M567.0 576.1L590.1 566.4M560.9 572.4L583.9 562.7M558.8 571.3L581.8 561.6M552.5 568.4L575.5 558.7M550.4 567.6L573.4 558.0M544.0 565.8L567.0 556.1M541.9 565.3L564.9 555.6M535.5 564.4L558.6 554.7M533.4 564.3L556.5 554.6M527.3 564.4L550.3 554.7M525.3 564.6L548.3 554.9M519.3 565.7L542.4 556.0M517.4 566.3L540.4 556.6" fill="none" stroke="#000" stroke-width="1.3" />
<path d="M602.2 712.7L625.3 703.0L621.3 697.3L598.3 706.9ZM606.7 705.1L629.7 695.5L625.4 690.2L602.3 699.9ZM610.2 696.7L633.3 687.1L628.5 682.4L605.5 692.1ZM612.7 687.6L635.8 677.9L630.7 674.0L607.7 683.6ZM614.2 677.8L637.3 668.1L632.0 664.9L608.9 674.6ZM614.6 667.6L637.7 657.9L632.3 655.5L609.2 665.2ZM614.0 657.1L637.0 647.4L631.6 645.8L608.5 655.5ZM612.3 646.5L635.3 636.8L629.9 636.0L606.9 645.7ZM609.6 635.9L632.6 626.2L627.3 626.2L604.3 635.9ZM605.8 625.5L628.9 615.8L623.8 616.7L600.8 626.4ZM601.2 615.4L624.2 605.8L619.5 607.5L596.4 617.2ZM595.7 606.0L618.7 596.3L614.3 598.9L591.3 608.5ZM589.4 597.1L612.5 587.5L608.5 590.8L585.4 600.5ZM582.5 589.2L605.5 579.5L602.0 583.5L579.0 593.2ZM575.0 582.1L598.0 572.4L595.1 577.1L572.0 586.8ZM567.0 576.1L590.1 566.4L587.8 571.7L564.7 581.4ZM558.8 571.3L581.8 561.6L580.1 567.4L557.1 577.1ZM550.4 567.6L573.4 558.0L572.4 564.2L549.3 573.8ZM541.9 565.3L564.9 555.6L564.5 562.1L541.5 571.8ZM533.4 564.3L556.5 554.6L556.8 561.3L533.8 571.0Z" fill="#000" stroke="#000" stroke-width="1.25" />
<path d="M578.4 723.7L582.2 729.6L584.0 728.8L582.0 721.9L584.9 720.2L589.2 725.7L590.8 724.6L588.2 717.9L590.8 715.7L595.5 720.6L596.9 719.2L593.7 712.8L596.0 710.1L601.0 714.4L602.2 712.7L598.5 706.6L600.4 703.5L605.7 707.1L606.7 705.1L602.5 699.6L604.0 696.1L609.4 698.9L610.2 696.7L605.6 691.7L606.7 688.0L612.2 689.9L612.7 687.6L607.8 683.2L608.4 679.2L613.9 680.3L614.2 677.8L609.0 674.1L609.2 669.9L614.6 670.2L614.6 667.6L609.2 664.7L609.0 660.3L614.2 659.7L614.0 657.1L608.5 655.0L607.8 650.6L612.8 649.1L612.3 646.5L606.8 645.2L605.7 640.8L610.3 638.5L609.6 635.9L604.1 635.5L602.6 631.1L606.9 628.0L605.8 625.5L600.6 625.9L598.7 621.8L602.4 617.9L601.2 615.4L596.2 616.8L593.9 612.8L597.1 608.3L595.7 606.0L591.0 608.1L588.4 604.4L591.1 599.3L589.4 597.1L585.1 600.1L582.3 596.8L584.3 591.1L582.5 589.2L578.7 592.9L575.6 589.9L576.9 583.8L575.0 582.1L571.7 586.5L568.4 584.0L569.1 577.5L567.0 576.1L564.3 581.2L560.9 579.1L560.9 572.4L558.8 571.3L556.7 576.9L553.2 575.3L552.5 568.4L550.4 567.6L548.9 573.7L545.4 572.7L544.0 565.8L541.9 565.3L541.1 571.7L537.6 571.3L535.5 564.4L533.4 564.3L533.4 571.0L530.0 571.1L527.3 564.4L525.3 564.6L525.9 571.5L522.6 572.1L519.3 565.7L517.4 566.3L518.7 573.2L515.6 574.3L511.8 568.4L510.0 569.2L512.0 576.1L509.1 577.8L504.8 572.3L503.2 573.4L505.8 580.1L503.2 582.3L498.5 577.4L497.1 578.8L500.3 585.2L498.0 587.9L493.0 583.6L491.8 585.3L495.5 591.4L493.6 594.5L488.3 590.9L487.3 592.9L491.5 598.4L490.0 601.9L484.6 599.1L483.8 601.3L488.4 606.3L487.3 610.0L481.8 608.1L481.3 610.4L486.2 614.8L485.6 618.8L480.1 617.7L479.8 620.2L485.0 623.9L484.8 628.1L479.4 627.8L479.4 630.4L484.8 633.3L485.0 637.7L479.8 638.3L480.0 640.9L485.5 643.0L486.2 647.4L481.2 648.9L481.7 651.5L487.2 652.8L488.3 657.2L483.7 659.5L484.4 662.1L489.9 662.5L491.4 666.9L487.1 670.0L488.2 672.5L493.4 672.1L495.3 676.2L491.6 680.1L492.8 682.6L497.8 681.2L500.1 685.2L496.9 689.7L498.3 692.0L503.0 689.9L505.6 693.6L502.9 698.7L504.6 700.9L508.9 697.9L511.7 701.2L509.7 706.9L511.5 708.8L515.3 705.1L518.4 708.1L517.1 714.2L519.0 715.9L522.3 711.5L525.6 714.0L524.9 720.5L527.0 721.9L529.7 716.8L533.1 718.9L533.1 725.6L535.2 726.7L537.3 721.1L540.8 722.7L541.5 729.6L543.6 730.4L545.1 724.3L548.6 725.3L550.0 732.2L552.1 732.7L552.9 726.3L556.4 726.7L558.5 733.6L560.6 733.7L560.6 727.0L564.0 726.9L566.7 733.6L568.7 733.4L568.1 726.5L571.4 725.9L574.7 732.3L576.6 731.7L575.3 724.8Z" fill="none" stroke="#000" stroke-width="1.62" />
<path d="M518.9 572.1L515.2 573.4L511.5 567.4L510.4 567.9L512.4 574.8L509.1 576.9L504.9 571.4L504.0 572.2L506.6 578.9L503.7 581.8L499.2 577.0L498.5 578.0L501.6 584.5L499.3 588.2L494.5 584.1L493.9 585.3L497.6 591.4L495.7 595.7L490.9 592.5L490.4 593.9L494.5 599.5L493.3 604.4L488.4 602.0L488.1 603.6L492.5 608.6L491.9 613.9L487.1 612.5L487.0 614.2L491.7 618.4L491.7 624.2L487.0 623.8L487.1 625.5L491.9 629.0L492.5 634.9L488.1 635.5L488.4 637.3L493.3 639.9L494.5 646.0L490.5 647.6L490.9 649.4L495.8 651.0L497.6 657.1L494.0 659.6L494.6 661.4L499.3 662.1L501.6 668.1L498.5 671.4L499.3 673.2L503.8 672.9L506.6 678.6L504.1 682.8L505.0 684.5L509.1 683.2L512.4 688.6L510.5 693.5L511.5 695.1L515.3 692.8L518.9 697.7L517.7 703.3L518.8 704.7L522.1 701.6L526.0 705.9L525.4 712.0L526.6 713.2L529.4 709.2L533.5 712.9L533.6 719.4L534.9 720.4L537.0 715.6L541.3 718.6L542.1 725.4L543.4 726.1L544.9 720.7L549.2 722.9L550.7 729.8L552.0 730.3L552.8 724.3L557.1 725.7L559.2 732.5L560.4 732.8L560.5 726.4L564.7 726.9L567.4 733.6L568.6 733.6L568.0 726.9L572.0 726.5L575.3 732.9L576.4 732.7L575.1 725.9L578.8 724.6L582.5 730.6L583.6 730.1" fill="none" stroke="#000" stroke-width="2.12" />
<ellipse cx="547.0" cy="649.0" rx="50.4" ry="84.0" transform="rotate(-22.8 547.0 649.0)" fill="#fff" stroke="#000" stroke-width="1.62" />
<ellipse cx="547.0" cy="649.0" rx="48.0" ry="80.0" transform="rotate(-22.8 547.0 649.0)" fill="none" stroke="#000" stroke-width="1.25" />
<path d="M574.9 715.4L577.6 718.6L578.1 718.3L577.6 714.1L580.1 712.5L582.9 715.2L583.4 714.8L582.4 710.6L584.6 708.4L587.6 710.7L588.0 710.2L586.6 705.9L588.5 703.2L591.5 705.0L591.8 704.4L590.1 700.2L591.5 697.0L594.6 698.3L594.8 697.5L592.8 693.6L593.8 689.9L596.7 690.6L596.9 689.8L594.6 686.1L595.1 682.1L598.0 682.2L598.1 681.3L595.5 677.9L595.6 673.6L598.3 673.1L598.3 672.2L595.5 669.2L595.2 664.7L597.7 663.6L597.6 662.6L594.6 660.1L593.9 655.5L596.1 653.8L595.9 652.9L592.9 650.8L591.7 646.1L593.6 644.0L593.3 643.0L590.3 641.5L588.6 636.8L590.2 634.2L589.8 633.2L586.8 632.3L584.8 627.8L586.0 624.7L585.6 623.8L582.7 623.4L580.3 619.1L581.1 615.7L580.6 614.8L577.8 615.0L575.2 611.0L575.6 607.3L575.0 606.5L572.4 607.2L569.5 603.6L569.5 599.6L568.9 598.9L566.5 600.2L563.4 597.0L563.0 592.9L562.4 592.3L560.3 594.1L557.1 591.5L556.2 587.2L555.6 586.7L553.8 589.1L550.5 586.9L549.3 582.7L548.6 582.3L547.2 585.1L543.9 583.6L542.3 579.4L541.6 579.1L540.5 582.4L537.3 581.5L535.4 577.4L534.7 577.3L534.0 580.9L530.9 580.6L528.7 576.7L528.0 576.8L527.8 580.6L524.8 581.0L522.3 577.4L521.7 577.6L521.9 581.6L519.1 582.6L516.4 579.4L515.9 579.7L516.4 583.9L513.9 585.5L511.1 582.8L510.6 583.2L511.6 587.4L509.4 589.6L506.4 587.3L506.0 587.8L507.4 592.1L505.5 594.8L502.5 593.0L502.2 593.6L503.9 597.8L502.5 601.0L499.4 599.7L499.2 600.5L501.2 604.4L500.2 608.1L497.3 607.4L497.1 608.2L499.4 611.9L498.9 615.9L496.0 615.8L495.9 616.7L498.5 620.1L498.4 624.4L495.7 624.9L495.7 625.8L498.5 628.8L498.8 633.3L496.3 634.4L496.4 635.4L499.4 637.9L500.1 642.5L497.9 644.2L498.1 645.1L501.1 647.2L502.3 651.9L500.4 654.0L500.7 655.0L503.7 656.5L505.4 661.2L503.8 663.8L504.2 664.8L507.2 665.7L509.2 670.2L508.0 673.3L508.4 674.2L511.3 674.6L513.7 678.9L512.9 682.3L513.4 683.2L516.2 683.0L518.8 687.0L518.4 690.7L519.0 691.5L521.6 690.8L524.5 694.4L524.5 698.4L525.1 699.1L527.5 697.8L530.6 701.0L531.0 705.1L531.6 705.7L533.7 703.9L536.9 706.5L537.8 710.8L538.4 711.3L540.2 708.9L543.5 711.1L544.7 715.3L545.4 715.7L546.8 712.9L550.1 714.4L551.7 718.6L552.4 718.9L553.5 715.6L556.7 716.5L558.6 720.6L559.3 720.7L560.0 717.1L563.1 717.4L565.3 721.3L566.0 721.2L566.2 717.4L569.2 717.0L571.7 720.6L572.3 720.4L572.1 716.4L574.9 715.4Z" fill="none" stroke="#000" stroke-width="1.88" />
<path d="M584.7 712.3L585.2 711.9L584.7 708.6L586.9 706.4L589.3 707.9L589.7 707.4L588.8 704.0L590.6 701.3L593.1 702.4L593.4 701.7L592.3 698.4L593.7 695.2L596.1 695.8L596.3 695.1L594.9 691.8L595.9 688.2L598.2 688.3L598.4 687.6L596.7 684.4L597.2 680.4L599.4 680.1L599.5 679.3L597.6 676.3L597.7 672.1L599.7 671.3L599.7 670.4L597.6 667.7L597.3 663.3L599.1 662.1L599.0 661.1L596.7 658.8L596.0 654.2L597.6 652.6L597.4 651.6L595.0 649.6L593.8 645.0L595.1 643.0L594.8 642.0L592.4 640.4L590.8 635.8L591.8 633.4L591.5 632.5L589.0 631.3L587.1 626.9L587.8 624.2L587.3 623.3L584.9 622.6L582.6 618.4L583.0 615.4L582.5 614.5L580.2 614.3L577.6 610.4L577.6 607.2L577.0 606.4L574.8 606.6L572.0 603.1L571.7 599.8L571.1 599.1L569.0 599.7L566.0 596.6L565.4 593.2L564.7 592.6L562.9 593.7L559.7 591.1L558.8 587.7L558.1 587.2L556.5 588.7L553.2 586.6L552.0 583.3L551.3 582.9L549.9 584.8L546.7 583.3L545.2 580.1L544.5 579.8L543.4 582.1L540.2 581.2L538.4 578.1L537.8 578.0L537.0 580.6L533.9 580.4L531.9 577.5L531.3 577.5L530.8 580.4" fill="none" stroke="#000" stroke-width="1.25" />
<ellipse cx="540.0" cy="653.0" rx="39.6" ry="66.0" transform="rotate(-22.8 540.0 653.0)" fill="none" stroke="#000" stroke-width="1.5" />
<ellipse cx="540.0" cy="653.0" rx="35.4" ry="59.0" transform="rotate(-22.8 540.0 653.0)" fill="#fff" stroke="#000" stroke-width="1.75" />
<g clip-path="url(#c19)"><path d="M560.5 701.9L564.3 699.8L567.6 696.9L570.4 693.2L572.6 688.8L574.3 683.7L575.4 678.1L575.8 672.1L575.6 665.7L574.7 659.1L573.3 652.3L571.2 645.6L568.6 639.1L565.5 632.7L561.9 626.8L557.9 621.3L553.7 616.3L549.1 612.0L544.4 608.5L539.7 605.7L534.9 603.8L530.2 602.8L525.7 602.7L521.5 603.4L517.5 605.1L514.0 607.6L511.0 610.9L508.4 615.0L506.5 619.7L505.1 625.0L504.4 630.9L504.2 637.1L504.8 643.6L505.9 650.3L507.7 657.0L510.0 663.7L512.9 670.2L516.2 676.3L520.0 682.1L524.2 687.3L528.6 691.9L533.2 695.8L538.0 699.0L542.7 701.3L547.5 702.8L552.1 703.4L556.4 703.1L560.5 701.9ZM584.5 691.8L588.2 689.7L591.5 686.8L594.3 683.1L596.6 678.7L598.3 673.6L599.3 668.0L599.8 662.0L599.5 655.6L598.7 649.0L597.2 642.3L595.2 635.6L592.6 629.0L589.5 622.6L585.9 616.7L581.9 611.2L577.6 606.2L573.1 602.0L568.4 598.4L563.6 595.7L558.9 593.8L554.2 592.7L549.7 592.6L545.4 593.4L541.5 595.0L538.0 597.5L535.0 600.8L532.4 604.9L530.4 609.6L529.1 615.0L528.3 620.8L528.2 627.0L528.7 633.5L529.9 640.2L531.6 646.9L534.0 653.6L536.9 660.1L540.2 666.2L544.0 672.0L548.1 677.2L552.6 681.8L557.2 685.7L561.9 688.9L566.7 691.2L571.4 692.7L576.0 693.3L580.4 693.0L584.5 691.8Z" fill="#fff" fill-rule="evenodd"/><path d="M535.0 603.9L530.1 602.8L525.3 602.7L520.9 603.6L516.8 605.5L513.2 608.4L510.1 612.1L507.6 616.7L505.8 621.9L504.7 627.8L504.2 634.3L528.2 624.2L528.6 617.8L529.8 611.9L531.6 606.6L534.1 602.0L537.2 598.3L540.8 595.4L544.8 593.5L549.3 592.6L554.0 592.7L559.0 593.8Z" fill="#000"/><path d="M568.6 695.7L571.3 691.6L573.4 686.8L574.8 681.3L575.6 675.4L575.8 669.0L575.2 662.3L574.0 655.4L572.2 648.5L596.1 638.4L598.0 645.3L599.2 652.2L599.7 658.9L599.6 665.3L598.8 671.3L597.3 676.7L595.2 681.5L592.6 685.6Z" fill="#000"/><path d="M584.5 691.8L588.2 689.7L591.5 686.8L594.3 683.1L596.6 678.7L598.3 673.6L599.3 668.0L599.8 662.0L599.5 655.6L598.7 649.0L597.2 642.3L595.2 635.6L592.6 629.0L589.5 622.6L585.9 616.7L581.9 611.2L577.6 606.2L573.1 602.0L568.4 598.4L563.6 595.7L558.9 593.8L554.2 592.7L549.7 592.6L545.4 593.4L541.5 595.0L538.0 597.5L535.0 600.8L532.4 604.9L530.4 609.6L529.1 615.0L528.3 620.8L528.2 627.0L528.7 633.5L529.9 640.2L531.6 646.9L534.0 653.6L536.9 660.1L540.2 666.2L544.0 672.0L548.1 677.2L552.6 681.8L557.2 685.7L561.9 688.9L566.7 691.2L571.4 692.7L576.0 693.3L580.4 693.0L584.5 691.8Z" fill="none" stroke="#000" stroke-width="1.0"/></g>
<ellipse cx="540.0" cy="653.0" rx="31.8" ry="53.0" transform="rotate(-22.8 540.0 653.0)" fill="none" stroke="#000" stroke-width="2.25" />
<path d="M470.0 680.0L483.0 677.0" stroke="#000" stroke-width="1.4"/>
<path d="M515.0 663.0L556.0 646.0" stroke="#000" stroke-width="1.4"/>
<path d="M433.7 617.6L429.9 619.6L426.5 622.2L423.3 625.3L420.6 629.1L418.2 633.4L416.3 638.1L414.8 643.3L413.7 648.9L413.1 654.8L413.0 661.0L413.3 667.5L414.1 674.1L415.4 680.8L417.1 687.5L419.2 694.2L421.8 700.7L424.7 707.2L428.0 713.4L431.6 719.3L435.5 724.9L439.6 730.1L444.0 734.8L448.5 739.0L453.2 742.8L457.9 745.9L462.7 748.5L467.4 750.4L472.1 751.7L476.7 752.4L481.2 752.4L485.5 751.7L489.5 750.4L501.3 745.4L505.1 743.5L508.5 740.9L511.7 737.7L514.4 734.0L516.8 729.7L518.7 724.9L520.2 719.7L521.3 714.1L521.9 708.2L522.0 702.0L521.7 695.6L520.9 689.0L519.6 682.3L517.9 675.6L515.8 668.9L513.2 662.3L510.3 655.9L507.0 649.7L503.4 643.8L499.5 638.2L495.4 633.0L491.0 628.2L486.5 624.0L481.8 620.3L477.1 617.1L472.3 614.6L467.6 612.6L462.9 611.3L458.3 610.7L453.8 610.7L449.5 611.3L445.5 612.7ZM485.0 739.8L488.8 737.7L492.1 735.0L495.1 731.6L497.6 727.5L499.6 722.9L501.1 717.7L502.0 712.0L502.4 706.0L502.3 699.7L501.6 693.2L500.4 686.5L498.6 679.8L496.4 673.2L493.6 666.7L490.5 660.5L486.9 654.5L483.0 649.0L478.9 643.9L474.4 639.4L469.8 635.5L465.1 632.3L460.4 629.7L455.7 627.9L451.0 626.8L446.5 626.5L442.2 627.0L438.2 628.2L434.4 630.3L431.1 633.0L428.1 636.4L425.6 640.5L423.6 645.1L422.1 650.3L421.2 656.0L420.8 662.0L420.9 668.3L421.6 674.8L422.8 681.5L424.6 688.2L426.8 694.8L429.6 701.3L432.7 707.5L436.3 713.5L440.2 719.0L444.3 724.1L448.8 728.6L453.4 732.5L458.1 735.7L462.8 738.3L467.5 740.1L472.2 741.2L476.7 741.5L481.0 741.0L485.0 739.8Z" fill="#fff" stroke="none" fill-rule="evenodd"/>
<path d="M433.7 617.6L429.9 619.6L426.5 622.2L423.3 625.3L420.6 629.1L418.2 633.4L416.3 638.1L414.8 643.3L413.7 648.9L413.1 654.8L413.0 661.0L413.3 667.5L414.1 674.1L415.4 680.8L417.1 687.5L419.2 694.2L421.8 700.7L424.7 707.2L428.0 713.4L431.6 719.3L435.5 724.9L439.6 730.1L444.0 734.8L448.5 739.0L453.2 742.8L457.9 745.9L462.7 748.5L467.4 750.4L472.1 751.7L476.7 752.4L481.2 752.4L485.5 751.7L489.5 750.4L501.3 745.4L505.1 743.5L508.5 740.9L511.7 737.7L514.4 734.0L516.8 729.7L518.7 724.9L520.2 719.7L521.3 714.1L521.9 708.2L522.0 702.0L521.7 695.6L520.9 689.0L519.6 682.3L517.9 675.6L515.8 668.9L513.2 662.3L510.3 655.9L507.0 649.7L503.4 643.8L499.5 638.2L495.4 633.0L491.0 628.2L486.5 624.0L481.8 620.3L477.1 617.1L472.3 614.6L467.6 612.6L462.9 611.3L458.3 610.7L453.8 610.7L449.5 611.3L445.5 612.7Z" fill="none" stroke="#000" stroke-width="2.12" />
<path d="M489.5 750.4L493.3 748.4L496.7 745.8L499.9 742.7L502.6 738.9L505.0 734.6L506.9 729.9L508.4 724.7L509.5 719.1L510.1 713.2L510.2 707.0L509.9 700.5L509.1 693.9L507.8 687.2L506.1 680.5L504.0 673.8L501.4 667.3L498.5 660.8L495.2 654.6L491.6 648.7L487.7 643.1L483.6 637.9L479.2 633.2L474.7 629.0L470.0 625.2L465.3 622.1L460.5 619.5L455.8 617.6L451.1 616.3L446.5 615.6L442.0 615.6L437.7 616.3L433.7 617.6" fill="none" stroke="#000" stroke-width="1.38" />
<ellipse cx="461.6" cy="684.0" rx="40.8" ry="68.0" transform="rotate(-22.8 461.6 684.0)" fill="none" stroke="#000" stroke-width="1.25" />
<ellipse cx="461.6" cy="684.0" rx="39.0" ry="65.0" transform="rotate(-22.8 461.6 684.0)" fill="none" stroke="#000" stroke-width="1.62" />
<ellipse cx="461.6" cy="684.0" rx="36.3" ry="60.5" transform="rotate(-22.8 461.6 684.0)" fill="#fff" stroke="#000" stroke-width="2.12" />
<path d="M500.4 726.7L513.7 714.9L515.9 690.7L510.4 663.5L494.8 640.5L476.0 625.1L458.2 626.4L444.9 638.2L442.7 662.4L448.2 689.6L463.8 712.6L482.6 728.0L500.4 726.7Z" fill="none" stroke="#000" stroke-width="1.62" />
<path d="M514.3 720.1h4.4v4.4h-4.4ZM515.6 713.1h4.4v4.4h-4.4ZM516.1 705.5h4.4v4.4h-4.4ZM515.9 697.6h4.4v4.4h-4.4ZM515.0 689.3h4.4v4.4h-4.4ZM513.4 681.0h4.4v4.4h-4.4ZM511.1 672.5h4.4v4.4h-4.4ZM493.8 638.0h4.4v4.4h-4.4ZM487.5 630.3h4.4v4.4h-4.4ZM480.8 623.5h4.4v4.4h-4.4ZM473.9 617.9h4.4v4.4h-4.4ZM466.7 613.6h4.4v4.4h-4.4ZM459.6 610.7h4.4v4.4h-4.4Z" fill="#fff" stroke="#000" stroke-width="1.62" />
<path d="M496.6 734.8L517.2 726.7L521.2 735.7L500.6 744.8Z" fill="#fff" stroke="#000" stroke-width="1.88" />
<path d="M440.6 615.5L457.1 607.0L462.1 609.0L462.1 615.0L445.6 623.5L440.6 621.5Z" fill="#fff" stroke="#000" stroke-width="1.75" />
<path d="M447.0 692.0L483.0 678.0" stroke="#000" stroke-width="1.4"/>
<path d="M360.0 664.8L356.2 666.9L352.8 669.7L349.9 673.2L347.4 677.4L345.5 682.3L344.1 687.6L343.3 693.4L343.0 699.6L343.3 706.1L344.2 712.8L345.7 719.5L347.7 726.3L350.2 732.9L353.2 739.4L356.6 745.6L360.4 751.3L364.6 756.6L369.0 761.4L373.6 765.6L378.3 769.0L383.1 771.8L387.9 773.8L392.6 774.9L397.2 775.3L401.6 774.9L405.7 773.6L424.1 765.9L427.9 763.8L431.3 761.0L434.2 757.5L436.7 753.3L438.6 748.4L440.0 743.1L440.9 737.3L441.1 731.1L440.8 724.6L439.9 717.9L438.4 711.2L436.4 704.4L433.9 697.8L430.9 691.3L427.5 685.1L423.7 679.4L419.6 674.1L415.2 669.3L410.5 665.1L405.8 661.7L401.0 658.9L396.2 656.9L391.5 655.8L386.9 655.4L382.5 655.8L378.4 657.1Z" fill="#fff" stroke="#000" stroke-width="1.62" />
<path d="M402.7 761.8L405.7 759.6L408.4 756.8L410.6 753.3L412.4 749.3L413.7 744.7L414.4 739.7L429.1 749.9L428.3 755.8L431.8 760.8L431.2 763.2L426.9 761.3L425.1 766.3L428.1 771.9L427.1 773.9L422.8 770.8L420.1 774.8L422.3 780.8L421.0 782.2L416.9 778.1L413.4 780.8L414.9 786.9Z" fill="#fff" stroke="none" />
<path d="M414.9 786.9L413.4 780.8L416.9 778.1L421.0 782.2L422.3 780.8L420.1 774.8L422.8 770.8L427.1 773.9L428.1 771.9L425.1 766.3L426.9 761.3L431.2 763.2L431.8 760.8L428.3 755.8L429.1 749.9L447.5 742.1L446.7 748.0L450.3 753.0L449.7 755.4L445.3 753.5L443.5 758.5L446.5 764.2L445.5 766.1L441.2 763.1L438.5 767.0L440.8 773.0L439.4 774.5L435.4 770.4L431.9 773.1L433.3 779.2Z" fill="#fff" stroke="none" />
<path d="M433.3 779.2L431.9 773.1L435.4 770.4L439.4 774.5L440.8 773.0L438.5 767.0L441.2 763.1L445.5 766.1L446.5 764.2L443.5 758.5L445.3 753.5L449.7 755.4L450.3 753.0L446.7 748.0L447.5 742.1" fill="none" stroke="#000" stroke-width="1.88" />
<path d="M421.0 782.2L439.4 774.5M422.3 780.8L440.8 773.0M427.1 773.9L445.5 766.1M428.1 771.9L446.5 764.2M431.2 763.2L449.7 755.4M431.8 760.8L450.3 753.0" fill="none" stroke="#000" stroke-width="1.38" />
<path d="M422.3 780.8L440.8 773.0L438.3 767.2L419.9 775.0ZM428.1 771.9L446.5 764.2L443.4 758.8L425.0 766.6ZM431.8 760.8L450.3 753.0L446.6 748.4L428.2 756.1Z" fill="#000" stroke="#000" stroke-width="1.12" />
<path d="M414.9 786.9L413.4 780.8L416.9 778.1L421.0 782.2L422.3 780.8L420.1 774.8L422.8 770.8L427.1 773.9L428.1 771.9L425.1 766.3L426.9 761.3L431.2 763.2L431.8 760.8L428.3 755.8L429.1 749.9" fill="none" stroke="#000" stroke-width="2.12" />
<path d="M402.7 761.8L414.5 787.1L432.9 779.4" fill="none" stroke="#000" stroke-width="1.62" />
<path d="M414.4 739.7L433.2 751.9L451.6 744.1" fill="none" stroke="#000" stroke-width="1.62" />
<path d="M414.5 731.9L414.0 726.9L413.1 721.8L411.8 716.6L410.1 711.5L408.1 706.5L405.7 701.7L420.0 692.6L418.0 696.6L421.0 703.2L425.2 704.0L426.3 706.9L423.6 709.9L425.7 716.8L430.1 718.8L430.8 721.8L427.4 723.6L428.6 730.4L432.8 733.6L433.1 736.5L429.3 737.1Z" fill="#fff" stroke="none" />
<path d="M429.3 737.1L433.1 736.5L432.8 733.6L428.6 730.4L427.4 723.6L430.8 721.8L430.1 718.8L425.7 716.8L423.6 709.9L426.3 706.9L425.2 704.0L421.0 703.2L418.0 696.6L420.0 692.6L438.4 684.8L436.4 688.9L439.4 695.4L443.7 696.2L444.8 699.1L442.0 702.2L444.2 709.0L448.5 711.0L449.2 714.0L445.8 715.9L447.0 722.7L451.3 725.9L451.6 728.8L447.7 729.4Z" fill="#fff" stroke="none" />
<path d="M447.7 729.4L451.6 728.8L451.3 725.9L447.0 722.7L445.8 715.9L449.2 714.0L448.5 711.0L444.2 709.0L442.0 702.2L444.8 699.1L443.7 696.2L439.4 695.4L436.4 688.9L438.4 684.8" fill="none" stroke="#000" stroke-width="1.88" />
<path d="M433.1 736.5L451.6 728.8M432.8 733.6L451.3 725.9M430.8 721.8L449.2 714.0M430.1 718.8L448.5 711.0M426.3 706.9L444.8 699.1M425.2 704.0L443.7 696.2" fill="none" stroke="#000" stroke-width="1.38" />
<path d="M432.8 733.6L451.3 725.9L447.1 723.1L428.6 730.8ZM430.1 718.8L448.5 711.0L444.3 709.4L425.8 717.2ZM425.2 704.0L443.7 696.2L439.6 695.8L421.2 703.6Z" fill="#000" stroke="#000" stroke-width="1.12" />
<path d="M429.3 737.1L433.1 736.5L432.8 733.6L428.6 730.4L427.4 723.6L430.8 721.8L430.1 718.8L425.7 716.8L423.6 709.9L426.3 706.9L425.2 704.0L421.0 703.2L418.0 696.6L420.0 692.6" fill="none" stroke="#000" stroke-width="2.12" />
<path d="M414.5 731.9L433.3 739.4L451.8 731.7" fill="none" stroke="#000" stroke-width="1.62" />
<path d="M405.7 701.7L419.3 691.2L437.7 683.4" fill="none" stroke="#000" stroke-width="1.62" />
<path d="M401.1 694.3L396.6 688.4L391.6 683.5L386.4 679.5L381.1 676.6L375.8 675.0L370.7 674.6L369.2 653.8L369.6 648.3L371.6 648.6L373.9 654.6L378.8 656.1L380.0 651.3L382.1 652.2L383.6 658.3L388.5 661.2L390.6 657.3L392.7 658.8L393.3 664.7L398.0 668.9L400.8 665.9L402.8 668.0L402.5 673.5L406.8 678.7L410.3 677.0L412.0 679.4Z" fill="#fff" stroke="none" />
<path d="M412.0 679.4L410.3 677.0L406.8 678.7L402.5 673.5L402.8 668.0L400.8 665.9L398.0 668.9L393.3 664.7L392.7 658.8L390.6 657.3L388.5 661.2L383.6 658.3L382.1 652.2L380.0 651.3L378.8 656.1L373.9 654.6L371.6 648.6L369.6 648.3L369.2 653.8L387.6 646.0L388.0 640.5L390.0 640.9L392.4 646.8L397.2 648.4L398.4 643.5L400.6 644.5L402.1 650.6L406.9 653.5L409.0 649.5L411.1 651.0L411.8 657.0L416.4 661.1L419.3 658.2L421.2 660.2L421.0 665.8L425.3 670.9L428.7 669.2L430.5 671.6Z" fill="#fff" stroke="none" />
<path d="M430.5 671.6L428.7 669.2L425.3 670.9L421.0 665.8L421.2 660.2L419.3 658.2L416.4 661.1L411.8 657.0L411.1 651.0L409.0 649.5L406.9 653.5L402.1 650.6L400.6 644.5L398.4 643.5L397.2 648.4L392.4 646.8L390.0 640.9L388.0 640.5L387.6 646.0" fill="none" stroke="#000" stroke-width="1.88" />
<path d="M412.0 679.4L430.5 671.6M410.3 677.0L428.7 669.2M402.8 668.0L421.2 660.2M400.8 665.9L419.3 658.2M392.7 658.8L411.1 651.0M390.6 657.3L409.0 649.5M382.1 652.2L400.6 644.5M380.0 651.3L398.4 643.5M371.6 648.6L390.0 640.9M369.6 648.3L388.0 640.5" fill="none" stroke="#000" stroke-width="1.38" />
<path d="M410.3 677.0L428.7 669.2L425.5 671.3L407.1 679.0ZM400.8 665.9L419.3 658.2L416.7 661.4L398.3 669.1ZM390.6 657.3L409.0 649.5L407.2 653.7L388.8 661.4ZM380.0 651.3L398.4 643.5L397.5 648.5L379.1 656.2ZM369.6 648.3L388.0 640.5L387.9 646.1L369.5 653.8Z" fill="#000" stroke="#000" stroke-width="1.12" />
<path d="M412.0 679.4L410.3 677.0L406.8 678.7L402.5 673.5L402.8 668.0L400.8 665.9L398.0 668.9L393.3 664.7L392.7 658.8L390.6 657.3L388.5 661.2L383.6 658.3L382.1 652.2L380.0 651.3L378.8 656.1L373.9 654.6L371.6 648.6L369.6 648.3L369.2 653.8" fill="none" stroke="#000" stroke-width="2.12" />
<path d="M401.1 694.3L412.0 679.4L430.5 671.6" fill="none" stroke="#000" stroke-width="1.62" />
<path d="M370.7 674.6L363.5 647.9L382.0 640.2" fill="none" stroke="#000" stroke-width="1.62" />
<path d="M368.3 674.3L364.8 676.3L361.8 679.1L359.2 682.7L357.2 686.9L355.8 691.8L355.0 697.2L340.3 687.0L341.1 681.1L337.6 676.1L338.1 673.7L342.5 675.6L344.3 670.6L341.3 665.0L342.3 663.0L346.6 666.1L349.3 662.1L347.0 656.1L348.4 654.7L352.4 658.8L355.9 656.1L354.5 650.0L356.2 649.1L359.8 654.1Z" fill="#fff" stroke="#000" stroke-width="2.12" />
<path d="M358.9 659.0L355.1 661.6L351.7 665.1L348.8 669.3L346.4 674.1L344.6 679.6L343.4 685.6L347.3 688.6L348.5 683.1L350.1 678.2L352.3 673.7L354.9 669.9L358.0 666.8L361.4 664.4Z" fill="#000" stroke="#000" stroke-width="1.0" />
<path d="M356.2 714.7L357.4 719.8L359.1 724.9L361.1 730.0L363.5 734.8L366.1 739.4L369.1 743.8L357.3 757.5L358.5 752.6L354.8 746.6L350.8 747.1L349.4 744.3L351.4 740.3L348.4 733.7L344.2 732.9L343.0 730.0L345.8 727.0L343.6 720.1L339.3 718.1L338.6 715.1L342.0 713.3Z" fill="#fff" stroke="#000" stroke-width="2.12" />
<path d="M345.6 717.9L347.2 723.5L349.1 729.1L351.4 734.7L353.9 740.0L356.8 745.2L359.9 750.2L362.3 747.2L359.5 742.7L357.0 738.0L354.6 733.1L352.6 728.1L350.8 723.0L349.3 717.8Z" fill="#000" stroke="#000" stroke-width="1.0" />
<path d="M378.1 753.7L382.3 757.0L386.7 759.5L391.0 761.2L395.2 762.2L399.2 762.3L403.1 761.6L409.1 782.6L409.7 788.5L407.8 788.8L404.8 783.2L400.2 783.1L399.8 788.6L397.8 788.3L395.4 782.3L390.6 780.8L389.4 785.6L387.3 784.7L385.7 778.6L380.9 775.7L378.8 779.6L376.7 778.1L376.1 772.2Z" fill="#fff" stroke="#000" stroke-width="2.12" />
<path d="M377.9 769.9L382.8 773.3L387.7 776.0L392.7 777.9L397.5 779.1L402.2 779.5L406.7 779.1L404.9 773.4L400.8 773.8L396.5 773.4L392.1 772.4L387.6 770.6L383.1 768.2L378.7 765.1Z" fill="#000" stroke="#000" stroke-width="1.0" />
<path d="M362.8 676.7L359.1 678.8L355.9 681.8L353.3 685.7L351.3 690.4L350.0 695.7L349.3 701.5L349.4 707.8L350.1 714.3L351.6 721.0L353.7 727.7L356.4 734.1L359.7 740.3L363.5 746.0L367.6 751.1L372.0 755.6L376.7 759.2L381.4 762.0L386.1 763.8L390.7 764.6L395.1 764.5L399.2 763.3L404.7 761.0L408.4 758.9L411.6 755.9L414.2 752.0L416.2 747.3L417.6 742.0L418.2 736.1L418.2 729.9L417.4 723.3L415.9 716.7L413.8 710.0L411.1 703.5L407.8 697.4L404.1 691.7L399.9 686.5L395.5 682.1L390.9 678.5L386.1 675.7L381.4 673.9L376.8 673.1L372.4 673.2L368.3 674.3ZM393.8 750.4L397.4 748.1L400.3 744.4L402.2 739.6L403.2 733.8L403.1 727.5L402.0 720.7L399.9 714.0L396.9 707.5L393.2 701.6L388.9 696.6L384.3 692.6L379.5 690.0L374.7 688.7L370.3 688.9L366.3 690.6L363.1 693.6L360.6 697.9L359.2 703.2L358.7 709.3L359.3 715.9L360.9 722.7L363.5 729.3L366.8 735.5L370.9 741.0L375.4 745.5L380.1 748.9L384.9 750.8L389.6 751.4L393.8 750.4Z" fill="#fff" stroke="none" fill-rule="evenodd"/>
<path d="M362.8 676.7L359.1 678.8L355.9 681.8L353.3 685.7L351.3 690.4L350.0 695.7L349.3 701.5L349.4 707.8L350.1 714.3L351.6 721.0L353.7 727.7L356.4 734.1L359.7 740.3L363.5 746.0L367.6 751.1L372.0 755.6L376.7 759.2L381.4 762.0L386.1 763.8L390.7 764.6L395.1 764.5L399.2 763.3L404.7 761.0L408.4 758.9L411.6 755.9L414.2 752.0L416.2 747.3L417.6 742.0L418.2 736.1L418.2 729.9L417.4 723.3L415.9 716.7L413.8 710.0L411.1 703.5L407.8 697.4L404.1 691.7L399.9 686.5L395.5 682.1L390.9 678.5L386.1 675.7L381.4 673.9L376.8 673.1L372.4 673.2L368.3 674.3Z" fill="none" stroke="#000" stroke-width="2.12" />
<path d="M399.2 763.3L402.9 761.2L406.1 758.2L408.7 754.3L410.7 749.6L412.0 744.3L412.7 738.5L412.6 732.2L411.9 725.7L410.4 719.0L408.3 712.3L405.6 705.9L402.3 699.7L398.5 694.0L394.4 688.9L390.0 684.4L385.3 680.8L380.6 678.0L375.9 676.2L371.3 675.4L366.9 675.5L362.8 676.7" fill="none" stroke="#000" stroke-width="1.38" />
<g clip-path="url(#c20)"><path d="M393.8 750.4L397.4 748.1L400.3 744.4L402.2 739.6L403.2 733.8L403.1 727.5L402.0 720.7L399.9 714.0L396.9 707.5L393.2 701.6L388.9 696.6L384.3 692.6L379.5 690.0L374.7 688.7L370.3 688.9L366.3 690.6L363.1 693.6L360.6 697.9L359.2 703.2L358.7 709.3L359.3 715.9L360.9 722.7L363.5 729.3L366.8 735.5L370.9 741.0L375.4 745.5L380.1 748.9L384.9 750.8L389.6 751.4L393.8 750.4Z" fill="#fff"/><path d="M367.3 690.0L385.8 682.2M365.6 691.1L384.0 683.3M364.1 692.5L382.5 684.7M362.7 694.1L381.1 686.4M361.5 696.1L379.9 688.3M360.5 698.2L378.9 690.5M359.7 700.6L378.2 692.9M359.2 703.2L377.6 695.5M358.8 706.0L377.3 698.2M358.7 708.9L377.2 701.2M358.8 711.9L377.3 704.2M359.2 715.0L377.6 707.3M359.8 718.2L378.2 710.5M360.5 721.4L379.0 713.6M361.5 724.6L380.0 716.8M362.7 727.7L381.2 719.9M364.1 730.7L382.6 723.0M365.7 733.6L384.1 725.9M367.4 736.4L385.9 728.7M369.3 739.1L387.7 731.3M371.3 741.5L389.7 733.7M373.3 743.7L391.8 735.9M375.5 745.6L393.9 737.9M377.7 747.3L396.1 739.6M379.9 748.8L398.4 741.0M382.2 749.9L400.6 742.1M384.5 750.7L402.9 742.9M386.7 751.2L405.1 743.4M388.8 751.4L407.3 743.6M390.9 751.2L409.3 743.5" stroke="#000" stroke-width="1.7"/><path d="M412.2 742.7L411.1 737.7L412.1 737.1L415.2 740.9L417.7 738.2L415.5 733.5L416.1 732.3L419.6 734.8L421.0 730.6L417.9 726.7L418.2 725.1L421.6 725.9L421.6 720.8L418.2 718.2L417.9 716.3L421.0 715.4L419.6 710.0L416.1 708.9L415.5 707.1L417.7 704.6L415.2 699.4L412.1 700.1L411.1 698.5L412.2 694.6L408.9 690.4L406.5 692.7L405.3 691.5L405.2 686.8L401.4 684.0L400.1 687.7L398.8 687.1L397.5 682.1L393.7 681.0L393.6 685.7L392.3 685.6L390.0 681.0L386.6 681.8L387.8 686.8L386.8 687.4L383.7 683.6L381.2 686.3L383.4 691.0L382.7 692.2L379.2 689.7L377.9 693.9L380.9 697.8L380.7 699.4L377.2 698.6L377.2 703.7L380.7 706.3L380.9 708.2L377.9 709.1L379.2 714.5L382.7 715.6L383.4 717.4L381.2 719.9L383.7 725.1L386.8 724.4L387.8 726.0L386.7 729.9L390.0 734.1L392.4 731.8L393.6 733.0L393.7 737.7L397.5 740.5L398.8 736.8L400.1 737.4L401.4 742.4L405.2 743.5L405.3 738.8L406.5 738.9L408.9 743.5L412.2 742.7Z" fill="#fff" stroke="#000" stroke-width="1.4"/></g>
<path d="M393.8 750.4L397.4 748.1L400.3 744.4L402.2 739.6L403.2 733.8L403.1 727.5L402.0 720.7L399.9 714.0L396.9 707.5L393.2 701.6L388.9 696.6L384.3 692.6L379.5 690.0L374.7 688.7L370.3 688.9L366.3 690.6L363.1 693.6L360.6 697.9L359.2 703.2L358.7 709.3L359.3 715.9L360.9 722.7L363.5 729.3L366.8 735.5L370.9 741.0L375.4 745.5L380.1 748.9L384.9 750.8L389.6 751.4L393.8 750.4ZM393.8 750.4L392.6 745.4L393.7 744.8L396.8 748.6L399.3 746.0L397.0 741.2L397.7 740.0L401.2 742.5L402.5 738.4L399.5 734.4L399.7 732.8L403.2 733.7L403.2 728.6L399.7 725.9L399.5 724.1L402.5 723.2L401.2 717.7L397.7 716.7L397.0 714.8L399.3 712.3L396.8 707.2L393.6 707.9L392.6 706.2L393.8 702.4L390.4 698.1L388.1 700.5L386.8 699.3L386.8 694.6L382.9 691.8L381.7 695.5L380.3 694.8L379.1 689.8L375.2 688.8L375.2 693.4L373.9 693.4L371.6 688.7L368.2 689.6L369.4 694.6L368.3 695.2L365.2 691.4L362.7 694.0L365.0 698.8L364.3 700.0L360.8 697.5L359.5 701.6L362.5 705.6L362.3 707.2L358.8 706.3L358.8 711.4L362.3 714.1L362.5 715.9L359.5 716.8L360.8 722.3L364.3 723.3L365.0 725.2L362.7 727.7L365.2 732.8L368.4 732.1L369.4 733.8L368.2 737.6L371.6 741.9L373.9 739.5L375.2 740.7L375.2 745.4L379.1 748.2L380.3 744.5L381.7 745.2L382.9 750.2L386.8 751.2L386.8 746.6L388.1 746.6L390.4 751.3L393.8 750.4Z" fill="#fff" stroke="none" fill-rule="evenodd"/>
<path d="M393.8 750.4L392.6 745.4L393.7 744.8L396.8 748.6L399.3 746.0L397.0 741.2L397.7 740.0L401.2 742.5L402.5 738.4L399.5 734.4L399.7 732.8L403.2 733.7L403.2 728.6L399.7 725.9L399.5 724.1L402.5 723.2L401.2 717.7L397.7 716.7L397.0 714.8L399.3 712.3L396.8 707.2L393.6 707.9L392.6 706.2L393.8 702.4L390.4 698.1L388.1 700.5L386.8 699.3L386.8 694.6L382.9 691.8L381.7 695.5L380.3 694.8L379.1 689.8L375.2 688.8L375.2 693.4L373.9 693.4L371.6 688.7L368.2 689.6L369.4 694.6L368.3 695.2L365.2 691.4L362.7 694.0L365.0 698.8L364.3 700.0L360.8 697.5L359.5 701.6L362.5 705.6L362.3 707.2L358.8 706.3L358.8 711.4L362.3 714.1L362.5 715.9L359.5 716.8L360.8 722.3L364.3 723.3L365.0 725.2L362.7 727.7L365.2 732.8L368.4 732.1L369.4 733.8L368.2 737.6L371.6 741.9L373.9 739.5L375.2 740.7L375.2 745.4L379.1 748.2L380.3 744.5L381.7 745.2L382.9 750.2L386.8 751.2L386.8 746.6L388.1 746.6L390.4 751.3L393.8 750.4Z" fill="none" stroke="#000" stroke-width="2.0" />
<path d="M222.5 696.8L218.8 698.7L215.2 701.1L212.0 704.1L209.1 707.6L206.5 711.5L204.2 715.9L202.3 720.7L200.8 725.9L199.7 731.4L199.0 737.2L198.7 743.3L198.7 749.6L199.2 756.1L200.1 762.7L201.4 769.3L203.0 776.0L205.1 782.7L207.5 789.3L210.2 795.8L213.2 802.2L216.6 808.3L220.2 814.2L224.1 819.7L228.2 825.0L232.5 829.9L236.9 834.3L241.5 838.3L246.2 841.9L250.9 845.0L255.6 847.5L260.4 849.5L265.1 851.0L269.7 851.9L274.3 852.2L278.6 852.0L282.9 851.2L286.9 849.8L331.1 831.2L334.9 829.3L338.4 826.9L341.6 823.9L344.6 820.4L347.2 816.5L349.4 812.1L351.3 807.3L352.8 802.1L353.9 796.6L354.7 790.8L355.0 784.7L354.9 778.4L354.4 771.9L353.5 765.3L352.3 758.7L350.6 752.0L348.6 745.3L346.2 738.7L343.5 732.2L340.4 725.8L337.1 719.7L333.4 713.8L329.6 708.3L325.5 703.0L321.2 698.1L316.7 693.7L312.2 689.7L307.5 686.1L302.8 683.0L298.0 680.5L293.3 678.5L288.6 677.0L283.9 676.1L279.4 675.8L275.0 676.0L270.8 676.8L266.8 678.2ZM284.5 844.3L288.3 842.4L291.8 839.9L294.9 836.8L297.8 833.2L300.2 829.2L302.3 824.6L304.0 819.7L305.3 814.3L306.2 808.7L306.6 802.7L306.7 796.5L306.2 790.1L305.4 783.5L304.1 776.9L302.5 770.2L300.4 763.6L298.0 757.0L295.2 750.6L292.0 744.4L288.6 738.4L284.8 732.7L280.9 727.3L276.7 722.3L272.3 717.7L267.8 713.6L263.1 710.0L258.4 706.9L253.7 704.4L249.0 702.4L244.3 701.1L239.7 700.3L235.2 700.1L230.9 700.5L226.8 701.6L223.0 703.2L219.3 705.4L216.0 708.2L213.0 711.5L210.4 715.3L208.1 719.6L206.2 724.4L204.7 729.5L203.6 735.1L202.9 740.9L202.7 747.0L202.9 753.3L203.5 759.8L204.6 766.4L206.0 773.1L207.9 779.7L210.2 786.3L212.8 792.8L215.8 799.1L219.1 805.3L222.7 811.1L226.5 816.7L230.6 821.9L234.9 826.6L239.4 831.0L243.9 834.8L248.6 838.2L253.3 841.0L258.1 843.3L262.8 844.9L267.4 846.0L271.9 846.5L276.3 846.4L280.5 845.6L284.5 844.3Z" fill="#fff" stroke="none" fill-rule="evenodd"/>
<path d="M222.5 696.8L218.8 698.7L215.2 701.1L212.0 704.1L209.1 707.6L206.5 711.5L204.2 715.9L202.3 720.7L200.8 725.9L199.7 731.4L199.0 737.2L198.7 743.3L198.7 749.6L199.2 756.1L200.1 762.7L201.4 769.3L203.0 776.0L205.1 782.7L207.5 789.3L210.2 795.8L213.2 802.2L216.6 808.3L220.2 814.2L224.1 819.7L228.2 825.0L232.5 829.9L236.9 834.3L241.5 838.3L246.2 841.9L250.9 845.0L255.6 847.5L260.4 849.5L265.1 851.0L269.7 851.9L274.3 852.2L278.6 852.0L282.9 851.2L286.9 849.8L331.1 831.2L334.9 829.3L338.4 826.9L341.6 823.9L344.6 820.4L347.2 816.5L349.4 812.1L351.3 807.3L352.8 802.1L353.9 796.6L354.7 790.8L355.0 784.7L354.9 778.4L354.4 771.9L353.5 765.3L352.3 758.7L350.6 752.0L348.6 745.3L346.2 738.7L343.5 732.2L340.4 725.8L337.1 719.7L333.4 713.8L329.6 708.3L325.5 703.0L321.2 698.1L316.7 693.7L312.2 689.7L307.5 686.1L302.8 683.0L298.0 680.5L293.3 678.5L288.6 677.0L283.9 676.1L279.4 675.8L275.0 676.0L270.8 676.8L266.8 678.2Z" fill="none" stroke="#000" stroke-width="2.5" />
<path d="M286.9 849.8L290.6 847.9L294.2 845.5L297.4 842.5L300.3 839.0L302.9 835.1L305.2 830.7L307.1 825.9L308.6 820.7L309.7 815.2L310.4 809.4L310.7 803.3L310.7 797.0L310.2 790.5L309.3 783.9L308.0 777.3L306.4 770.6L304.3 763.9L301.9 757.3L299.2 750.8L296.2 744.4L292.8 738.3L289.2 732.4L285.3 726.9L281.2 721.6L276.9 716.7L272.5 712.3L267.9 708.3L263.2 704.7L258.5 701.6L253.8 699.1L249.0 697.1L244.3 695.6L239.7 694.7L235.1 694.4L230.8 694.6L226.5 695.4L222.5 696.8" fill="none" stroke="#000" stroke-width="1.5" />
<path d="M310.4 839.9L314.1 837.8L317.5 835.1L320.7 831.9L323.5 828.2L326.0 824.1L328.1 819.5L329.8 814.5L331.2 809.1L332.2 803.4L332.7 797.4L332.9 791.2L332.6 784.8L331.9 778.2L330.9 771.5L329.4 764.8L327.5 758.0L325.3 751.3L322.7 744.7L319.8 738.2L316.6 731.9L313.1 725.9L309.3 720.1L305.2 714.7L301.0 709.6L296.6 704.9L292.0 700.7L287.4 696.9L282.6 693.6L277.8 690.8L273.0 688.5L268.3 686.8L263.6 685.7L259.0 685.2L254.5 685.2L250.2 685.8L246.1 686.9" fill="none" stroke="#000" stroke-width="1.25" />
<path d="M315.7 837.7L319.4 835.5L322.8 832.9L326.0 829.7L328.8 826.0L331.3 821.9L333.4 817.3L335.2 812.3L336.5 806.9L337.5 801.2L338.0 795.2L338.2 789.0L337.9 782.6L337.3 776.0L336.2 769.3L334.7 762.5L332.9 755.8L330.6 749.1L328.0 742.5L325.1 736.0L321.9 729.7L318.4 723.7L314.6 717.9L310.6 712.5L306.3 707.4L301.9 702.7L297.3 698.4L292.7 694.6L287.9 691.3L283.1 688.5L278.4 686.3L273.6 684.6L268.9 683.5L264.3 682.9L259.8 682.9L255.5 683.5L251.4 684.7" fill="none" stroke="#000" stroke-width="1.25" />
<path d="M323.6 834.3L327.3 832.2L330.8 829.5L333.9 826.3L336.8 822.7L339.2 818.5L341.4 813.9L343.1 808.9L344.5 803.6L345.4 797.9L346.0 791.9L346.2 785.6L345.9 779.2L345.2 772.6L344.1 765.9L342.7 759.2L340.8 752.4L338.6 745.7L336.0 739.1L333.1 732.7L329.9 726.4L326.3 720.3L322.5 714.6L318.5 709.1L314.3 704.0L309.9 699.3L305.3 695.1L300.6 691.3L295.9 688.0L291.1 685.2L286.3 683.0L281.5 681.3L276.8 680.1L272.2 679.6L267.8 679.6L263.4 680.2L259.3 681.4" fill="none" stroke="#000" stroke-width="1.25" />
<path d="M314.3 837.7L317.1 835.4L319.8 832.9L322.3 829.9L324.5 826.6L326.5 823.0L328.2 819.1L341.5 813.6L339.8 817.5L337.8 821.1L335.6 824.3L333.1 827.3L330.4 829.9L327.5 832.1Z" fill="#000" stroke="#000" stroke-width="1.0" />
<g clip-path="url(#c21)"><path d="M284.5 844.3L288.3 842.4L291.8 839.9L294.9 836.8L297.8 833.2L300.2 829.2L302.3 824.6L304.0 819.7L305.3 814.3L306.2 808.7L306.6 802.7L306.7 796.5L306.2 790.1L305.4 783.5L304.1 776.9L302.5 770.2L300.4 763.6L298.0 757.0L295.2 750.6L292.0 744.4L288.6 738.4L284.8 732.7L280.9 727.3L276.7 722.3L272.3 717.7L267.8 713.6L263.1 710.0L258.4 706.9L253.7 704.4L249.0 702.4L244.3 701.1L239.7 700.3L235.2 700.1L230.9 700.5L226.8 701.6L223.0 703.2L219.3 705.4L216.0 708.2L213.0 711.5L210.4 715.3L208.1 719.6L206.2 724.4L204.7 729.5L203.6 735.1L202.9 740.9L202.7 747.0L202.9 753.3L203.5 759.8L204.6 766.4L206.0 773.1L207.9 779.7L210.2 786.3L212.8 792.8L215.8 799.1L219.1 805.3L222.7 811.1L226.5 816.7L230.6 821.9L234.9 826.6L239.4 831.0L243.9 834.8L248.6 838.2L253.3 841.0L258.1 843.3L262.8 844.9L267.4 846.0L271.9 846.5L276.3 846.4L280.5 845.6L284.5 844.3Z" fill="#fff"/><path d="M223.1 703.1L267.4 684.5M219.8 705.1L264.1 686.5M216.8 707.5L261.0 688.9M213.9 710.4L258.2 691.8M211.4 713.7L255.7 695.1M209.2 717.4L253.4 698.8M207.3 721.5L251.5 702.9M205.7 725.9L249.9 707.3M204.4 730.7L248.7 712.1M203.5 735.8L247.7 717.2M202.9 741.1L247.2 722.5M202.7 746.6L246.9 728.0M202.8 752.3L247.1 733.7M203.3 758.2L247.6 739.6M204.2 764.2L248.4 745.6M205.4 770.2L249.6 751.6M206.9 776.3L251.1 757.7M208.7 782.3L253.0 763.7M210.9 788.3L255.2 769.7M213.4 794.1L257.6 775.5M216.1 799.8L260.4 781.2M219.1 805.4L263.4 786.8M222.4 810.7L266.6 792.1M225.9 815.8L270.1 797.2M229.5 820.6L273.8 802.0M233.4 825.0L277.6 806.4M237.4 829.1L281.6 810.5M241.5 832.8L285.7 814.2M245.7 836.2L289.9 817.6M249.9 839.0L294.2 820.4M254.2 841.5L298.5 822.9M258.5 843.4L302.8 824.8M262.8 844.9L307.1 826.3M267.0 845.9L311.3 827.3M271.1 846.4L315.4 827.8M275.2 846.4L319.4 827.8M279.0 846.0L323.3 827.4M282.8 845.0L327.0 826.4" stroke="#000" stroke-width="2.6"/><path d="M328.8 825.7L328.2 821.6L329.5 820.9L332.2 824.0L335.4 821.8L334.4 817.6L335.5 816.6L338.3 819.1L341.0 816.0L339.5 811.9L340.4 810.5L343.4 812.5L345.5 808.6L343.6 804.6L344.2 803.0L347.2 804.3L348.7 799.7L346.4 796.0L346.8 794.1L349.7 794.8L350.5 789.6L348.0 786.3L348.1 784.2L350.9 784.2L350.9 778.5L348.2 775.7L348.0 773.5L350.6 772.7L349.9 766.8L347.0 764.5L346.6 762.2L348.9 760.8L347.6 754.8L344.6 753.0L343.9 750.8L345.9 748.7L343.9 742.7L340.9 741.6L340.0 739.4L341.5 736.8L338.9 731.0L336.1 730.6L335.0 728.5L336.0 725.4L332.9 719.9L330.2 720.2L328.9 718.2L329.5 714.7L326.0 709.8L323.5 710.8L322.1 709.0L322.2 705.2L318.3 700.9L316.1 702.5L314.6 701.0L314.2 697.0L310.1 693.5L308.3 695.7L306.7 694.5L305.8 690.3L301.6 687.7L300.2 690.5L298.6 689.7L297.3 685.5L293.0 683.8L292.1 687.0L290.5 686.6L288.7 682.5L284.6 681.7L284.1 685.4L282.6 685.3L280.5 681.5L276.5 681.7L276.6 685.7L275.2 686.0L272.7 682.5L269.1 683.7L269.7 687.8L268.4 688.5L265.7 685.4L262.5 687.6L263.5 691.8L262.4 692.8L259.6 690.3L256.9 693.4L258.4 697.5L257.5 698.9L254.5 696.9L252.4 700.8L254.3 704.8L253.7 706.4L250.7 705.1L249.2 709.7L251.5 713.4L251.1 715.3L248.2 714.6L247.4 719.8L249.9 723.1L249.8 725.2L247.0 725.2L247.0 730.9L249.7 733.7L249.8 735.9L247.3 736.7L248.0 742.6L250.9 744.9L251.3 747.2L249.0 748.6L250.3 754.6L253.3 756.4L254.0 758.6L252.0 760.7L254.0 766.7L257.0 767.8L257.9 770.0L256.4 772.6L259.0 778.4L261.8 778.8L262.9 780.9L261.9 784.0L265.0 789.5L267.7 789.2L269.0 791.2L268.4 794.7L271.9 799.6L274.4 798.6L275.8 800.4L275.7 804.2L279.6 808.5L281.8 806.9L283.3 808.4L283.7 812.4L287.8 815.9L289.6 813.7L291.2 814.9L292.1 819.0L296.3 821.7L297.7 818.9L299.3 819.7L300.6 823.9L304.9 825.6L305.8 822.4L307.4 822.8L309.2 826.9L313.3 827.6L313.8 824.0L315.3 824.1L317.4 827.9L321.4 827.7L321.3 823.7L322.7 823.4L325.2 826.9L328.8 825.7Z" fill="#fff" stroke="#000" stroke-width="1.4"/></g>
<path d="M284.5 844.3L288.3 842.4L291.8 839.9L294.9 836.8L297.8 833.2L300.2 829.2L302.3 824.6L304.0 819.7L305.3 814.3L306.2 808.7L306.6 802.7L306.7 796.5L306.2 790.1L305.4 783.5L304.1 776.9L302.5 770.2L300.4 763.6L298.0 757.0L295.2 750.6L292.0 744.4L288.6 738.4L284.8 732.7L280.9 727.3L276.7 722.3L272.3 717.7L267.8 713.6L263.1 710.0L258.4 706.9L253.7 704.4L249.0 702.4L244.3 701.1L239.7 700.3L235.2 700.1L230.9 700.5L226.8 701.6L223.0 703.2L219.3 705.4L216.0 708.2L213.0 711.5L210.4 715.3L208.1 719.6L206.2 724.4L204.7 729.5L203.6 735.1L202.9 740.9L202.7 747.0L202.9 753.3L203.5 759.8L204.6 766.4L206.0 773.1L207.9 779.7L210.2 786.3L212.8 792.8L215.8 799.1L219.1 805.3L222.7 811.1L226.5 816.7L230.6 821.9L234.9 826.6L239.4 831.0L243.9 834.8L248.6 838.2L253.3 841.0L258.1 843.3L262.8 844.9L267.4 846.0L271.9 846.5L276.3 846.4L280.5 845.6L284.5 844.3ZM284.5 844.3L284.0 840.2L285.3 839.5L288.0 842.6L291.1 840.4L290.1 836.2L291.2 835.2L294.1 837.7L296.8 834.6L295.3 830.5L296.2 829.1L299.1 831.1L301.2 827.2L299.3 823.2L300.0 821.6L303.0 822.9L304.4 818.3L302.2 814.6L302.6 812.7L305.5 813.4L306.2 808.2L303.7 804.9L303.9 802.8L306.6 802.8L306.7 797.1L303.9 794.3L303.8 792.1L306.4 791.3L305.7 785.4L302.8 783.1L302.4 780.8L304.7 779.4L303.3 773.4L300.3 771.6L299.7 769.4L301.6 767.3L299.6 761.3L296.6 760.2L295.8 758.0L297.3 755.4L294.7 749.6L291.8 749.2L290.7 747.1L291.8 744.0L288.7 738.5L286.0 738.8L284.7 736.8L285.3 733.3L281.7 728.4L279.3 729.4L277.8 727.6L278.0 723.8L274.0 719.5L271.9 721.1L270.4 719.6L270.0 715.6L265.8 712.1L264.0 714.3L262.4 713.1L261.6 709.0L257.3 706.3L256.0 709.1L254.3 708.3L253.0 704.1L248.7 702.4L247.8 705.6L246.2 705.2L244.5 701.1L240.3 700.3L239.9 704.0L238.3 703.9L236.2 700.1L232.3 700.3L232.3 704.3L230.9 704.6L228.5 701.1L224.9 702.3L225.4 706.4L224.1 707.1L221.4 704.0L218.3 706.2L219.3 710.4L218.2 711.4L215.3 708.9L212.6 712.0L214.1 716.1L213.2 717.5L210.3 715.5L208.2 719.4L210.1 723.4L209.4 725.0L206.4 723.7L205.0 728.3L207.2 732.0L206.8 733.9L203.9 733.2L203.2 738.4L205.7 741.7L205.5 743.8L202.8 743.8L202.7 749.5L205.5 752.3L205.6 754.5L203.0 755.3L203.7 761.2L206.6 763.5L207.0 765.8L204.7 767.2L206.1 773.2L209.1 775.0L209.7 777.2L207.8 779.3L209.8 785.3L212.8 786.4L213.6 788.6L212.1 791.2L214.7 797.0L217.6 797.4L218.7 799.5L217.6 802.6L220.7 808.1L223.4 807.8L224.7 809.8L224.1 813.3L227.7 818.2L230.1 817.2L231.6 819.0L231.4 822.8L235.4 827.1L237.5 825.5L239.0 827.0L239.4 831.0L243.6 834.5L245.4 832.3L247.0 833.5L247.8 837.6L252.1 840.3L253.4 837.5L255.1 838.3L256.4 842.5L260.7 844.2L261.6 841.0L263.2 841.4L264.9 845.5L269.1 846.3L269.5 842.6L271.1 842.7L273.2 846.5L277.1 846.3L277.1 842.3L278.5 842.0L280.9 845.5L284.5 844.3Z" fill="#fff" stroke="none" fill-rule="evenodd"/>
<path d="M284.5 844.3L284.0 840.2L285.3 839.5L288.0 842.6L291.1 840.4L290.1 836.2L291.2 835.2L294.1 837.7L296.8 834.6L295.3 830.5L296.2 829.1L299.1 831.1L301.2 827.2L299.3 823.2L300.0 821.6L303.0 822.9L304.4 818.3L302.2 814.6L302.6 812.7L305.5 813.4L306.2 808.2L303.7 804.9L303.9 802.8L306.6 802.8L306.7 797.1L303.9 794.3L303.8 792.1L306.4 791.3L305.7 785.4L302.8 783.1L302.4 780.8L304.7 779.4L303.3 773.4L300.3 771.6L299.7 769.4L301.6 767.3L299.6 761.3L296.6 760.2L295.8 758.0L297.3 755.4L294.7 749.6L291.8 749.2L290.7 747.1L291.8 744.0L288.7 738.5L286.0 738.8L284.7 736.8L285.3 733.3L281.7 728.4L279.3 729.4L277.8 727.6L278.0 723.8L274.0 719.5L271.9 721.1L270.4 719.6L270.0 715.6L265.8 712.1L264.0 714.3L262.4 713.1L261.6 709.0L257.3 706.3L256.0 709.1L254.3 708.3L253.0 704.1L248.7 702.4L247.8 705.6L246.2 705.2L244.5 701.1L240.3 700.3L239.9 704.0L238.3 703.9L236.2 700.1L232.3 700.3L232.3 704.3L230.9 704.6L228.5 701.1L224.9 702.3L225.4 706.4L224.1 707.1L221.4 704.0L218.3 706.2L219.3 710.4L218.2 711.4L215.3 708.9L212.6 712.0L214.1 716.1L213.2 717.5L210.3 715.5L208.2 719.4L210.1 723.4L209.4 725.0L206.4 723.7L205.0 728.3L207.2 732.0L206.8 733.9L203.9 733.2L203.2 738.4L205.7 741.7L205.5 743.8L202.8 743.8L202.7 749.5L205.5 752.3L205.6 754.5L203.0 755.3L203.7 761.2L206.6 763.5L207.0 765.8L204.7 767.2L206.1 773.2L209.1 775.0L209.7 777.2L207.8 779.3L209.8 785.3L212.8 786.4L213.6 788.6L212.1 791.2L214.7 797.0L217.6 797.4L218.7 799.5L217.6 802.6L220.7 808.1L223.4 807.8L224.7 809.8L224.1 813.3L227.7 818.2L230.1 817.2L231.6 819.0L231.4 822.8L235.4 827.1L237.5 825.5L239.0 827.0L239.4 831.0L243.6 834.5L245.4 832.3L247.0 833.5L247.8 837.6L252.1 840.3L253.4 837.5L255.1 838.3L256.4 842.5L260.7 844.2L261.6 841.0L263.2 841.4L264.9 845.5L269.1 846.3L269.5 842.6L271.1 842.7L273.2 846.5L277.1 846.3L277.1 842.3L278.5 842.0L280.9 845.5L284.5 844.3Z" fill="none" stroke="#000" stroke-width="1.88" />
<ellipse cx="254.7" cy="773.3" rx="46.2" ry="77.0" transform="rotate(-22.8 254.7 773.3)" fill="none" stroke="#000" stroke-width="1.25" />
<path d="M177.0 807.0L301.0 754.0" stroke="#000" stroke-width="1.4"/>
<path d="M452.0 758.0L464.0 764.0" stroke="#000" stroke-width="1.3"/>
<path d="M468.0 760.0Q462.0 764.0 465.0 772.0" fill="none" stroke="#000" stroke-width="2"/>
<path d="M472.8 762.8Q466.8 766.8 469.8 774.8" fill="none" stroke="#000" stroke-width="2"/>
<path d="M477.6 765.6Q471.6 769.6 474.6 777.6" fill="none" stroke="#000" stroke-width="2"/>
<path d="M482.4 768.4Q476.4 772.4 479.4 780.4" fill="none" stroke="#000" stroke-width="2"/>
<path d="M482.0 777.0L490.0 782.0" stroke="#000" stroke-width="1.5"/>
<circle cx="494" cy="784" r="5.5" fill="#fff" stroke="#000" stroke-width="1.8"/>
<path d="M503 782Q516 776 530 779L537 786L532 812L509 817L502 813Z" fill="#fff" stroke="#000" stroke-width="2"/><path d="M509 790L509 816M509 790L536 786" stroke="#000" stroke-width="1.4"/>
<circle cx="523" cy="801" r="3.2" fill="none" stroke="#000" stroke-width="1.5"/>
<text x="667.5" y="681.0" font-family="Liberation Sans, sans-serif" font-weight="bold" font-size="26.5">2</text>
<text x="682.1" y="681.0" font-family="Liberation Sans, sans-serif" font-weight="bold" font-size="26.5">5</text>
<text x="740.5" y="681.0" font-family="Liberation Sans, sans-serif" font-weight="bold" font-size="26.5">2</text>
<text x="755.1" y="681.0" font-family="Liberation Sans, sans-serif" font-weight="bold" font-size="26.5">6</text>
<text x="791.0" y="681.0" font-family="Liberation Sans, sans-serif" font-weight="bold" font-size="26.5">2</text>
<text x="805.6" y="681.0" font-family="Liberation Sans, sans-serif" font-weight="bold" font-size="26.5">7</text>
<text x="525.5" y="759.0" font-family="Liberation Sans, sans-serif" font-weight="bold" font-size="26.5">2</text>
<text x="540.1" y="759.0" font-family="Liberation Sans, sans-serif" font-weight="bold" font-size="26.5">4</text>
<text x="557.0" y="827.0" font-family="Liberation Sans, sans-serif" font-weight="bold" font-size="26.5">2</text>
<text x="571.6" y="827.0" font-family="Liberation Sans, sans-serif" font-weight="bold" font-size="26.5">3</text>
<path d="M462.5 823.6h3.6v18.4h-3.6v-13.6l-2.5 1.5v-3.3ZM470.5 823.6h3.6v18.4h-3.6v-13.6l-2.5 1.5v-3.3Z" fill="#000"/>
<text x="489.8" y="842.0" font-family="Liberation Sans, sans-serif" font-weight="bold" font-size="26.5">2</text>
<path d="M485.2 823.6h3.6v18.4h-3.6v-13.6l-2.5 1.5v-3.3Z" fill="#000"/>
<text x="515.8" y="842.0" font-family="Liberation Sans, sans-serif" font-weight="bold" font-size="26.5">3</text>
<path d="M511.2 823.6h3.6v18.4h-3.6v-13.6l-2.5 1.5v-3.3Z" fill="#000"/>
<text x="404.0" y="875.5" font-family="Liberation Sans, sans-serif" font-weight="bold" font-size="26.5">2</text>
<text x="418.6" y="875.5" font-family="Liberation Sans, sans-serif" font-weight="bold" font-size="26.5">2</text>
<path d="M469.3 776.0L469.3 822.0" stroke="#000" stroke-width="1.4"/>
<path d="M492.9 788.0L492.9 822.0" stroke="#000" stroke-width="1.4"/>
<path d="M523.4 811.0L523.4 822.0" stroke="#000" stroke-width="1.4"/>
<path d="M683.0 658.0L683.0 640.0" stroke="#000" stroke-width="1.4"/>
<path d="M757.4 658.0L757.4 605.0" stroke="#000" stroke-width="1.4"/>
<path d="M805.0 658.0L805.0 584.0" stroke="#000" stroke-width="1.4"/>
<path d="M575.0 805.0L575.0 738.0" stroke="#000" stroke-width="1.4"/>
<path d="M418.6 784.0L418.6 858.0" stroke="#000" stroke-width="1.4"/>
<path d="M341.7 830.0L341.7 851.0" stroke="#000" stroke-width="1.4"/>
<path d="M523.0 843.0L523.0 851.0" stroke="#000" stroke-width="1.4"/>
<path d="M470.0 843.0L470.0 851.0" stroke="#000" stroke-width="1.4"/>
<path d="M493.5 843.0L493.5 851.0" stroke="#000" stroke-width="1.4"/>
<path d="M341.7 851.0L523.0 851.0" stroke="#000" stroke-width="1.6"/>
<path d="M498.0 750.0L527.0 750.0" stroke="#000" stroke-width="1.4"/>
<text transform="translate(1175.0,863.7) scale(0.94,1)" font-family="Liberation Sans, sans-serif" font-weight="normal" font-size="19.5" text-anchor="middle">00002918</text>
</svg></body></html>
